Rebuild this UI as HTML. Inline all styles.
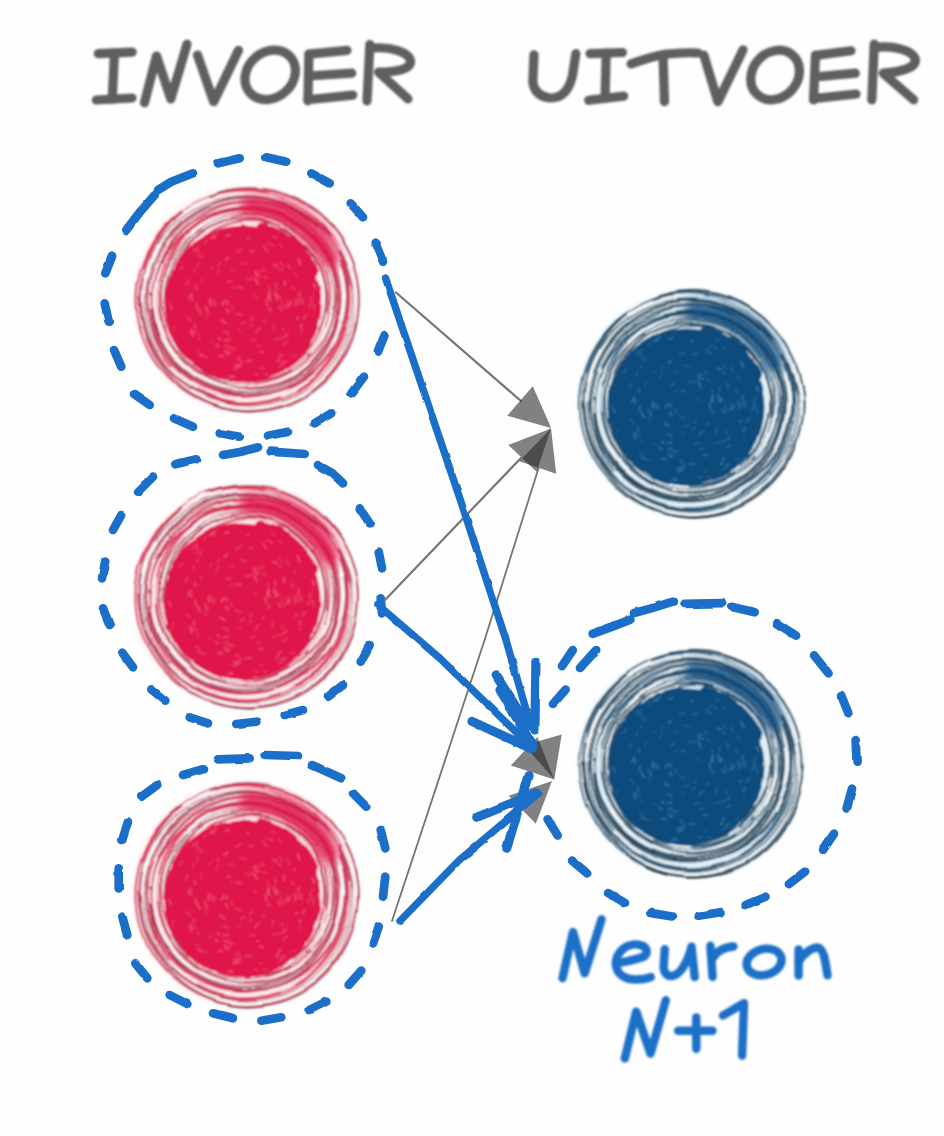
<!DOCTYPE html>
<html><head><meta charset="utf-8"><title>Neuron</title>
<style>
html,body{margin:0;padding:0;background:#fefefe;font-family:"Liberation Sans",sans-serif;}
svg{display:block}
</style></head><body>
<svg width="944" height="1136" viewBox="0 0 944 1136">
<defs>
<filter id="soft" x="-10%" y="-10%" width="120%" height="120%"><feGaussianBlur stdDeviation="0.9"/></filter>
<filter id="b3" x="-20%" y="-20%" width="140%" height="140%"><feGaussianBlur stdDeviation="3"/></filter>
<filter id="b5" x="-40%" y="-40%" width="180%" height="180%"><feGaussianBlur stdDeviation="5"/></filter>
<filter id="bt" x="-15%" y="-15%" width="130%" height="130%"><feGaussianBlur stdDeviation="0.8"/></filter>
<filter id="b1" x="-15%" y="-15%" width="130%" height="130%"><feGaussianBlur stdDeviation="0.6"/></filter>
<filter id="wob" color-interpolation-filters="sRGB" x="-10%" y="-10%" width="120%" height="120%"><feTurbulence type="fractalNoise" baseFrequency="0.022" numOctaves="1" seed="3" result="n"/><feDisplacementMap in="SourceGraphic" in2="n" scale="7" xChannelSelector="R" yChannelSelector="G"/><feGaussianBlur stdDeviation="0.7"/></filter>
<filter id="wob3" color-interpolation-filters="sRGB" x="-10%" y="-10%" width="120%" height="120%"><feTurbulence type="fractalNoise" baseFrequency="0.06" numOctaves="2" seed="11" result="n"/><feDisplacementMap in="SourceGraphic" in2="n" scale="2.6" xChannelSelector="R" yChannelSelector="G"/><feGaussianBlur stdDeviation="0.55"/></filter>
<filter id="wob2" color-interpolation-filters="sRGB" x="-10%" y="-10%" width="120%" height="120%"><feTurbulence type="fractalNoise" baseFrequency="0.06" numOctaves="2" seed="5" result="n"/><feDisplacementMap in="SourceGraphic" in2="n" scale="4" xChannelSelector="R" yChannelSelector="G"/></filter>
</defs>
<rect width="944" height="1136" fill="#fefefe"/>
<g filter="url(#soft)">
<circle cx="246.5" cy="299" r="111.5" fill="#fdebef" filter="url(#b3)"/>
<g filter="url(#wob)">
<ellipse cx="245.2" cy="296.5" rx="79.0" ry="76.5" transform="rotate(117 246.5 299)" fill="none" stroke="#dc3256" stroke-width="2.39" opacity="0.9"/>
<ellipse cx="245.5" cy="295.8" rx="83.0" ry="80.3" transform="rotate(91 246.5 299)" fill="none" stroke="#dc3256" stroke-width="2.29" opacity="0.9"/>
<ellipse cx="243.4" cy="296.1" rx="87.0" ry="87.6" transform="rotate(76 246.5 299)" fill="none" stroke="#dc3256" stroke-width="1.97" opacity="0.9"/>
<ellipse cx="244.5" cy="299.9" rx="91.1" ry="90.5" transform="rotate(171 246.5 299)" fill="none" stroke="#dc3256" stroke-width="2.25" opacity="0.9"/>
<ellipse cx="249.9" cy="295.7" rx="95.1" ry="93.1" transform="rotate(155 246.5 299)" fill="none" stroke="#dc3256" stroke-width="1.99" opacity="0.9"/>
<ellipse cx="243.7" cy="297.6" rx="99.1" ry="96.5" transform="rotate(147 246.5 299)" fill="none" stroke="#dc3256" stroke-width="2.44" opacity="0.9"/>
<ellipse cx="247.5" cy="298.1" rx="103.1" ry="99.8" transform="rotate(99 246.5 299)" fill="none" stroke="#dc3256" stroke-width="1.90" opacity="0.9"/>
<ellipse cx="244.4" cy="300.3" rx="107.1" ry="105.1" transform="rotate(77 246.5 299)" fill="none" stroke="#dc3256" stroke-width="2.45" opacity="0.9"/>
<ellipse cx="246.2" cy="297.6" rx="111.2" ry="111.2" transform="rotate(143 246.5 299)" fill="none" stroke="#dc3256" stroke-width="2.09" opacity="0.9"/>
<ellipse cx="247.1" cy="299.2" rx="80.5" ry="80.5" transform="rotate(158 246.5 299)" fill="none" stroke="#7d1f33" stroke-width="1.05" opacity="0.72"/>
<ellipse cx="244.9" cy="302.6" rx="84.5" ry="83.0" transform="rotate(21 246.5 299)" fill="none" stroke="#7d1f33" stroke-width="1.05" opacity="0.72"/>
<ellipse cx="248.5" cy="296.4" rx="88.4" ry="85.1" transform="rotate(88 246.5 299)" fill="none" stroke="#7d1f33" stroke-width="1.05" opacity="0.72"/>
<ellipse cx="247.8" cy="301.0" rx="92.4" ry="93.2" transform="rotate(103 246.5 299)" fill="none" stroke="#7d1f33" stroke-width="1.05" opacity="0.72"/>
<ellipse cx="245.1" cy="300.5" rx="96.4" ry="95.6" transform="rotate(107 246.5 299)" fill="none" stroke="#7d1f33" stroke-width="1.05" opacity="0.72"/>
<ellipse cx="246.2" cy="301.6" rx="100.3" ry="99.0" transform="rotate(170 246.5 299)" fill="none" stroke="#7d1f33" stroke-width="1.05" opacity="0.72"/>
<ellipse cx="247.7" cy="295.7" rx="104.3" ry="103.9" transform="rotate(126 246.5 299)" fill="none" stroke="#7d1f33" stroke-width="1.05" opacity="0.72"/>
<ellipse cx="250.2" cy="301.4" rx="108.3" ry="106.3" transform="rotate(51 246.5 299)" fill="none" stroke="#7d1f33" stroke-width="1.05" opacity="0.72"/>
<ellipse cx="247.8" cy="295.4" rx="112.3" ry="108.8" transform="rotate(83 246.5 299)" fill="none" stroke="#7d1f33" stroke-width="1.05" opacity="0.72"/>
<path d="M324.5,328.9 A85.2786822454885,85.2786822454885 0 0 1 310.8,352.3" fill="none" stroke="#ffffff" stroke-width="1.9" stroke-linecap="round" opacity="0.90"/>
<path d="M168.0,326.7 A84.25627643360389,84.25627643360389 0 0 1 163.9,305.4" fill="none" stroke="#ffffff" stroke-width="2.4" stroke-linecap="round" opacity="0.70"/>
<path d="M189.2,370.2 A93.62830248192756,93.62830248192756 0 0 1 167.8,345.4" fill="none" stroke="#ffffff" stroke-width="1.6" stroke-linecap="round" opacity="0.68"/>
<path d="M157.4,305.4 A88.5334103430641,88.5334103430641 0 0 1 158.4,281.6" fill="none" stroke="#ffffff" stroke-width="1.9" stroke-linecap="round" opacity="0.73"/>
<path d="M340.2,271.0 A97.85755426377898,97.85755426377898 0 0 1 344.4,299.7" fill="none" stroke="#ffffff" stroke-width="2.2" stroke-linecap="round" opacity="0.62"/>
<path d="M267.8,193.3 A107.18692428162265,107.18692428162265 0 0 1 302.5,206.5" fill="none" stroke="#ffffff" stroke-width="1.9" stroke-linecap="round" opacity="0.64"/>
<path d="M337.6,335.7 A99.76010783919986,99.76010783919986 0 0 1 332.2,346.8" fill="none" stroke="#ffffff" stroke-width="1.8" stroke-linecap="round" opacity="0.62"/>
<path d="M293.6,363.8 A82.00653189323799,82.00653189323799 0 0 1 284.4,369.6" fill="none" stroke="#ffffff" stroke-width="2.4" stroke-linecap="round" opacity="0.81"/>
<path d="M244.7,383.6 A86.15941358926496,86.15941358926496 0 0 1 227.5,381.7" fill="none" stroke="#ffffff" stroke-width="2.4" stroke-linecap="round" opacity="0.95"/>
<path d="M150.4,308.0 A95.04770485647815,95.04770485647815 0 0 1 149.9,295.8" fill="none" stroke="#ffffff" stroke-width="1.7" stroke-linecap="round" opacity="0.89"/>
<path d="M332.2,310.1 A86.52028109474008,86.52028109474008 0 0 1 321.9,340.2" fill="none" stroke="#ffffff" stroke-width="2.1" stroke-linecap="round" opacity="0.61"/>
<path d="M343.2,285.0 A96.78706434627259,96.78706434627259 0 0 1 341.9,318.3" fill="none" stroke="#ffffff" stroke-width="1.8" stroke-linecap="round" opacity="0.66"/>
<path d="M144.4,276.8 A103.61426143525688,103.61426143525688 0 0 1 156.3,245.8" fill="none" stroke="#ffffff" stroke-width="2.4" stroke-linecap="round" opacity="0.94"/>
<path d="M284.0,198.5 A105.8736063649065,105.8736063649065 0 0 1 314.5,216.0" fill="none" stroke="#ffffff" stroke-width="2.0" stroke-linecap="round" opacity="0.72"/>
<path d="M327.1,314.2 A82.81144422075823,82.81144422075823 0 0 1 323.1,328.8" fill="none" stroke="#ffffff" stroke-width="2.5" stroke-linecap="round" opacity="0.76"/>
<path d="M353.9,289.8 A108.23659363573478,108.23659363573478 0 0 1 349.5,329.5" fill="none" stroke="#ffffff" stroke-width="1.7" stroke-linecap="round" opacity="0.67"/>
<path d="M185.5,237.3 A87.72245417173424,87.72245417173424 0 0 1 210.9,219.4" fill="none" stroke="#ffffff" stroke-width="2.2" stroke-linecap="round" opacity="0.88"/>
<path d="M202.7,228.6 A84.37379762061065,84.37379762061065 0 0 1 230.6,217.4" fill="none" stroke="#ffffff" stroke-width="2.0" stroke-linecap="round" opacity="0.66"/>
<path d="M196.8,389.0 A104.09579206856773,104.09579206856773 0 0 1 170.4,367.5" fill="none" stroke="#ffffff" stroke-width="1.9" stroke-linecap="round" opacity="0.93"/>
<path d="M294.4,390.3 A102.29436263775803,102.29436263775803 0 0 1 281.4,396.3" fill="none" stroke="#ffffff" stroke-width="2.4" stroke-linecap="round" opacity="0.65"/>
<path d="M350.2,286.2 A105.14229339871083,105.14229339871083 0 0 1 349.6,316.4" fill="none" stroke="#ffffff" stroke-width="1.6" stroke-linecap="round" opacity="0.60"/>
<path d="M183.9,210.5 A109.1849249626574,109.1849249626574 0 0 1 207.9,197.3" fill="none" stroke="#ffffff" stroke-width="2.4" stroke-linecap="round" opacity="0.89"/>
<path d="M244.4,387.2 A87.90918544518817,87.90918544518817 0 0 1 228.2,385.5" fill="none" stroke="#ffffff" stroke-width="1.7" stroke-linecap="round" opacity="0.75"/>
<path d="M318.7,253.4 A85.67006294209753,85.67006294209753 0 0 1 326.5,269.0" fill="none" stroke="#ffffff" stroke-width="2.5" stroke-linecap="round" opacity="0.75"/>
<path d="M138.9,296.0 A107.6961903615946,107.6961903615946 0 0 1 142.6,269.0" fill="none" stroke="#ffffff" stroke-width="1.9" stroke-linecap="round" opacity="0.66"/>
<path d="M271.4,221.7 A82.11010949111798,82.11010949111798 0 0 1 283.0,226.4" fill="none" stroke="#ffffff" stroke-width="2.1" stroke-linecap="round" opacity="0.71"/>
<path d="M154.2,266.3 A96.51376395568504,96.51376395568504 0 0 1 169.4,239.2" fill="none" stroke="#ffffff" stroke-width="1.7" stroke-linecap="round" opacity="0.70"/>
<path d="M144.0,295.6 A103.62331076515368,103.62331076515368 0 0 1 148.9,269.0" fill="none" stroke="#ffffff" stroke-width="1.9" stroke-linecap="round" opacity="0.81"/>
<path d="M150.4,291.8 A96.15548766383421,96.15548766383421 0 0 1 156.8,264.0" fill="none" stroke="#ffffff" stroke-width="2.0" stroke-linecap="round" opacity="0.93"/>
<path d="M318.1,228.1 A101.578100701048,101.578100701048 0 0 1 338.8,258.9" fill="none" stroke="#ffffff" stroke-width="2.5" stroke-linecap="round" opacity="0.89"/>
<path d="M306.8,357.4 A85.83976420511185,85.83976420511185 0 0 1 291.7,369.8" fill="none" stroke="#ffffff" stroke-width="1.5" stroke-linecap="round" opacity="0.83"/>
<path d="M330.3,237.0 A103.95020848084835,103.95020848084835 0 0 1 338.6,249.9" fill="none" stroke="#ffffff" stroke-width="1.6" stroke-linecap="round" opacity="0.91"/>
</g>
<path d="M249.7,206.1 A93,93 0 0 1 330.1,258.2" fill="none" stroke="#e0194b" stroke-width="20" opacity="0.85" stroke-linecap="round" filter="url(#b5)"/>
<path d="M282.1,201.3 A104,104 0 0 1 331.7,239.3" fill="none" stroke="#e0194b" stroke-width="8" opacity="0.35" stroke-linecap="round" filter="url(#b3)"/>
<g filter="url(#wob2)"><circle cx="243" cy="304" r="78.5" fill="#e0194b"/>
<path d="M262.7,230.6 A76,76 0 0 1 311.9,271.9" fill="none" stroke="#e0194b" stroke-width="14" stroke-linecap="round"/></g>
<g filter="url(#b1)">
<line x1="278.1" y1="295.0" x2="276.8" y2="298.8" stroke="#f4728d" stroke-width="1.7" stroke-linecap="round" opacity="0.42"/>
<line x1="310.4" y1="297.8" x2="312.2" y2="301.5" stroke="#f4728d" stroke-width="1.7" stroke-linecap="round" opacity="0.43"/>
<line x1="227.9" y1="333.0" x2="222.9" y2="331.2" stroke="#f4728d" stroke-width="1.7" stroke-linecap="round" opacity="0.26"/>
<line x1="196.5" y1="289.2" x2="195.6" y2="285.6" stroke="#f4728d" stroke-width="1.7" stroke-linecap="round" opacity="0.47"/>
<line x1="222.3" y1="304.7" x2="225.7" y2="300.3" stroke="#f4728d" stroke-width="1.7" stroke-linecap="round" opacity="0.59"/>
<line x1="273.9" y1="324.9" x2="273.3" y2="330.4" stroke="#f4728d" stroke-width="1.7" stroke-linecap="round" opacity="0.34"/>
<line x1="279.2" y1="338.7" x2="273.7" y2="340.2" stroke="#f4728d" stroke-width="1.7" stroke-linecap="round" opacity="0.34"/>
<line x1="287.7" y1="360.7" x2="283.3" y2="363.4" stroke="#f4728d" stroke-width="1.7" stroke-linecap="round" opacity="0.28"/>
<line x1="301.6" y1="324.7" x2="300.8" y2="327.3" stroke="#f4728d" stroke-width="1.7" stroke-linecap="round" opacity="0.58"/>
<line x1="197.4" y1="256.5" x2="199.4" y2="251.0" stroke="#f4728d" stroke-width="1.7" stroke-linecap="round" opacity="0.27"/>
<line x1="273.9" y1="264.5" x2="277.9" y2="266.8" stroke="#f4728d" stroke-width="1.7" stroke-linecap="round" opacity="0.57"/>
<line x1="241.6" y1="331.0" x2="238.3" y2="330.5" stroke="#f4728d" stroke-width="1.7" stroke-linecap="round" opacity="0.29"/>
<line x1="253.0" y1="316.9" x2="250.8" y2="319.7" stroke="#f4728d" stroke-width="1.7" stroke-linecap="round" opacity="0.36"/>
<line x1="243.9" y1="263.6" x2="247.0" y2="263.8" stroke="#f4728d" stroke-width="1.7" stroke-linecap="round" opacity="0.37"/>
<line x1="279.1" y1="305.9" x2="281.5" y2="310.7" stroke="#f4728d" stroke-width="1.7" stroke-linecap="round" opacity="0.44"/>
<line x1="263.6" y1="352.2" x2="260.8" y2="351.8" stroke="#f4728d" stroke-width="1.7" stroke-linecap="round" opacity="0.54"/>
<line x1="195.0" y1="327.8" x2="194.9" y2="323.8" stroke="#f4728d" stroke-width="1.7" stroke-linecap="round" opacity="0.43"/>
<line x1="212.3" y1="236.8" x2="217.1" y2="233.7" stroke="#f4728d" stroke-width="1.7" stroke-linecap="round" opacity="0.50"/>
<line x1="210.9" y1="269.0" x2="212.5" y2="267.0" stroke="#f4728d" stroke-width="1.7" stroke-linecap="round" opacity="0.30"/>
<line x1="301.5" y1="330.2" x2="301.1" y2="333.3" stroke="#f4728d" stroke-width="1.7" stroke-linecap="round" opacity="0.28"/>
<line x1="279.7" y1="244.0" x2="282.2" y2="246.5" stroke="#f4728d" stroke-width="1.7" stroke-linecap="round" opacity="0.33"/>
<line x1="231.5" y1="352.7" x2="227.3" y2="353.3" stroke="#f4728d" stroke-width="1.7" stroke-linecap="round" opacity="0.34"/>
<line x1="314.5" y1="284.8" x2="315.2" y2="288.1" stroke="#f4728d" stroke-width="1.7" stroke-linecap="round" opacity="0.59"/>
<line x1="228.5" y1="345.3" x2="224.7" y2="346.1" stroke="#f4728d" stroke-width="1.7" stroke-linecap="round" opacity="0.42"/>
<line x1="209.4" y1="304.6" x2="209.4" y2="302.2" stroke="#f4728d" stroke-width="1.7" stroke-linecap="round" opacity="0.34"/>
<line x1="283.1" y1="328.1" x2="283.0" y2="330.6" stroke="#f4728d" stroke-width="1.7" stroke-linecap="round" opacity="0.36"/>
<line x1="251.9" y1="360.9" x2="246.5" y2="361.3" stroke="#f4728d" stroke-width="1.7" stroke-linecap="round" opacity="0.48"/>
<line x1="226.3" y1="235.9" x2="229.8" y2="234.7" stroke="#f4728d" stroke-width="1.7" stroke-linecap="round" opacity="0.59"/>
<line x1="281.8" y1="354.9" x2="279.5" y2="356.1" stroke="#f4728d" stroke-width="1.7" stroke-linecap="round" opacity="0.54"/>
<line x1="288.1" y1="264.1" x2="290.3" y2="269.3" stroke="#f4728d" stroke-width="1.7" stroke-linecap="round" opacity="0.30"/>
<line x1="188.9" y1="298.5" x2="191.8" y2="293.7" stroke="#f4728d" stroke-width="1.7" stroke-linecap="round" opacity="0.54"/>
<line x1="180.0" y1="270.2" x2="183.5" y2="266.4" stroke="#f4728d" stroke-width="1.7" stroke-linecap="round" opacity="0.33"/>
<line x1="269.9" y1="307.9" x2="269.8" y2="310.7" stroke="#f4728d" stroke-width="1.7" stroke-linecap="round" opacity="0.54"/>
<line x1="186.3" y1="284.9" x2="188.8" y2="280.4" stroke="#f4728d" stroke-width="1.7" stroke-linecap="round" opacity="0.42"/>
<line x1="310.7" y1="303.3" x2="309.3" y2="307.5" stroke="#f4728d" stroke-width="1.7" stroke-linecap="round" opacity="0.44"/>
<line x1="231.0" y1="288.3" x2="234.2" y2="287.3" stroke="#f4728d" stroke-width="1.7" stroke-linecap="round" opacity="0.28"/>
<line x1="239.3" y1="367.1" x2="234.2" y2="368.4" stroke="#f4728d" stroke-width="1.7" stroke-linecap="round" opacity="0.59"/>
<line x1="196.8" y1="308.3" x2="196.5" y2="303.2" stroke="#f4728d" stroke-width="1.7" stroke-linecap="round" opacity="0.52"/>
<line x1="198.1" y1="265.1" x2="198.7" y2="262.2" stroke="#f4728d" stroke-width="1.7" stroke-linecap="round" opacity="0.34"/>
<line x1="240.0" y1="262.6" x2="242.5" y2="262.7" stroke="#f4728d" stroke-width="1.7" stroke-linecap="round" opacity="0.27"/>
<line x1="238.2" y1="365.9" x2="233.4" y2="364.2" stroke="#f4728d" stroke-width="1.7" stroke-linecap="round" opacity="0.35"/>
<line x1="192.1" y1="300.1" x2="192.2" y2="297.3" stroke="#f4728d" stroke-width="1.7" stroke-linecap="round" opacity="0.56"/>
<line x1="267.5" y1="374.7" x2="265.0" y2="374.2" stroke="#f4728d" stroke-width="1.7" stroke-linecap="round" opacity="0.41"/>
<line x1="272.8" y1="236.6" x2="276.0" y2="237.9" stroke="#f4728d" stroke-width="1.7" stroke-linecap="round" opacity="0.32"/>
<line x1="275.1" y1="291.0" x2="275.8" y2="293.9" stroke="#f4728d" stroke-width="1.7" stroke-linecap="round" opacity="0.43"/>
<line x1="269.3" y1="293.8" x2="268.9" y2="298.2" stroke="#f4728d" stroke-width="1.7" stroke-linecap="round" opacity="0.56"/>
<line x1="230.4" y1="269.1" x2="234.7" y2="269.9" stroke="#f4728d" stroke-width="1.7" stroke-linecap="round" opacity="0.26"/>
<line x1="295.5" y1="303.4" x2="295.6" y2="307.0" stroke="#f4728d" stroke-width="1.7" stroke-linecap="round" opacity="0.30"/>
<line x1="220.2" y1="340.0" x2="218.9" y2="338.0" stroke="#f4728d" stroke-width="1.7" stroke-linecap="round" opacity="0.51"/>
<line x1="255.5" y1="279.7" x2="258.1" y2="284.3" stroke="#f4728d" stroke-width="1.7" stroke-linecap="round" opacity="0.57"/>
<line x1="234.8" y1="348.7" x2="228.5" y2="347.9" stroke="#f4728d" stroke-width="1.7" stroke-linecap="round" opacity="0.46"/>
<line x1="212.7" y1="342.2" x2="210.4" y2="341.1" stroke="#f4728d" stroke-width="1.7" stroke-linecap="round" opacity="0.29"/>
<line x1="262.5" y1="268.0" x2="264.2" y2="270.9" stroke="#f4728d" stroke-width="1.7" stroke-linecap="round" opacity="0.34"/>
<line x1="210.7" y1="304.9" x2="210.1" y2="298.6" stroke="#f4728d" stroke-width="1.7" stroke-linecap="round" opacity="0.56"/>
<line x1="263.7" y1="246.5" x2="267.6" y2="251.3" stroke="#f4728d" stroke-width="1.7" stroke-linecap="round" opacity="0.44"/>
<line x1="237.7" y1="287.4" x2="241.9" y2="287.8" stroke="#f4728d" stroke-width="1.7" stroke-linecap="round" opacity="0.51"/>
<line x1="217.2" y1="275.2" x2="219.4" y2="269.5" stroke="#f4728d" stroke-width="1.7" stroke-linecap="round" opacity="0.29"/>
<line x1="200.8" y1="314.1" x2="198.6" y2="309.2" stroke="#f4728d" stroke-width="1.7" stroke-linecap="round" opacity="0.59"/>
<line x1="241.4" y1="364.2" x2="236.8" y2="365.0" stroke="#f4728d" stroke-width="1.7" stroke-linecap="round" opacity="0.39"/>
<line x1="259.9" y1="327.9" x2="256.0" y2="332.5" stroke="#f4728d" stroke-width="1.7" stroke-linecap="round" opacity="0.42"/>
<line x1="258.3" y1="375.0" x2="254.4" y2="373.3" stroke="#f4728d" stroke-width="1.7" stroke-linecap="round" opacity="0.30"/>
<line x1="252.2" y1="324.4" x2="249.8" y2="325.9" stroke="#f4728d" stroke-width="1.7" stroke-linecap="round" opacity="0.33"/>
<line x1="242.4" y1="361.9" x2="237.7" y2="359.2" stroke="#f4728d" stroke-width="1.7" stroke-linecap="round" opacity="0.39"/>
<line x1="197.6" y1="333.4" x2="195.3" y2="330.5" stroke="#f4728d" stroke-width="1.7" stroke-linecap="round" opacity="0.27"/>
<line x1="232.4" y1="376.1" x2="228.2" y2="377.3" stroke="#f4728d" stroke-width="1.7" stroke-linecap="round" opacity="0.47"/>
<line x1="264.2" y1="276.8" x2="267.2" y2="278.3" stroke="#f4728d" stroke-width="1.7" stroke-linecap="round" opacity="0.39"/>
<line x1="173.7" y1="331.4" x2="174.2" y2="325.5" stroke="#f4728d" stroke-width="1.7" stroke-linecap="round" opacity="0.26"/>
<line x1="306.2" y1="315.0" x2="303.5" y2="318.4" stroke="#f4728d" stroke-width="1.7" stroke-linecap="round" opacity="0.46"/>
<line x1="291.3" y1="301.6" x2="288.5" y2="306.5" stroke="#f4728d" stroke-width="1.7" stroke-linecap="round" opacity="0.55"/>
<line x1="278.9" y1="296.3" x2="280.7" y2="298.7" stroke="#f4728d" stroke-width="1.7" stroke-linecap="round" opacity="0.43"/>
<line x1="210.4" y1="238.2" x2="215.3" y2="237.4" stroke="#f4728d" stroke-width="1.7" stroke-linecap="round" opacity="0.52"/>
<line x1="191.3" y1="320.6" x2="187.3" y2="316.9" stroke="#f4728d" stroke-width="1.7" stroke-linecap="round" opacity="0.33"/>
<line x1="294.8" y1="273.9" x2="296.8" y2="276.0" stroke="#f4728d" stroke-width="1.7" stroke-linecap="round" opacity="0.34"/>
<line x1="201.4" y1="257.9" x2="202.4" y2="255.4" stroke="#f4728d" stroke-width="1.7" stroke-linecap="round" opacity="0.43"/>
<line x1="202.0" y1="283.1" x2="202.9" y2="278.4" stroke="#f4728d" stroke-width="1.7" stroke-linecap="round" opacity="0.25"/>
<line x1="228.4" y1="354.2" x2="225.2" y2="350.4" stroke="#f4728d" stroke-width="1.7" stroke-linecap="round" opacity="0.56"/>
<line x1="208.5" y1="312.4" x2="205.7" y2="306.8" stroke="#f4728d" stroke-width="1.7" stroke-linecap="round" opacity="0.50"/>
<line x1="241.5" y1="315.3" x2="236.7" y2="313.5" stroke="#f4728d" stroke-width="1.7" stroke-linecap="round" opacity="0.40"/>
<line x1="241.6" y1="366.1" x2="238.8" y2="364.3" stroke="#f4728d" stroke-width="1.7" stroke-linecap="round" opacity="0.26"/>
<line x1="218.6" y1="346.5" x2="216.3" y2="344.3" stroke="#f4728d" stroke-width="1.7" stroke-linecap="round" opacity="0.53"/>
<line x1="236.5" y1="252.1" x2="242.2" y2="249.5" stroke="#f4728d" stroke-width="1.7" stroke-linecap="round" opacity="0.36"/>
<line x1="255.6" y1="271.1" x2="261.0" y2="271.7" stroke="#f4728d" stroke-width="1.7" stroke-linecap="round" opacity="0.35"/>
<line x1="292.4" y1="287.0" x2="294.4" y2="289.6" stroke="#f4728d" stroke-width="1.7" stroke-linecap="round" opacity="0.40"/>
<line x1="204.8" y1="242.7" x2="207.1" y2="239.4" stroke="#f4728d" stroke-width="1.7" stroke-linecap="round" opacity="0.32"/>
<line x1="270.0" y1="298.4" x2="271.7" y2="300.4" stroke="#f4728d" stroke-width="1.7" stroke-linecap="round" opacity="0.39"/>
<line x1="298.4" y1="258.9" x2="300.7" y2="264.9" stroke="#f4728d" stroke-width="1.7" stroke-linecap="round" opacity="0.58"/>
<line x1="229.0" y1="334.7" x2="226.2" y2="330.1" stroke="#f4728d" stroke-width="1.7" stroke-linecap="round" opacity="0.26"/>
<line x1="217.9" y1="265.5" x2="220.8" y2="263.2" stroke="#f4728d" stroke-width="1.7" stroke-linecap="round" opacity="0.31"/>
<line x1="282.2" y1="301.6" x2="283.2" y2="307.8" stroke="#f4728d" stroke-width="1.7" stroke-linecap="round" opacity="0.29"/>
<line x1="275.2" y1="293.8" x2="277.4" y2="299.0" stroke="#f4728d" stroke-width="1.7" stroke-linecap="round" opacity="0.54"/>
<line x1="228.7" y1="312.6" x2="227.0" y2="309.1" stroke="#f4728d" stroke-width="1.7" stroke-linecap="round" opacity="0.57"/>
<line x1="260.1" y1="346.5" x2="257.6" y2="346.2" stroke="#f4728d" stroke-width="1.7" stroke-linecap="round" opacity="0.39"/>
<line x1="266.6" y1="243.4" x2="269.1" y2="243.0" stroke="#f4728d" stroke-width="1.7" stroke-linecap="round" opacity="0.27"/>
<line x1="275.7" y1="282.8" x2="276.9" y2="288.6" stroke="#f4728d" stroke-width="1.7" stroke-linecap="round" opacity="0.37"/>
<line x1="234.4" y1="377.2" x2="231.1" y2="376.2" stroke="#f4728d" stroke-width="1.7" stroke-linecap="round" opacity="0.50"/>
<line x1="229.7" y1="339.5" x2="224.4" y2="340.5" stroke="#f4728d" stroke-width="1.7" stroke-linecap="round" opacity="0.57"/>
<line x1="194.0" y1="251.3" x2="194.9" y2="248.1" stroke="#f4728d" stroke-width="1.7" stroke-linecap="round" opacity="0.42"/>
<line x1="312.9" y1="282.8" x2="314.2" y2="285.9" stroke="#f4728d" stroke-width="1.7" stroke-linecap="round" opacity="0.40"/>
<line x1="172.0" y1="309.5" x2="169.7" y2="304.4" stroke="#f4728d" stroke-width="1.7" stroke-linecap="round" opacity="0.51"/>
<line x1="270.6" y1="243.8" x2="273.6" y2="245.9" stroke="#f4728d" stroke-width="1.7" stroke-linecap="round" opacity="0.36"/>
<line x1="201.7" y1="354.9" x2="198.6" y2="354.3" stroke="#f4728d" stroke-width="1.7" stroke-linecap="round" opacity="0.51"/>
<line x1="245.3" y1="321.8" x2="241.4" y2="324.3" stroke="#f4728d" stroke-width="1.7" stroke-linecap="round" opacity="0.36"/>
<line x1="313.7" y1="293.7" x2="312.2" y2="296.8" stroke="#f4728d" stroke-width="1.7" stroke-linecap="round" opacity="0.28"/>
<line x1="288.1" y1="332.8" x2="284.9" y2="335.5" stroke="#f4728d" stroke-width="1.7" stroke-linecap="round" opacity="0.33"/>
<line x1="192.6" y1="336.0" x2="191.0" y2="330.9" stroke="#f4728d" stroke-width="1.7" stroke-linecap="round" opacity="0.55"/>
<line x1="227.9" y1="281.8" x2="231.4" y2="281.3" stroke="#f4728d" stroke-width="1.7" stroke-linecap="round" opacity="0.45"/>
<line x1="199.6" y1="350.8" x2="196.5" y2="349.5" stroke="#f4728d" stroke-width="1.7" stroke-linecap="round" opacity="0.34"/>
<line x1="284.9" y1="361.0" x2="281.6" y2="362.8" stroke="#f4728d" stroke-width="1.7" stroke-linecap="round" opacity="0.39"/>
<line x1="295.3" y1="298.8" x2="297.4" y2="304.1" stroke="#f4728d" stroke-width="1.7" stroke-linecap="round" opacity="0.48"/>
<line x1="266.7" y1="299.8" x2="267.2" y2="305.5" stroke="#f4728d" stroke-width="1.7" stroke-linecap="round" opacity="0.54"/>
<line x1="254.9" y1="295.3" x2="257.0" y2="297.3" stroke="#f4728d" stroke-width="1.7" stroke-linecap="round" opacity="0.32"/>
<line x1="300.1" y1="292.5" x2="298.8" y2="296.1" stroke="#f4728d" stroke-width="1.7" stroke-linecap="round" opacity="0.55"/>
<line x1="206.7" y1="319.1" x2="206.7" y2="312.9" stroke="#f4728d" stroke-width="1.7" stroke-linecap="round" opacity="0.29"/>
<line x1="193.9" y1="272.3" x2="194.9" y2="268.6" stroke="#f4728d" stroke-width="1.7" stroke-linecap="round" opacity="0.30"/>
<line x1="256.3" y1="339.9" x2="251.3" y2="340.7" stroke="#f4728d" stroke-width="1.7" stroke-linecap="round" opacity="0.32"/>
<line x1="286.2" y1="305.6" x2="285.4" y2="308.6" stroke="#f4728d" stroke-width="1.7" stroke-linecap="round" opacity="0.36"/>
<line x1="263.6" y1="367.7" x2="261.0" y2="368.3" stroke="#f4728d" stroke-width="1.7" stroke-linecap="round" opacity="0.29"/>
<line x1="199.6" y1="339.2" x2="198.3" y2="336.8" stroke="#f4728d" stroke-width="1.7" stroke-linecap="round" opacity="0.31"/>
<line x1="225.4" y1="259.8" x2="228.3" y2="257.8" stroke="#f4728d" stroke-width="1.7" stroke-linecap="round" opacity="0.58"/>
<line x1="223.4" y1="356.6" x2="219.5" y2="355.7" stroke="#f4728d" stroke-width="1.7" stroke-linecap="round" opacity="0.55"/>
<line x1="287.2" y1="300.6" x2="289.2" y2="305.5" stroke="#f4728d" stroke-width="1.7" stroke-linecap="round" opacity="0.32"/>
<line x1="314.0" y1="303.8" x2="314.3" y2="309.5" stroke="#f4728d" stroke-width="1.7" stroke-linecap="round" opacity="0.39"/>
<line x1="279.6" y1="269.3" x2="281.9" y2="270.3" stroke="#f4728d" stroke-width="1.7" stroke-linecap="round" opacity="0.44"/>
<line x1="196.7" y1="250.9" x2="198.6" y2="246.4" stroke="#f4728d" stroke-width="1.7" stroke-linecap="round" opacity="0.38"/>
<line x1="214.9" y1="305.4" x2="213.8" y2="301.0" stroke="#f4728d" stroke-width="1.7" stroke-linecap="round" opacity="0.57"/>
<line x1="286.4" y1="335.6" x2="281.0" y2="338.7" stroke="#f4728d" stroke-width="1.7" stroke-linecap="round" opacity="0.32"/>
<line x1="296.1" y1="355.6" x2="291.8" y2="356.5" stroke="#f4728d" stroke-width="1.7" stroke-linecap="round" opacity="0.27"/>
<line x1="284.8" y1="280.7" x2="284.7" y2="285.5" stroke="#f4728d" stroke-width="1.7" stroke-linecap="round" opacity="0.54"/>
<line x1="279.8" y1="358.6" x2="277.3" y2="361.8" stroke="#f4728d" stroke-width="1.7" stroke-linecap="round" opacity="0.55"/>
<line x1="256.3" y1="275.5" x2="260.3" y2="276.1" stroke="#f4728d" stroke-width="1.7" stroke-linecap="round" opacity="0.43"/>
<line x1="225.7" y1="322.9" x2="221.1" y2="320.2" stroke="#f4728d" stroke-width="1.7" stroke-linecap="round" opacity="0.56"/>
<line x1="298.1" y1="317.3" x2="296.7" y2="319.4" stroke="#f4728d" stroke-width="1.7" stroke-linecap="round" opacity="0.54"/>
<line x1="287.7" y1="341.4" x2="284.1" y2="344.9" stroke="#f4728d" stroke-width="1.7" stroke-linecap="round" opacity="0.36"/>
<line x1="194.2" y1="333.6" x2="191.4" y2="329.5" stroke="#f4728d" stroke-width="1.7" stroke-linecap="round" opacity="0.41"/>
<line x1="232.9" y1="310.4" x2="231.9" y2="306.2" stroke="#f4728d" stroke-width="1.7" stroke-linecap="round" opacity="0.33"/>
<line x1="247.1" y1="237.9" x2="250.2" y2="238.1" stroke="#f4728d" stroke-width="1.7" stroke-linecap="round" opacity="0.42"/>
<line x1="264.8" y1="319.6" x2="263.3" y2="321.9" stroke="#f4728d" stroke-width="1.7" stroke-linecap="round" opacity="0.40"/>
<line x1="227.6" y1="304.4" x2="228.2" y2="301.7" stroke="#f4728d" stroke-width="1.7" stroke-linecap="round" opacity="0.51"/>
<line x1="250.2" y1="251.9" x2="254.3" y2="250.4" stroke="#f4728d" stroke-width="1.7" stroke-linecap="round" opacity="0.38"/>
<line x1="269.8" y1="292.4" x2="269.0" y2="298.8" stroke="#f4728d" stroke-width="1.7" stroke-linecap="round" opacity="0.51"/>
<line x1="254.9" y1="271.9" x2="257.3" y2="275.5" stroke="#f4728d" stroke-width="1.7" stroke-linecap="round" opacity="0.58"/>
<line x1="268.8" y1="285.6" x2="269.9" y2="291.7" stroke="#f4728d" stroke-width="1.7" stroke-linecap="round" opacity="0.27"/>
<line x1="207.3" y1="357.2" x2="201.5" y2="355.9" stroke="#f4728d" stroke-width="1.7" stroke-linecap="round" opacity="0.35"/>
<line x1="251.6" y1="276.7" x2="257.2" y2="279.2" stroke="#f4728d" stroke-width="1.7" stroke-linecap="round" opacity="0.32"/>
<line x1="240.0" y1="357.0" x2="237.4" y2="357.3" stroke="#f4728d" stroke-width="1.7" stroke-linecap="round" opacity="0.31"/>
<line x1="284.2" y1="364.6" x2="278.6" y2="366.6" stroke="#f4728d" stroke-width="1.7" stroke-linecap="round" opacity="0.31"/>
<line x1="246.1" y1="278.5" x2="250.9" y2="279.8" stroke="#f4728d" stroke-width="1.7" stroke-linecap="round" opacity="0.38"/>
<line x1="280.1" y1="261.7" x2="283.9" y2="266.2" stroke="#f4728d" stroke-width="1.7" stroke-linecap="round" opacity="0.29"/>
<line x1="302.0" y1="298.6" x2="302.9" y2="304.1" stroke="#f4728d" stroke-width="1.7" stroke-linecap="round" opacity="0.34"/>
<line x1="299.3" y1="297.9" x2="300.5" y2="303.3" stroke="#f4728d" stroke-width="1.7" stroke-linecap="round" opacity="0.40"/>
</g>
</g>
<g filter="url(#soft)">
<circle cx="245.5" cy="596" r="111.5" fill="#fdebef" filter="url(#b3)"/>
<g filter="url(#wob)">
<ellipse cx="244.2" cy="593.5" rx="79.0" ry="76.5" transform="rotate(117 245.5 596)" fill="none" stroke="#dc3256" stroke-width="2.39" opacity="0.9"/>
<ellipse cx="244.5" cy="592.8" rx="83.0" ry="80.3" transform="rotate(91 245.5 596)" fill="none" stroke="#dc3256" stroke-width="2.29" opacity="0.9"/>
<ellipse cx="242.4" cy="593.1" rx="87.0" ry="87.6" transform="rotate(76 245.5 596)" fill="none" stroke="#dc3256" stroke-width="1.97" opacity="0.9"/>
<ellipse cx="243.5" cy="596.9" rx="91.1" ry="90.5" transform="rotate(171 245.5 596)" fill="none" stroke="#dc3256" stroke-width="2.25" opacity="0.9"/>
<ellipse cx="248.9" cy="592.7" rx="95.1" ry="93.1" transform="rotate(155 245.5 596)" fill="none" stroke="#dc3256" stroke-width="1.99" opacity="0.9"/>
<ellipse cx="242.7" cy="594.6" rx="99.1" ry="96.5" transform="rotate(147 245.5 596)" fill="none" stroke="#dc3256" stroke-width="2.44" opacity="0.9"/>
<ellipse cx="246.5" cy="595.1" rx="103.1" ry="99.8" transform="rotate(99 245.5 596)" fill="none" stroke="#dc3256" stroke-width="1.90" opacity="0.9"/>
<ellipse cx="243.4" cy="597.3" rx="107.1" ry="105.1" transform="rotate(77 245.5 596)" fill="none" stroke="#dc3256" stroke-width="2.45" opacity="0.9"/>
<ellipse cx="245.2" cy="594.6" rx="111.2" ry="111.2" transform="rotate(143 245.5 596)" fill="none" stroke="#dc3256" stroke-width="2.09" opacity="0.9"/>
<ellipse cx="246.1" cy="596.2" rx="80.5" ry="80.5" transform="rotate(158 245.5 596)" fill="none" stroke="#7d1f33" stroke-width="1.05" opacity="0.72"/>
<ellipse cx="243.9" cy="599.6" rx="84.5" ry="83.0" transform="rotate(21 245.5 596)" fill="none" stroke="#7d1f33" stroke-width="1.05" opacity="0.72"/>
<ellipse cx="247.5" cy="593.4" rx="88.4" ry="85.1" transform="rotate(88 245.5 596)" fill="none" stroke="#7d1f33" stroke-width="1.05" opacity="0.72"/>
<ellipse cx="246.8" cy="598.0" rx="92.4" ry="93.2" transform="rotate(103 245.5 596)" fill="none" stroke="#7d1f33" stroke-width="1.05" opacity="0.72"/>
<ellipse cx="244.1" cy="597.5" rx="96.4" ry="95.6" transform="rotate(107 245.5 596)" fill="none" stroke="#7d1f33" stroke-width="1.05" opacity="0.72"/>
<ellipse cx="245.2" cy="598.6" rx="100.3" ry="99.0" transform="rotate(170 245.5 596)" fill="none" stroke="#7d1f33" stroke-width="1.05" opacity="0.72"/>
<ellipse cx="246.7" cy="592.7" rx="104.3" ry="103.9" transform="rotate(126 245.5 596)" fill="none" stroke="#7d1f33" stroke-width="1.05" opacity="0.72"/>
<ellipse cx="249.2" cy="598.4" rx="108.3" ry="106.3" transform="rotate(51 245.5 596)" fill="none" stroke="#7d1f33" stroke-width="1.05" opacity="0.72"/>
<ellipse cx="246.8" cy="592.4" rx="112.3" ry="108.8" transform="rotate(83 245.5 596)" fill="none" stroke="#7d1f33" stroke-width="1.05" opacity="0.72"/>
<path d="M323.5,625.9 A85.2786822454885,85.2786822454885 0 0 1 309.8,649.3" fill="none" stroke="#ffffff" stroke-width="1.9" stroke-linecap="round" opacity="0.90"/>
<path d="M167.0,623.7 A84.25627643360389,84.25627643360389 0 0 1 162.9,602.4" fill="none" stroke="#ffffff" stroke-width="2.4" stroke-linecap="round" opacity="0.70"/>
<path d="M188.2,667.2 A93.62830248192756,93.62830248192756 0 0 1 166.8,642.4" fill="none" stroke="#ffffff" stroke-width="1.6" stroke-linecap="round" opacity="0.68"/>
<path d="M156.4,602.4 A88.5334103430641,88.5334103430641 0 0 1 157.4,578.6" fill="none" stroke="#ffffff" stroke-width="1.9" stroke-linecap="round" opacity="0.73"/>
<path d="M339.2,568.0 A97.85755426377898,97.85755426377898 0 0 1 343.4,596.7" fill="none" stroke="#ffffff" stroke-width="2.2" stroke-linecap="round" opacity="0.62"/>
<path d="M266.8,490.3 A107.18692428162265,107.18692428162265 0 0 1 301.5,503.5" fill="none" stroke="#ffffff" stroke-width="1.9" stroke-linecap="round" opacity="0.64"/>
<path d="M336.6,632.7 A99.76010783919986,99.76010783919986 0 0 1 331.2,643.8" fill="none" stroke="#ffffff" stroke-width="1.8" stroke-linecap="round" opacity="0.62"/>
<path d="M292.6,660.8 A82.00653189323799,82.00653189323799 0 0 1 283.4,666.6" fill="none" stroke="#ffffff" stroke-width="2.4" stroke-linecap="round" opacity="0.81"/>
<path d="M243.7,680.6 A86.15941358926496,86.15941358926496 0 0 1 226.5,678.7" fill="none" stroke="#ffffff" stroke-width="2.4" stroke-linecap="round" opacity="0.95"/>
<path d="M149.4,605.0 A95.04770485647815,95.04770485647815 0 0 1 148.9,592.8" fill="none" stroke="#ffffff" stroke-width="1.7" stroke-linecap="round" opacity="0.89"/>
<path d="M331.2,607.1 A86.52028109474008,86.52028109474008 0 0 1 320.9,637.2" fill="none" stroke="#ffffff" stroke-width="2.1" stroke-linecap="round" opacity="0.61"/>
<path d="M342.2,582.0 A96.78706434627259,96.78706434627259 0 0 1 340.9,615.3" fill="none" stroke="#ffffff" stroke-width="1.8" stroke-linecap="round" opacity="0.66"/>
<path d="M143.4,573.8 A103.61426143525688,103.61426143525688 0 0 1 155.3,542.8" fill="none" stroke="#ffffff" stroke-width="2.4" stroke-linecap="round" opacity="0.94"/>
<path d="M283.0,495.5 A105.8736063649065,105.8736063649065 0 0 1 313.5,513.0" fill="none" stroke="#ffffff" stroke-width="2.0" stroke-linecap="round" opacity="0.72"/>
<path d="M326.1,611.2 A82.81144422075823,82.81144422075823 0 0 1 322.1,625.8" fill="none" stroke="#ffffff" stroke-width="2.5" stroke-linecap="round" opacity="0.76"/>
<path d="M352.9,586.8 A108.23659363573478,108.23659363573478 0 0 1 348.5,626.5" fill="none" stroke="#ffffff" stroke-width="1.7" stroke-linecap="round" opacity="0.67"/>
<path d="M184.5,534.3 A87.72245417173424,87.72245417173424 0 0 1 209.9,516.4" fill="none" stroke="#ffffff" stroke-width="2.2" stroke-linecap="round" opacity="0.88"/>
<path d="M201.7,525.6 A84.37379762061065,84.37379762061065 0 0 1 229.6,514.4" fill="none" stroke="#ffffff" stroke-width="2.0" stroke-linecap="round" opacity="0.66"/>
<path d="M195.8,686.0 A104.09579206856773,104.09579206856773 0 0 1 169.4,664.5" fill="none" stroke="#ffffff" stroke-width="1.9" stroke-linecap="round" opacity="0.93"/>
<path d="M293.4,687.3 A102.29436263775803,102.29436263775803 0 0 1 280.4,693.3" fill="none" stroke="#ffffff" stroke-width="2.4" stroke-linecap="round" opacity="0.65"/>
<path d="M349.2,583.2 A105.14229339871083,105.14229339871083 0 0 1 348.6,613.4" fill="none" stroke="#ffffff" stroke-width="1.6" stroke-linecap="round" opacity="0.60"/>
<path d="M182.9,507.5 A109.1849249626574,109.1849249626574 0 0 1 206.9,494.3" fill="none" stroke="#ffffff" stroke-width="2.4" stroke-linecap="round" opacity="0.89"/>
<path d="M243.4,684.2 A87.90918544518817,87.90918544518817 0 0 1 227.2,682.5" fill="none" stroke="#ffffff" stroke-width="1.7" stroke-linecap="round" opacity="0.75"/>
<path d="M317.7,550.4 A85.67006294209753,85.67006294209753 0 0 1 325.5,566.0" fill="none" stroke="#ffffff" stroke-width="2.5" stroke-linecap="round" opacity="0.75"/>
<path d="M137.9,593.0 A107.6961903615946,107.6961903615946 0 0 1 141.6,566.0" fill="none" stroke="#ffffff" stroke-width="1.9" stroke-linecap="round" opacity="0.66"/>
<path d="M270.4,518.7 A82.11010949111798,82.11010949111798 0 0 1 282.0,523.4" fill="none" stroke="#ffffff" stroke-width="2.1" stroke-linecap="round" opacity="0.71"/>
<path d="M153.2,563.3 A96.51376395568504,96.51376395568504 0 0 1 168.4,536.2" fill="none" stroke="#ffffff" stroke-width="1.7" stroke-linecap="round" opacity="0.70"/>
<path d="M143.0,592.6 A103.62331076515368,103.62331076515368 0 0 1 147.9,566.0" fill="none" stroke="#ffffff" stroke-width="1.9" stroke-linecap="round" opacity="0.81"/>
<path d="M149.4,588.8 A96.15548766383421,96.15548766383421 0 0 1 155.8,561.0" fill="none" stroke="#ffffff" stroke-width="2.0" stroke-linecap="round" opacity="0.93"/>
<path d="M317.1,525.1 A101.578100701048,101.578100701048 0 0 1 337.8,555.9" fill="none" stroke="#ffffff" stroke-width="2.5" stroke-linecap="round" opacity="0.89"/>
<path d="M305.8,654.4 A85.83976420511185,85.83976420511185 0 0 1 290.7,666.8" fill="none" stroke="#ffffff" stroke-width="1.5" stroke-linecap="round" opacity="0.83"/>
<path d="M329.3,534.0 A103.95020848084835,103.95020848084835 0 0 1 337.6,546.9" fill="none" stroke="#ffffff" stroke-width="1.6" stroke-linecap="round" opacity="0.91"/>
</g>
<path d="M248.7,503.1 A93,93 0 0 1 329.1,555.2" fill="none" stroke="#e0194b" stroke-width="20" opacity="0.85" stroke-linecap="round" filter="url(#b5)"/>
<path d="M281.1,498.3 A104,104 0 0 1 330.7,536.3" fill="none" stroke="#e0194b" stroke-width="8" opacity="0.35" stroke-linecap="round" filter="url(#b3)"/>
<g filter="url(#wob2)"><circle cx="242" cy="601" r="78.5" fill="#e0194b"/>
<path d="M261.7,527.6 A76,76 0 0 1 310.9,568.9" fill="none" stroke="#e0194b" stroke-width="14" stroke-linecap="round"/></g>
<g filter="url(#b1)">
<line x1="277.1" y1="592.0" x2="275.8" y2="595.8" stroke="#f4728d" stroke-width="1.7" stroke-linecap="round" opacity="0.42"/>
<line x1="309.4" y1="594.8" x2="311.2" y2="598.5" stroke="#f4728d" stroke-width="1.7" stroke-linecap="round" opacity="0.43"/>
<line x1="226.9" y1="630.0" x2="221.9" y2="628.2" stroke="#f4728d" stroke-width="1.7" stroke-linecap="round" opacity="0.26"/>
<line x1="195.5" y1="586.2" x2="194.6" y2="582.6" stroke="#f4728d" stroke-width="1.7" stroke-linecap="round" opacity="0.47"/>
<line x1="221.3" y1="601.7" x2="224.7" y2="597.3" stroke="#f4728d" stroke-width="1.7" stroke-linecap="round" opacity="0.59"/>
<line x1="272.9" y1="621.9" x2="272.3" y2="627.4" stroke="#f4728d" stroke-width="1.7" stroke-linecap="round" opacity="0.34"/>
<line x1="278.2" y1="635.7" x2="272.7" y2="637.2" stroke="#f4728d" stroke-width="1.7" stroke-linecap="round" opacity="0.34"/>
<line x1="286.7" y1="657.7" x2="282.3" y2="660.4" stroke="#f4728d" stroke-width="1.7" stroke-linecap="round" opacity="0.28"/>
<line x1="300.6" y1="621.7" x2="299.8" y2="624.3" stroke="#f4728d" stroke-width="1.7" stroke-linecap="round" opacity="0.58"/>
<line x1="196.4" y1="553.5" x2="198.4" y2="548.0" stroke="#f4728d" stroke-width="1.7" stroke-linecap="round" opacity="0.27"/>
<line x1="272.9" y1="561.5" x2="276.9" y2="563.8" stroke="#f4728d" stroke-width="1.7" stroke-linecap="round" opacity="0.57"/>
<line x1="240.6" y1="628.0" x2="237.3" y2="627.5" stroke="#f4728d" stroke-width="1.7" stroke-linecap="round" opacity="0.29"/>
<line x1="252.0" y1="613.9" x2="249.8" y2="616.7" stroke="#f4728d" stroke-width="1.7" stroke-linecap="round" opacity="0.36"/>
<line x1="242.9" y1="560.6" x2="246.0" y2="560.8" stroke="#f4728d" stroke-width="1.7" stroke-linecap="round" opacity="0.37"/>
<line x1="278.1" y1="602.9" x2="280.5" y2="607.7" stroke="#f4728d" stroke-width="1.7" stroke-linecap="round" opacity="0.44"/>
<line x1="262.6" y1="649.2" x2="259.8" y2="648.8" stroke="#f4728d" stroke-width="1.7" stroke-linecap="round" opacity="0.54"/>
<line x1="194.0" y1="624.8" x2="193.9" y2="620.8" stroke="#f4728d" stroke-width="1.7" stroke-linecap="round" opacity="0.43"/>
<line x1="211.3" y1="533.8" x2="216.1" y2="530.7" stroke="#f4728d" stroke-width="1.7" stroke-linecap="round" opacity="0.50"/>
<line x1="209.9" y1="566.0" x2="211.5" y2="564.0" stroke="#f4728d" stroke-width="1.7" stroke-linecap="round" opacity="0.30"/>
<line x1="300.5" y1="627.2" x2="300.1" y2="630.3" stroke="#f4728d" stroke-width="1.7" stroke-linecap="round" opacity="0.28"/>
<line x1="278.7" y1="541.0" x2="281.2" y2="543.5" stroke="#f4728d" stroke-width="1.7" stroke-linecap="round" opacity="0.33"/>
<line x1="230.5" y1="649.7" x2="226.3" y2="650.3" stroke="#f4728d" stroke-width="1.7" stroke-linecap="round" opacity="0.34"/>
<line x1="313.5" y1="581.8" x2="314.2" y2="585.1" stroke="#f4728d" stroke-width="1.7" stroke-linecap="round" opacity="0.59"/>
<line x1="227.5" y1="642.3" x2="223.7" y2="643.1" stroke="#f4728d" stroke-width="1.7" stroke-linecap="round" opacity="0.42"/>
<line x1="208.4" y1="601.6" x2="208.4" y2="599.2" stroke="#f4728d" stroke-width="1.7" stroke-linecap="round" opacity="0.34"/>
<line x1="282.1" y1="625.1" x2="282.0" y2="627.6" stroke="#f4728d" stroke-width="1.7" stroke-linecap="round" opacity="0.36"/>
<line x1="250.9" y1="657.9" x2="245.5" y2="658.3" stroke="#f4728d" stroke-width="1.7" stroke-linecap="round" opacity="0.48"/>
<line x1="225.3" y1="532.9" x2="228.8" y2="531.7" stroke="#f4728d" stroke-width="1.7" stroke-linecap="round" opacity="0.59"/>
<line x1="280.8" y1="651.9" x2="278.5" y2="653.1" stroke="#f4728d" stroke-width="1.7" stroke-linecap="round" opacity="0.54"/>
<line x1="287.1" y1="561.1" x2="289.3" y2="566.3" stroke="#f4728d" stroke-width="1.7" stroke-linecap="round" opacity="0.30"/>
<line x1="187.9" y1="595.5" x2="190.8" y2="590.7" stroke="#f4728d" stroke-width="1.7" stroke-linecap="round" opacity="0.54"/>
<line x1="179.0" y1="567.2" x2="182.5" y2="563.4" stroke="#f4728d" stroke-width="1.7" stroke-linecap="round" opacity="0.33"/>
<line x1="268.9" y1="604.9" x2="268.8" y2="607.7" stroke="#f4728d" stroke-width="1.7" stroke-linecap="round" opacity="0.54"/>
<line x1="185.3" y1="581.9" x2="187.8" y2="577.4" stroke="#f4728d" stroke-width="1.7" stroke-linecap="round" opacity="0.42"/>
<line x1="309.7" y1="600.3" x2="308.3" y2="604.5" stroke="#f4728d" stroke-width="1.7" stroke-linecap="round" opacity="0.44"/>
<line x1="230.0" y1="585.3" x2="233.2" y2="584.3" stroke="#f4728d" stroke-width="1.7" stroke-linecap="round" opacity="0.28"/>
<line x1="238.3" y1="664.1" x2="233.2" y2="665.4" stroke="#f4728d" stroke-width="1.7" stroke-linecap="round" opacity="0.59"/>
<line x1="195.8" y1="605.3" x2="195.5" y2="600.2" stroke="#f4728d" stroke-width="1.7" stroke-linecap="round" opacity="0.52"/>
<line x1="197.1" y1="562.1" x2="197.7" y2="559.2" stroke="#f4728d" stroke-width="1.7" stroke-linecap="round" opacity="0.34"/>
<line x1="239.0" y1="559.6" x2="241.5" y2="559.7" stroke="#f4728d" stroke-width="1.7" stroke-linecap="round" opacity="0.27"/>
<line x1="237.2" y1="662.9" x2="232.4" y2="661.2" stroke="#f4728d" stroke-width="1.7" stroke-linecap="round" opacity="0.35"/>
<line x1="191.1" y1="597.1" x2="191.2" y2="594.3" stroke="#f4728d" stroke-width="1.7" stroke-linecap="round" opacity="0.56"/>
<line x1="266.5" y1="671.7" x2="264.0" y2="671.2" stroke="#f4728d" stroke-width="1.7" stroke-linecap="round" opacity="0.41"/>
<line x1="271.8" y1="533.6" x2="275.0" y2="534.9" stroke="#f4728d" stroke-width="1.7" stroke-linecap="round" opacity="0.32"/>
<line x1="274.1" y1="588.0" x2="274.8" y2="590.9" stroke="#f4728d" stroke-width="1.7" stroke-linecap="round" opacity="0.43"/>
<line x1="268.3" y1="590.8" x2="267.9" y2="595.2" stroke="#f4728d" stroke-width="1.7" stroke-linecap="round" opacity="0.56"/>
<line x1="229.4" y1="566.1" x2="233.7" y2="566.9" stroke="#f4728d" stroke-width="1.7" stroke-linecap="round" opacity="0.26"/>
<line x1="294.5" y1="600.4" x2="294.6" y2="604.0" stroke="#f4728d" stroke-width="1.7" stroke-linecap="round" opacity="0.30"/>
<line x1="219.2" y1="637.0" x2="217.9" y2="635.0" stroke="#f4728d" stroke-width="1.7" stroke-linecap="round" opacity="0.51"/>
<line x1="254.5" y1="576.7" x2="257.1" y2="581.3" stroke="#f4728d" stroke-width="1.7" stroke-linecap="round" opacity="0.57"/>
<line x1="233.8" y1="645.7" x2="227.5" y2="644.9" stroke="#f4728d" stroke-width="1.7" stroke-linecap="round" opacity="0.46"/>
<line x1="211.7" y1="639.2" x2="209.4" y2="638.1" stroke="#f4728d" stroke-width="1.7" stroke-linecap="round" opacity="0.29"/>
<line x1="261.5" y1="565.0" x2="263.2" y2="567.9" stroke="#f4728d" stroke-width="1.7" stroke-linecap="round" opacity="0.34"/>
<line x1="209.7" y1="601.9" x2="209.1" y2="595.6" stroke="#f4728d" stroke-width="1.7" stroke-linecap="round" opacity="0.56"/>
<line x1="262.7" y1="543.5" x2="266.6" y2="548.3" stroke="#f4728d" stroke-width="1.7" stroke-linecap="round" opacity="0.44"/>
<line x1="236.7" y1="584.4" x2="240.9" y2="584.8" stroke="#f4728d" stroke-width="1.7" stroke-linecap="round" opacity="0.51"/>
<line x1="216.2" y1="572.2" x2="218.4" y2="566.5" stroke="#f4728d" stroke-width="1.7" stroke-linecap="round" opacity="0.29"/>
<line x1="199.8" y1="611.1" x2="197.6" y2="606.2" stroke="#f4728d" stroke-width="1.7" stroke-linecap="round" opacity="0.59"/>
<line x1="240.4" y1="661.2" x2="235.8" y2="662.0" stroke="#f4728d" stroke-width="1.7" stroke-linecap="round" opacity="0.39"/>
<line x1="258.9" y1="624.9" x2="255.0" y2="629.5" stroke="#f4728d" stroke-width="1.7" stroke-linecap="round" opacity="0.42"/>
<line x1="257.3" y1="672.0" x2="253.4" y2="670.3" stroke="#f4728d" stroke-width="1.7" stroke-linecap="round" opacity="0.30"/>
<line x1="251.2" y1="621.4" x2="248.8" y2="622.9" stroke="#f4728d" stroke-width="1.7" stroke-linecap="round" opacity="0.33"/>
<line x1="241.4" y1="658.9" x2="236.7" y2="656.2" stroke="#f4728d" stroke-width="1.7" stroke-linecap="round" opacity="0.39"/>
<line x1="196.6" y1="630.4" x2="194.3" y2="627.5" stroke="#f4728d" stroke-width="1.7" stroke-linecap="round" opacity="0.27"/>
<line x1="231.4" y1="673.1" x2="227.2" y2="674.3" stroke="#f4728d" stroke-width="1.7" stroke-linecap="round" opacity="0.47"/>
<line x1="263.2" y1="573.8" x2="266.2" y2="575.3" stroke="#f4728d" stroke-width="1.7" stroke-linecap="round" opacity="0.39"/>
<line x1="172.7" y1="628.4" x2="173.2" y2="622.5" stroke="#f4728d" stroke-width="1.7" stroke-linecap="round" opacity="0.26"/>
<line x1="305.2" y1="612.0" x2="302.5" y2="615.4" stroke="#f4728d" stroke-width="1.7" stroke-linecap="round" opacity="0.46"/>
<line x1="290.3" y1="598.6" x2="287.5" y2="603.5" stroke="#f4728d" stroke-width="1.7" stroke-linecap="round" opacity="0.55"/>
<line x1="277.9" y1="593.3" x2="279.7" y2="595.7" stroke="#f4728d" stroke-width="1.7" stroke-linecap="round" opacity="0.43"/>
<line x1="209.4" y1="535.2" x2="214.3" y2="534.4" stroke="#f4728d" stroke-width="1.7" stroke-linecap="round" opacity="0.52"/>
<line x1="190.3" y1="617.6" x2="186.3" y2="613.9" stroke="#f4728d" stroke-width="1.7" stroke-linecap="round" opacity="0.33"/>
<line x1="293.8" y1="570.9" x2="295.8" y2="573.0" stroke="#f4728d" stroke-width="1.7" stroke-linecap="round" opacity="0.34"/>
<line x1="200.4" y1="554.9" x2="201.4" y2="552.4" stroke="#f4728d" stroke-width="1.7" stroke-linecap="round" opacity="0.43"/>
<line x1="201.0" y1="580.1" x2="201.9" y2="575.4" stroke="#f4728d" stroke-width="1.7" stroke-linecap="round" opacity="0.25"/>
<line x1="227.4" y1="651.2" x2="224.2" y2="647.4" stroke="#f4728d" stroke-width="1.7" stroke-linecap="round" opacity="0.56"/>
<line x1="207.5" y1="609.4" x2="204.7" y2="603.8" stroke="#f4728d" stroke-width="1.7" stroke-linecap="round" opacity="0.50"/>
<line x1="240.5" y1="612.3" x2="235.7" y2="610.5" stroke="#f4728d" stroke-width="1.7" stroke-linecap="round" opacity="0.40"/>
<line x1="240.6" y1="663.1" x2="237.8" y2="661.3" stroke="#f4728d" stroke-width="1.7" stroke-linecap="round" opacity="0.26"/>
<line x1="217.6" y1="643.5" x2="215.3" y2="641.3" stroke="#f4728d" stroke-width="1.7" stroke-linecap="round" opacity="0.53"/>
<line x1="235.5" y1="549.1" x2="241.2" y2="546.5" stroke="#f4728d" stroke-width="1.7" stroke-linecap="round" opacity="0.36"/>
<line x1="254.6" y1="568.1" x2="260.0" y2="568.7" stroke="#f4728d" stroke-width="1.7" stroke-linecap="round" opacity="0.35"/>
<line x1="291.4" y1="584.0" x2="293.4" y2="586.6" stroke="#f4728d" stroke-width="1.7" stroke-linecap="round" opacity="0.40"/>
<line x1="203.8" y1="539.7" x2="206.1" y2="536.4" stroke="#f4728d" stroke-width="1.7" stroke-linecap="round" opacity="0.32"/>
<line x1="269.0" y1="595.4" x2="270.7" y2="597.4" stroke="#f4728d" stroke-width="1.7" stroke-linecap="round" opacity="0.39"/>
<line x1="297.4" y1="555.9" x2="299.7" y2="561.9" stroke="#f4728d" stroke-width="1.7" stroke-linecap="round" opacity="0.58"/>
<line x1="228.0" y1="631.7" x2="225.2" y2="627.1" stroke="#f4728d" stroke-width="1.7" stroke-linecap="round" opacity="0.26"/>
<line x1="216.9" y1="562.5" x2="219.8" y2="560.2" stroke="#f4728d" stroke-width="1.7" stroke-linecap="round" opacity="0.31"/>
<line x1="281.2" y1="598.6" x2="282.2" y2="604.8" stroke="#f4728d" stroke-width="1.7" stroke-linecap="round" opacity="0.29"/>
<line x1="274.2" y1="590.8" x2="276.4" y2="596.0" stroke="#f4728d" stroke-width="1.7" stroke-linecap="round" opacity="0.54"/>
<line x1="227.7" y1="609.6" x2="226.0" y2="606.1" stroke="#f4728d" stroke-width="1.7" stroke-linecap="round" opacity="0.57"/>
<line x1="259.1" y1="643.5" x2="256.6" y2="643.2" stroke="#f4728d" stroke-width="1.7" stroke-linecap="round" opacity="0.39"/>
<line x1="265.6" y1="540.4" x2="268.1" y2="540.0" stroke="#f4728d" stroke-width="1.7" stroke-linecap="round" opacity="0.27"/>
<line x1="274.7" y1="579.8" x2="275.9" y2="585.6" stroke="#f4728d" stroke-width="1.7" stroke-linecap="round" opacity="0.37"/>
<line x1="233.4" y1="674.2" x2="230.1" y2="673.2" stroke="#f4728d" stroke-width="1.7" stroke-linecap="round" opacity="0.50"/>
<line x1="228.7" y1="636.5" x2="223.4" y2="637.5" stroke="#f4728d" stroke-width="1.7" stroke-linecap="round" opacity="0.57"/>
<line x1="193.0" y1="548.3" x2="193.9" y2="545.1" stroke="#f4728d" stroke-width="1.7" stroke-linecap="round" opacity="0.42"/>
<line x1="311.9" y1="579.8" x2="313.2" y2="582.9" stroke="#f4728d" stroke-width="1.7" stroke-linecap="round" opacity="0.40"/>
<line x1="171.0" y1="606.5" x2="168.7" y2="601.4" stroke="#f4728d" stroke-width="1.7" stroke-linecap="round" opacity="0.51"/>
<line x1="269.6" y1="540.8" x2="272.6" y2="542.9" stroke="#f4728d" stroke-width="1.7" stroke-linecap="round" opacity="0.36"/>
<line x1="200.7" y1="651.9" x2="197.6" y2="651.3" stroke="#f4728d" stroke-width="1.7" stroke-linecap="round" opacity="0.51"/>
<line x1="244.3" y1="618.8" x2="240.4" y2="621.3" stroke="#f4728d" stroke-width="1.7" stroke-linecap="round" opacity="0.36"/>
<line x1="312.7" y1="590.7" x2="311.2" y2="593.8" stroke="#f4728d" stroke-width="1.7" stroke-linecap="round" opacity="0.28"/>
<line x1="287.1" y1="629.8" x2="283.9" y2="632.5" stroke="#f4728d" stroke-width="1.7" stroke-linecap="round" opacity="0.33"/>
<line x1="191.6" y1="633.0" x2="190.0" y2="627.9" stroke="#f4728d" stroke-width="1.7" stroke-linecap="round" opacity="0.55"/>
<line x1="226.9" y1="578.8" x2="230.4" y2="578.3" stroke="#f4728d" stroke-width="1.7" stroke-linecap="round" opacity="0.45"/>
<line x1="198.6" y1="647.8" x2="195.5" y2="646.5" stroke="#f4728d" stroke-width="1.7" stroke-linecap="round" opacity="0.34"/>
<line x1="283.9" y1="658.0" x2="280.6" y2="659.8" stroke="#f4728d" stroke-width="1.7" stroke-linecap="round" opacity="0.39"/>
<line x1="294.3" y1="595.8" x2="296.4" y2="601.1" stroke="#f4728d" stroke-width="1.7" stroke-linecap="round" opacity="0.48"/>
<line x1="265.7" y1="596.8" x2="266.2" y2="602.5" stroke="#f4728d" stroke-width="1.7" stroke-linecap="round" opacity="0.54"/>
<line x1="253.9" y1="592.3" x2="256.0" y2="594.3" stroke="#f4728d" stroke-width="1.7" stroke-linecap="round" opacity="0.32"/>
<line x1="299.1" y1="589.5" x2="297.8" y2="593.1" stroke="#f4728d" stroke-width="1.7" stroke-linecap="round" opacity="0.55"/>
<line x1="205.7" y1="616.1" x2="205.7" y2="609.9" stroke="#f4728d" stroke-width="1.7" stroke-linecap="round" opacity="0.29"/>
<line x1="192.9" y1="569.3" x2="193.9" y2="565.6" stroke="#f4728d" stroke-width="1.7" stroke-linecap="round" opacity="0.30"/>
<line x1="255.3" y1="636.9" x2="250.3" y2="637.7" stroke="#f4728d" stroke-width="1.7" stroke-linecap="round" opacity="0.32"/>
<line x1="285.2" y1="602.6" x2="284.4" y2="605.6" stroke="#f4728d" stroke-width="1.7" stroke-linecap="round" opacity="0.36"/>
<line x1="262.6" y1="664.7" x2="260.0" y2="665.3" stroke="#f4728d" stroke-width="1.7" stroke-linecap="round" opacity="0.29"/>
<line x1="198.6" y1="636.2" x2="197.3" y2="633.8" stroke="#f4728d" stroke-width="1.7" stroke-linecap="round" opacity="0.31"/>
<line x1="224.4" y1="556.8" x2="227.3" y2="554.8" stroke="#f4728d" stroke-width="1.7" stroke-linecap="round" opacity="0.58"/>
<line x1="222.4" y1="653.6" x2="218.5" y2="652.7" stroke="#f4728d" stroke-width="1.7" stroke-linecap="round" opacity="0.55"/>
<line x1="286.2" y1="597.6" x2="288.2" y2="602.5" stroke="#f4728d" stroke-width="1.7" stroke-linecap="round" opacity="0.32"/>
<line x1="313.0" y1="600.8" x2="313.3" y2="606.5" stroke="#f4728d" stroke-width="1.7" stroke-linecap="round" opacity="0.39"/>
<line x1="278.6" y1="566.3" x2="280.9" y2="567.3" stroke="#f4728d" stroke-width="1.7" stroke-linecap="round" opacity="0.44"/>
<line x1="195.7" y1="547.9" x2="197.6" y2="543.4" stroke="#f4728d" stroke-width="1.7" stroke-linecap="round" opacity="0.38"/>
<line x1="213.9" y1="602.4" x2="212.8" y2="598.0" stroke="#f4728d" stroke-width="1.7" stroke-linecap="round" opacity="0.57"/>
<line x1="285.4" y1="632.6" x2="280.0" y2="635.7" stroke="#f4728d" stroke-width="1.7" stroke-linecap="round" opacity="0.32"/>
<line x1="295.1" y1="652.6" x2="290.8" y2="653.5" stroke="#f4728d" stroke-width="1.7" stroke-linecap="round" opacity="0.27"/>
<line x1="283.8" y1="577.7" x2="283.7" y2="582.5" stroke="#f4728d" stroke-width="1.7" stroke-linecap="round" opacity="0.54"/>
<line x1="278.8" y1="655.6" x2="276.3" y2="658.8" stroke="#f4728d" stroke-width="1.7" stroke-linecap="round" opacity="0.55"/>
<line x1="255.3" y1="572.5" x2="259.3" y2="573.1" stroke="#f4728d" stroke-width="1.7" stroke-linecap="round" opacity="0.43"/>
<line x1="224.7" y1="619.9" x2="220.1" y2="617.2" stroke="#f4728d" stroke-width="1.7" stroke-linecap="round" opacity="0.56"/>
<line x1="297.1" y1="614.3" x2="295.7" y2="616.4" stroke="#f4728d" stroke-width="1.7" stroke-linecap="round" opacity="0.54"/>
<line x1="286.7" y1="638.4" x2="283.1" y2="641.9" stroke="#f4728d" stroke-width="1.7" stroke-linecap="round" opacity="0.36"/>
<line x1="193.2" y1="630.6" x2="190.4" y2="626.5" stroke="#f4728d" stroke-width="1.7" stroke-linecap="round" opacity="0.41"/>
<line x1="231.9" y1="607.4" x2="230.9" y2="603.2" stroke="#f4728d" stroke-width="1.7" stroke-linecap="round" opacity="0.33"/>
<line x1="246.1" y1="534.9" x2="249.2" y2="535.1" stroke="#f4728d" stroke-width="1.7" stroke-linecap="round" opacity="0.42"/>
<line x1="263.8" y1="616.6" x2="262.3" y2="618.9" stroke="#f4728d" stroke-width="1.7" stroke-linecap="round" opacity="0.40"/>
<line x1="226.6" y1="601.4" x2="227.2" y2="598.7" stroke="#f4728d" stroke-width="1.7" stroke-linecap="round" opacity="0.51"/>
<line x1="249.2" y1="548.9" x2="253.3" y2="547.4" stroke="#f4728d" stroke-width="1.7" stroke-linecap="round" opacity="0.38"/>
<line x1="268.8" y1="589.4" x2="268.0" y2="595.8" stroke="#f4728d" stroke-width="1.7" stroke-linecap="round" opacity="0.51"/>
<line x1="253.9" y1="568.9" x2="256.3" y2="572.5" stroke="#f4728d" stroke-width="1.7" stroke-linecap="round" opacity="0.58"/>
<line x1="267.8" y1="582.6" x2="268.9" y2="588.7" stroke="#f4728d" stroke-width="1.7" stroke-linecap="round" opacity="0.27"/>
<line x1="206.3" y1="654.2" x2="200.5" y2="652.9" stroke="#f4728d" stroke-width="1.7" stroke-linecap="round" opacity="0.35"/>
<line x1="250.6" y1="573.7" x2="256.2" y2="576.2" stroke="#f4728d" stroke-width="1.7" stroke-linecap="round" opacity="0.32"/>
<line x1="239.0" y1="654.0" x2="236.4" y2="654.3" stroke="#f4728d" stroke-width="1.7" stroke-linecap="round" opacity="0.31"/>
<line x1="283.2" y1="661.6" x2="277.6" y2="663.6" stroke="#f4728d" stroke-width="1.7" stroke-linecap="round" opacity="0.31"/>
<line x1="245.1" y1="575.5" x2="249.9" y2="576.8" stroke="#f4728d" stroke-width="1.7" stroke-linecap="round" opacity="0.38"/>
<line x1="279.1" y1="558.7" x2="282.9" y2="563.2" stroke="#f4728d" stroke-width="1.7" stroke-linecap="round" opacity="0.29"/>
<line x1="301.0" y1="595.6" x2="301.9" y2="601.1" stroke="#f4728d" stroke-width="1.7" stroke-linecap="round" opacity="0.34"/>
<line x1="298.3" y1="594.9" x2="299.5" y2="600.3" stroke="#f4728d" stroke-width="1.7" stroke-linecap="round" opacity="0.40"/>
</g>
</g>
<g filter="url(#soft)">
<circle cx="245.5" cy="894" r="111.5" fill="#fdebef" filter="url(#b3)"/>
<g filter="url(#wob)">
<ellipse cx="244.2" cy="891.5" rx="79.0" ry="76.5" transform="rotate(117 245.5 894)" fill="none" stroke="#dc3256" stroke-width="2.39" opacity="0.9"/>
<ellipse cx="244.5" cy="890.8" rx="83.0" ry="80.3" transform="rotate(91 245.5 894)" fill="none" stroke="#dc3256" stroke-width="2.29" opacity="0.9"/>
<ellipse cx="242.4" cy="891.1" rx="87.0" ry="87.6" transform="rotate(76 245.5 894)" fill="none" stroke="#dc3256" stroke-width="1.97" opacity="0.9"/>
<ellipse cx="243.5" cy="894.9" rx="91.1" ry="90.5" transform="rotate(171 245.5 894)" fill="none" stroke="#dc3256" stroke-width="2.25" opacity="0.9"/>
<ellipse cx="248.9" cy="890.7" rx="95.1" ry="93.1" transform="rotate(155 245.5 894)" fill="none" stroke="#dc3256" stroke-width="1.99" opacity="0.9"/>
<ellipse cx="242.7" cy="892.6" rx="99.1" ry="96.5" transform="rotate(147 245.5 894)" fill="none" stroke="#dc3256" stroke-width="2.44" opacity="0.9"/>
<ellipse cx="246.5" cy="893.1" rx="103.1" ry="99.8" transform="rotate(99 245.5 894)" fill="none" stroke="#dc3256" stroke-width="1.90" opacity="0.9"/>
<ellipse cx="243.4" cy="895.3" rx="107.1" ry="105.1" transform="rotate(77 245.5 894)" fill="none" stroke="#dc3256" stroke-width="2.45" opacity="0.9"/>
<ellipse cx="245.2" cy="892.6" rx="111.2" ry="111.2" transform="rotate(143 245.5 894)" fill="none" stroke="#dc3256" stroke-width="2.09" opacity="0.9"/>
<ellipse cx="246.1" cy="894.2" rx="80.5" ry="80.5" transform="rotate(158 245.5 894)" fill="none" stroke="#7d1f33" stroke-width="1.05" opacity="0.72"/>
<ellipse cx="243.9" cy="897.6" rx="84.5" ry="83.0" transform="rotate(21 245.5 894)" fill="none" stroke="#7d1f33" stroke-width="1.05" opacity="0.72"/>
<ellipse cx="247.5" cy="891.4" rx="88.4" ry="85.1" transform="rotate(88 245.5 894)" fill="none" stroke="#7d1f33" stroke-width="1.05" opacity="0.72"/>
<ellipse cx="246.8" cy="896.0" rx="92.4" ry="93.2" transform="rotate(103 245.5 894)" fill="none" stroke="#7d1f33" stroke-width="1.05" opacity="0.72"/>
<ellipse cx="244.1" cy="895.5" rx="96.4" ry="95.6" transform="rotate(107 245.5 894)" fill="none" stroke="#7d1f33" stroke-width="1.05" opacity="0.72"/>
<ellipse cx="245.2" cy="896.6" rx="100.3" ry="99.0" transform="rotate(170 245.5 894)" fill="none" stroke="#7d1f33" stroke-width="1.05" opacity="0.72"/>
<ellipse cx="246.7" cy="890.7" rx="104.3" ry="103.9" transform="rotate(126 245.5 894)" fill="none" stroke="#7d1f33" stroke-width="1.05" opacity="0.72"/>
<ellipse cx="249.2" cy="896.4" rx="108.3" ry="106.3" transform="rotate(51 245.5 894)" fill="none" stroke="#7d1f33" stroke-width="1.05" opacity="0.72"/>
<ellipse cx="246.8" cy="890.4" rx="112.3" ry="108.8" transform="rotate(83 245.5 894)" fill="none" stroke="#7d1f33" stroke-width="1.05" opacity="0.72"/>
<path d="M323.5,923.9 A85.2786822454885,85.2786822454885 0 0 1 309.8,947.3" fill="none" stroke="#ffffff" stroke-width="1.9" stroke-linecap="round" opacity="0.90"/>
<path d="M167.0,921.7 A84.25627643360389,84.25627643360389 0 0 1 162.9,900.4" fill="none" stroke="#ffffff" stroke-width="2.4" stroke-linecap="round" opacity="0.70"/>
<path d="M188.2,965.2 A93.62830248192756,93.62830248192756 0 0 1 166.8,940.4" fill="none" stroke="#ffffff" stroke-width="1.6" stroke-linecap="round" opacity="0.68"/>
<path d="M156.4,900.4 A88.5334103430641,88.5334103430641 0 0 1 157.4,876.6" fill="none" stroke="#ffffff" stroke-width="1.9" stroke-linecap="round" opacity="0.73"/>
<path d="M339.2,866.0 A97.85755426377898,97.85755426377898 0 0 1 343.4,894.7" fill="none" stroke="#ffffff" stroke-width="2.2" stroke-linecap="round" opacity="0.62"/>
<path d="M266.8,788.3 A107.18692428162265,107.18692428162265 0 0 1 301.5,801.5" fill="none" stroke="#ffffff" stroke-width="1.9" stroke-linecap="round" opacity="0.64"/>
<path d="M336.6,930.7 A99.76010783919986,99.76010783919986 0 0 1 331.2,941.8" fill="none" stroke="#ffffff" stroke-width="1.8" stroke-linecap="round" opacity="0.62"/>
<path d="M292.6,958.8 A82.00653189323799,82.00653189323799 0 0 1 283.4,964.6" fill="none" stroke="#ffffff" stroke-width="2.4" stroke-linecap="round" opacity="0.81"/>
<path d="M243.7,978.6 A86.15941358926496,86.15941358926496 0 0 1 226.5,976.7" fill="none" stroke="#ffffff" stroke-width="2.4" stroke-linecap="round" opacity="0.95"/>
<path d="M149.4,903.0 A95.04770485647815,95.04770485647815 0 0 1 148.9,890.8" fill="none" stroke="#ffffff" stroke-width="1.7" stroke-linecap="round" opacity="0.89"/>
<path d="M331.2,905.1 A86.52028109474008,86.52028109474008 0 0 1 320.9,935.2" fill="none" stroke="#ffffff" stroke-width="2.1" stroke-linecap="round" opacity="0.61"/>
<path d="M342.2,880.0 A96.78706434627259,96.78706434627259 0 0 1 340.9,913.3" fill="none" stroke="#ffffff" stroke-width="1.8" stroke-linecap="round" opacity="0.66"/>
<path d="M143.4,871.8 A103.61426143525688,103.61426143525688 0 0 1 155.3,840.8" fill="none" stroke="#ffffff" stroke-width="2.4" stroke-linecap="round" opacity="0.94"/>
<path d="M283.0,793.5 A105.8736063649065,105.8736063649065 0 0 1 313.5,811.0" fill="none" stroke="#ffffff" stroke-width="2.0" stroke-linecap="round" opacity="0.72"/>
<path d="M326.1,909.2 A82.81144422075823,82.81144422075823 0 0 1 322.1,923.8" fill="none" stroke="#ffffff" stroke-width="2.5" stroke-linecap="round" opacity="0.76"/>
<path d="M352.9,884.8 A108.23659363573478,108.23659363573478 0 0 1 348.5,924.5" fill="none" stroke="#ffffff" stroke-width="1.7" stroke-linecap="round" opacity="0.67"/>
<path d="M184.5,832.3 A87.72245417173424,87.72245417173424 0 0 1 209.9,814.4" fill="none" stroke="#ffffff" stroke-width="2.2" stroke-linecap="round" opacity="0.88"/>
<path d="M201.7,823.6 A84.37379762061065,84.37379762061065 0 0 1 229.6,812.4" fill="none" stroke="#ffffff" stroke-width="2.0" stroke-linecap="round" opacity="0.66"/>
<path d="M195.8,984.0 A104.09579206856773,104.09579206856773 0 0 1 169.4,962.5" fill="none" stroke="#ffffff" stroke-width="1.9" stroke-linecap="round" opacity="0.93"/>
<path d="M293.4,985.3 A102.29436263775803,102.29436263775803 0 0 1 280.4,991.3" fill="none" stroke="#ffffff" stroke-width="2.4" stroke-linecap="round" opacity="0.65"/>
<path d="M349.2,881.2 A105.14229339871083,105.14229339871083 0 0 1 348.6,911.4" fill="none" stroke="#ffffff" stroke-width="1.6" stroke-linecap="round" opacity="0.60"/>
<path d="M182.9,805.5 A109.1849249626574,109.1849249626574 0 0 1 206.9,792.3" fill="none" stroke="#ffffff" stroke-width="2.4" stroke-linecap="round" opacity="0.89"/>
<path d="M243.4,982.2 A87.90918544518817,87.90918544518817 0 0 1 227.2,980.5" fill="none" stroke="#ffffff" stroke-width="1.7" stroke-linecap="round" opacity="0.75"/>
<path d="M317.7,848.4 A85.67006294209753,85.67006294209753 0 0 1 325.5,864.0" fill="none" stroke="#ffffff" stroke-width="2.5" stroke-linecap="round" opacity="0.75"/>
<path d="M137.9,891.0 A107.6961903615946,107.6961903615946 0 0 1 141.6,864.0" fill="none" stroke="#ffffff" stroke-width="1.9" stroke-linecap="round" opacity="0.66"/>
<path d="M270.4,816.7 A82.11010949111798,82.11010949111798 0 0 1 282.0,821.4" fill="none" stroke="#ffffff" stroke-width="2.1" stroke-linecap="round" opacity="0.71"/>
<path d="M153.2,861.3 A96.51376395568504,96.51376395568504 0 0 1 168.4,834.2" fill="none" stroke="#ffffff" stroke-width="1.7" stroke-linecap="round" opacity="0.70"/>
<path d="M143.0,890.6 A103.62331076515368,103.62331076515368 0 0 1 147.9,864.0" fill="none" stroke="#ffffff" stroke-width="1.9" stroke-linecap="round" opacity="0.81"/>
<path d="M149.4,886.8 A96.15548766383421,96.15548766383421 0 0 1 155.8,859.0" fill="none" stroke="#ffffff" stroke-width="2.0" stroke-linecap="round" opacity="0.93"/>
<path d="M317.1,823.1 A101.578100701048,101.578100701048 0 0 1 337.8,853.9" fill="none" stroke="#ffffff" stroke-width="2.5" stroke-linecap="round" opacity="0.89"/>
<path d="M305.8,952.4 A85.83976420511185,85.83976420511185 0 0 1 290.7,964.8" fill="none" stroke="#ffffff" stroke-width="1.5" stroke-linecap="round" opacity="0.83"/>
<path d="M329.3,832.0 A103.95020848084835,103.95020848084835 0 0 1 337.6,844.9" fill="none" stroke="#ffffff" stroke-width="1.6" stroke-linecap="round" opacity="0.91"/>
</g>
<path d="M248.7,801.1 A93,93 0 0 1 329.1,853.2" fill="none" stroke="#e0194b" stroke-width="20" opacity="0.85" stroke-linecap="round" filter="url(#b5)"/>
<path d="M281.1,796.3 A104,104 0 0 1 330.7,834.3" fill="none" stroke="#e0194b" stroke-width="8" opacity="0.35" stroke-linecap="round" filter="url(#b3)"/>
<g filter="url(#wob2)"><circle cx="242" cy="899" r="78.5" fill="#e0194b"/>
<path d="M261.7,825.6 A76,76 0 0 1 310.9,866.9" fill="none" stroke="#e0194b" stroke-width="14" stroke-linecap="round"/></g>
<g filter="url(#b1)">
<line x1="277.1" y1="890.0" x2="275.8" y2="893.8" stroke="#f4728d" stroke-width="1.7" stroke-linecap="round" opacity="0.42"/>
<line x1="309.4" y1="892.8" x2="311.2" y2="896.5" stroke="#f4728d" stroke-width="1.7" stroke-linecap="round" opacity="0.43"/>
<line x1="226.9" y1="928.0" x2="221.9" y2="926.2" stroke="#f4728d" stroke-width="1.7" stroke-linecap="round" opacity="0.26"/>
<line x1="195.5" y1="884.2" x2="194.6" y2="880.6" stroke="#f4728d" stroke-width="1.7" stroke-linecap="round" opacity="0.47"/>
<line x1="221.3" y1="899.7" x2="224.7" y2="895.3" stroke="#f4728d" stroke-width="1.7" stroke-linecap="round" opacity="0.59"/>
<line x1="272.9" y1="919.9" x2="272.3" y2="925.4" stroke="#f4728d" stroke-width="1.7" stroke-linecap="round" opacity="0.34"/>
<line x1="278.2" y1="933.7" x2="272.7" y2="935.2" stroke="#f4728d" stroke-width="1.7" stroke-linecap="round" opacity="0.34"/>
<line x1="286.7" y1="955.7" x2="282.3" y2="958.4" stroke="#f4728d" stroke-width="1.7" stroke-linecap="round" opacity="0.28"/>
<line x1="300.6" y1="919.7" x2="299.8" y2="922.3" stroke="#f4728d" stroke-width="1.7" stroke-linecap="round" opacity="0.58"/>
<line x1="196.4" y1="851.5" x2="198.4" y2="846.0" stroke="#f4728d" stroke-width="1.7" stroke-linecap="round" opacity="0.27"/>
<line x1="272.9" y1="859.5" x2="276.9" y2="861.8" stroke="#f4728d" stroke-width="1.7" stroke-linecap="round" opacity="0.57"/>
<line x1="240.6" y1="926.0" x2="237.3" y2="925.5" stroke="#f4728d" stroke-width="1.7" stroke-linecap="round" opacity="0.29"/>
<line x1="252.0" y1="911.9" x2="249.8" y2="914.7" stroke="#f4728d" stroke-width="1.7" stroke-linecap="round" opacity="0.36"/>
<line x1="242.9" y1="858.6" x2="246.0" y2="858.8" stroke="#f4728d" stroke-width="1.7" stroke-linecap="round" opacity="0.37"/>
<line x1="278.1" y1="900.9" x2="280.5" y2="905.7" stroke="#f4728d" stroke-width="1.7" stroke-linecap="round" opacity="0.44"/>
<line x1="262.6" y1="947.2" x2="259.8" y2="946.8" stroke="#f4728d" stroke-width="1.7" stroke-linecap="round" opacity="0.54"/>
<line x1="194.0" y1="922.8" x2="193.9" y2="918.8" stroke="#f4728d" stroke-width="1.7" stroke-linecap="round" opacity="0.43"/>
<line x1="211.3" y1="831.8" x2="216.1" y2="828.7" stroke="#f4728d" stroke-width="1.7" stroke-linecap="round" opacity="0.50"/>
<line x1="209.9" y1="864.0" x2="211.5" y2="862.0" stroke="#f4728d" stroke-width="1.7" stroke-linecap="round" opacity="0.30"/>
<line x1="300.5" y1="925.2" x2="300.1" y2="928.3" stroke="#f4728d" stroke-width="1.7" stroke-linecap="round" opacity="0.28"/>
<line x1="278.7" y1="839.0" x2="281.2" y2="841.5" stroke="#f4728d" stroke-width="1.7" stroke-linecap="round" opacity="0.33"/>
<line x1="230.5" y1="947.7" x2="226.3" y2="948.3" stroke="#f4728d" stroke-width="1.7" stroke-linecap="round" opacity="0.34"/>
<line x1="313.5" y1="879.8" x2="314.2" y2="883.1" stroke="#f4728d" stroke-width="1.7" stroke-linecap="round" opacity="0.59"/>
<line x1="227.5" y1="940.3" x2="223.7" y2="941.1" stroke="#f4728d" stroke-width="1.7" stroke-linecap="round" opacity="0.42"/>
<line x1="208.4" y1="899.6" x2="208.4" y2="897.2" stroke="#f4728d" stroke-width="1.7" stroke-linecap="round" opacity="0.34"/>
<line x1="282.1" y1="923.1" x2="282.0" y2="925.6" stroke="#f4728d" stroke-width="1.7" stroke-linecap="round" opacity="0.36"/>
<line x1="250.9" y1="955.9" x2="245.5" y2="956.3" stroke="#f4728d" stroke-width="1.7" stroke-linecap="round" opacity="0.48"/>
<line x1="225.3" y1="830.9" x2="228.8" y2="829.7" stroke="#f4728d" stroke-width="1.7" stroke-linecap="round" opacity="0.59"/>
<line x1="280.8" y1="949.9" x2="278.5" y2="951.1" stroke="#f4728d" stroke-width="1.7" stroke-linecap="round" opacity="0.54"/>
<line x1="287.1" y1="859.1" x2="289.3" y2="864.3" stroke="#f4728d" stroke-width="1.7" stroke-linecap="round" opacity="0.30"/>
<line x1="187.9" y1="893.5" x2="190.8" y2="888.7" stroke="#f4728d" stroke-width="1.7" stroke-linecap="round" opacity="0.54"/>
<line x1="179.0" y1="865.2" x2="182.5" y2="861.4" stroke="#f4728d" stroke-width="1.7" stroke-linecap="round" opacity="0.33"/>
<line x1="268.9" y1="902.9" x2="268.8" y2="905.7" stroke="#f4728d" stroke-width="1.7" stroke-linecap="round" opacity="0.54"/>
<line x1="185.3" y1="879.9" x2="187.8" y2="875.4" stroke="#f4728d" stroke-width="1.7" stroke-linecap="round" opacity="0.42"/>
<line x1="309.7" y1="898.3" x2="308.3" y2="902.5" stroke="#f4728d" stroke-width="1.7" stroke-linecap="round" opacity="0.44"/>
<line x1="230.0" y1="883.3" x2="233.2" y2="882.3" stroke="#f4728d" stroke-width="1.7" stroke-linecap="round" opacity="0.28"/>
<line x1="238.3" y1="962.1" x2="233.2" y2="963.4" stroke="#f4728d" stroke-width="1.7" stroke-linecap="round" opacity="0.59"/>
<line x1="195.8" y1="903.3" x2="195.5" y2="898.2" stroke="#f4728d" stroke-width="1.7" stroke-linecap="round" opacity="0.52"/>
<line x1="197.1" y1="860.1" x2="197.7" y2="857.2" stroke="#f4728d" stroke-width="1.7" stroke-linecap="round" opacity="0.34"/>
<line x1="239.0" y1="857.6" x2="241.5" y2="857.7" stroke="#f4728d" stroke-width="1.7" stroke-linecap="round" opacity="0.27"/>
<line x1="237.2" y1="960.9" x2="232.4" y2="959.2" stroke="#f4728d" stroke-width="1.7" stroke-linecap="round" opacity="0.35"/>
<line x1="191.1" y1="895.1" x2="191.2" y2="892.3" stroke="#f4728d" stroke-width="1.7" stroke-linecap="round" opacity="0.56"/>
<line x1="266.5" y1="969.7" x2="264.0" y2="969.2" stroke="#f4728d" stroke-width="1.7" stroke-linecap="round" opacity="0.41"/>
<line x1="271.8" y1="831.6" x2="275.0" y2="832.9" stroke="#f4728d" stroke-width="1.7" stroke-linecap="round" opacity="0.32"/>
<line x1="274.1" y1="886.0" x2="274.8" y2="888.9" stroke="#f4728d" stroke-width="1.7" stroke-linecap="round" opacity="0.43"/>
<line x1="268.3" y1="888.8" x2="267.9" y2="893.2" stroke="#f4728d" stroke-width="1.7" stroke-linecap="round" opacity="0.56"/>
<line x1="229.4" y1="864.1" x2="233.7" y2="864.9" stroke="#f4728d" stroke-width="1.7" stroke-linecap="round" opacity="0.26"/>
<line x1="294.5" y1="898.4" x2="294.6" y2="902.0" stroke="#f4728d" stroke-width="1.7" stroke-linecap="round" opacity="0.30"/>
<line x1="219.2" y1="935.0" x2="217.9" y2="933.0" stroke="#f4728d" stroke-width="1.7" stroke-linecap="round" opacity="0.51"/>
<line x1="254.5" y1="874.7" x2="257.1" y2="879.3" stroke="#f4728d" stroke-width="1.7" stroke-linecap="round" opacity="0.57"/>
<line x1="233.8" y1="943.7" x2="227.5" y2="942.9" stroke="#f4728d" stroke-width="1.7" stroke-linecap="round" opacity="0.46"/>
<line x1="211.7" y1="937.2" x2="209.4" y2="936.1" stroke="#f4728d" stroke-width="1.7" stroke-linecap="round" opacity="0.29"/>
<line x1="261.5" y1="863.0" x2="263.2" y2="865.9" stroke="#f4728d" stroke-width="1.7" stroke-linecap="round" opacity="0.34"/>
<line x1="209.7" y1="899.9" x2="209.1" y2="893.6" stroke="#f4728d" stroke-width="1.7" stroke-linecap="round" opacity="0.56"/>
<line x1="262.7" y1="841.5" x2="266.6" y2="846.3" stroke="#f4728d" stroke-width="1.7" stroke-linecap="round" opacity="0.44"/>
<line x1="236.7" y1="882.4" x2="240.9" y2="882.8" stroke="#f4728d" stroke-width="1.7" stroke-linecap="round" opacity="0.51"/>
<line x1="216.2" y1="870.2" x2="218.4" y2="864.5" stroke="#f4728d" stroke-width="1.7" stroke-linecap="round" opacity="0.29"/>
<line x1="199.8" y1="909.1" x2="197.6" y2="904.2" stroke="#f4728d" stroke-width="1.7" stroke-linecap="round" opacity="0.59"/>
<line x1="240.4" y1="959.2" x2="235.8" y2="960.0" stroke="#f4728d" stroke-width="1.7" stroke-linecap="round" opacity="0.39"/>
<line x1="258.9" y1="922.9" x2="255.0" y2="927.5" stroke="#f4728d" stroke-width="1.7" stroke-linecap="round" opacity="0.42"/>
<line x1="257.3" y1="970.0" x2="253.4" y2="968.3" stroke="#f4728d" stroke-width="1.7" stroke-linecap="round" opacity="0.30"/>
<line x1="251.2" y1="919.4" x2="248.8" y2="920.9" stroke="#f4728d" stroke-width="1.7" stroke-linecap="round" opacity="0.33"/>
<line x1="241.4" y1="956.9" x2="236.7" y2="954.2" stroke="#f4728d" stroke-width="1.7" stroke-linecap="round" opacity="0.39"/>
<line x1="196.6" y1="928.4" x2="194.3" y2="925.5" stroke="#f4728d" stroke-width="1.7" stroke-linecap="round" opacity="0.27"/>
<line x1="231.4" y1="971.1" x2="227.2" y2="972.3" stroke="#f4728d" stroke-width="1.7" stroke-linecap="round" opacity="0.47"/>
<line x1="263.2" y1="871.8" x2="266.2" y2="873.3" stroke="#f4728d" stroke-width="1.7" stroke-linecap="round" opacity="0.39"/>
<line x1="172.7" y1="926.4" x2="173.2" y2="920.5" stroke="#f4728d" stroke-width="1.7" stroke-linecap="round" opacity="0.26"/>
<line x1="305.2" y1="910.0" x2="302.5" y2="913.4" stroke="#f4728d" stroke-width="1.7" stroke-linecap="round" opacity="0.46"/>
<line x1="290.3" y1="896.6" x2="287.5" y2="901.5" stroke="#f4728d" stroke-width="1.7" stroke-linecap="round" opacity="0.55"/>
<line x1="277.9" y1="891.3" x2="279.7" y2="893.7" stroke="#f4728d" stroke-width="1.7" stroke-linecap="round" opacity="0.43"/>
<line x1="209.4" y1="833.2" x2="214.3" y2="832.4" stroke="#f4728d" stroke-width="1.7" stroke-linecap="round" opacity="0.52"/>
<line x1="190.3" y1="915.6" x2="186.3" y2="911.9" stroke="#f4728d" stroke-width="1.7" stroke-linecap="round" opacity="0.33"/>
<line x1="293.8" y1="868.9" x2="295.8" y2="871.0" stroke="#f4728d" stroke-width="1.7" stroke-linecap="round" opacity="0.34"/>
<line x1="200.4" y1="852.9" x2="201.4" y2="850.4" stroke="#f4728d" stroke-width="1.7" stroke-linecap="round" opacity="0.43"/>
<line x1="201.0" y1="878.1" x2="201.9" y2="873.4" stroke="#f4728d" stroke-width="1.7" stroke-linecap="round" opacity="0.25"/>
<line x1="227.4" y1="949.2" x2="224.2" y2="945.4" stroke="#f4728d" stroke-width="1.7" stroke-linecap="round" opacity="0.56"/>
<line x1="207.5" y1="907.4" x2="204.7" y2="901.8" stroke="#f4728d" stroke-width="1.7" stroke-linecap="round" opacity="0.50"/>
<line x1="240.5" y1="910.3" x2="235.7" y2="908.5" stroke="#f4728d" stroke-width="1.7" stroke-linecap="round" opacity="0.40"/>
<line x1="240.6" y1="961.1" x2="237.8" y2="959.3" stroke="#f4728d" stroke-width="1.7" stroke-linecap="round" opacity="0.26"/>
<line x1="217.6" y1="941.5" x2="215.3" y2="939.3" stroke="#f4728d" stroke-width="1.7" stroke-linecap="round" opacity="0.53"/>
<line x1="235.5" y1="847.1" x2="241.2" y2="844.5" stroke="#f4728d" stroke-width="1.7" stroke-linecap="round" opacity="0.36"/>
<line x1="254.6" y1="866.1" x2="260.0" y2="866.7" stroke="#f4728d" stroke-width="1.7" stroke-linecap="round" opacity="0.35"/>
<line x1="291.4" y1="882.0" x2="293.4" y2="884.6" stroke="#f4728d" stroke-width="1.7" stroke-linecap="round" opacity="0.40"/>
<line x1="203.8" y1="837.7" x2="206.1" y2="834.4" stroke="#f4728d" stroke-width="1.7" stroke-linecap="round" opacity="0.32"/>
<line x1="269.0" y1="893.4" x2="270.7" y2="895.4" stroke="#f4728d" stroke-width="1.7" stroke-linecap="round" opacity="0.39"/>
<line x1="297.4" y1="853.9" x2="299.7" y2="859.9" stroke="#f4728d" stroke-width="1.7" stroke-linecap="round" opacity="0.58"/>
<line x1="228.0" y1="929.7" x2="225.2" y2="925.1" stroke="#f4728d" stroke-width="1.7" stroke-linecap="round" opacity="0.26"/>
<line x1="216.9" y1="860.5" x2="219.8" y2="858.2" stroke="#f4728d" stroke-width="1.7" stroke-linecap="round" opacity="0.31"/>
<line x1="281.2" y1="896.6" x2="282.2" y2="902.8" stroke="#f4728d" stroke-width="1.7" stroke-linecap="round" opacity="0.29"/>
<line x1="274.2" y1="888.8" x2="276.4" y2="894.0" stroke="#f4728d" stroke-width="1.7" stroke-linecap="round" opacity="0.54"/>
<line x1="227.7" y1="907.6" x2="226.0" y2="904.1" stroke="#f4728d" stroke-width="1.7" stroke-linecap="round" opacity="0.57"/>
<line x1="259.1" y1="941.5" x2="256.6" y2="941.2" stroke="#f4728d" stroke-width="1.7" stroke-linecap="round" opacity="0.39"/>
<line x1="265.6" y1="838.4" x2="268.1" y2="838.0" stroke="#f4728d" stroke-width="1.7" stroke-linecap="round" opacity="0.27"/>
<line x1="274.7" y1="877.8" x2="275.9" y2="883.6" stroke="#f4728d" stroke-width="1.7" stroke-linecap="round" opacity="0.37"/>
<line x1="233.4" y1="972.2" x2="230.1" y2="971.2" stroke="#f4728d" stroke-width="1.7" stroke-linecap="round" opacity="0.50"/>
<line x1="228.7" y1="934.5" x2="223.4" y2="935.5" stroke="#f4728d" stroke-width="1.7" stroke-linecap="round" opacity="0.57"/>
<line x1="193.0" y1="846.3" x2="193.9" y2="843.1" stroke="#f4728d" stroke-width="1.7" stroke-linecap="round" opacity="0.42"/>
<line x1="311.9" y1="877.8" x2="313.2" y2="880.9" stroke="#f4728d" stroke-width="1.7" stroke-linecap="round" opacity="0.40"/>
<line x1="171.0" y1="904.5" x2="168.7" y2="899.4" stroke="#f4728d" stroke-width="1.7" stroke-linecap="round" opacity="0.51"/>
<line x1="269.6" y1="838.8" x2="272.6" y2="840.9" stroke="#f4728d" stroke-width="1.7" stroke-linecap="round" opacity="0.36"/>
<line x1="200.7" y1="949.9" x2="197.6" y2="949.3" stroke="#f4728d" stroke-width="1.7" stroke-linecap="round" opacity="0.51"/>
<line x1="244.3" y1="916.8" x2="240.4" y2="919.3" stroke="#f4728d" stroke-width="1.7" stroke-linecap="round" opacity="0.36"/>
<line x1="312.7" y1="888.7" x2="311.2" y2="891.8" stroke="#f4728d" stroke-width="1.7" stroke-linecap="round" opacity="0.28"/>
<line x1="287.1" y1="927.8" x2="283.9" y2="930.5" stroke="#f4728d" stroke-width="1.7" stroke-linecap="round" opacity="0.33"/>
<line x1="191.6" y1="931.0" x2="190.0" y2="925.9" stroke="#f4728d" stroke-width="1.7" stroke-linecap="round" opacity="0.55"/>
<line x1="226.9" y1="876.8" x2="230.4" y2="876.3" stroke="#f4728d" stroke-width="1.7" stroke-linecap="round" opacity="0.45"/>
<line x1="198.6" y1="945.8" x2="195.5" y2="944.5" stroke="#f4728d" stroke-width="1.7" stroke-linecap="round" opacity="0.34"/>
<line x1="283.9" y1="956.0" x2="280.6" y2="957.8" stroke="#f4728d" stroke-width="1.7" stroke-linecap="round" opacity="0.39"/>
<line x1="294.3" y1="893.8" x2="296.4" y2="899.1" stroke="#f4728d" stroke-width="1.7" stroke-linecap="round" opacity="0.48"/>
<line x1="265.7" y1="894.8" x2="266.2" y2="900.5" stroke="#f4728d" stroke-width="1.7" stroke-linecap="round" opacity="0.54"/>
<line x1="253.9" y1="890.3" x2="256.0" y2="892.3" stroke="#f4728d" stroke-width="1.7" stroke-linecap="round" opacity="0.32"/>
<line x1="299.1" y1="887.5" x2="297.8" y2="891.1" stroke="#f4728d" stroke-width="1.7" stroke-linecap="round" opacity="0.55"/>
<line x1="205.7" y1="914.1" x2="205.7" y2="907.9" stroke="#f4728d" stroke-width="1.7" stroke-linecap="round" opacity="0.29"/>
<line x1="192.9" y1="867.3" x2="193.9" y2="863.6" stroke="#f4728d" stroke-width="1.7" stroke-linecap="round" opacity="0.30"/>
<line x1="255.3" y1="934.9" x2="250.3" y2="935.7" stroke="#f4728d" stroke-width="1.7" stroke-linecap="round" opacity="0.32"/>
<line x1="285.2" y1="900.6" x2="284.4" y2="903.6" stroke="#f4728d" stroke-width="1.7" stroke-linecap="round" opacity="0.36"/>
<line x1="262.6" y1="962.7" x2="260.0" y2="963.3" stroke="#f4728d" stroke-width="1.7" stroke-linecap="round" opacity="0.29"/>
<line x1="198.6" y1="934.2" x2="197.3" y2="931.8" stroke="#f4728d" stroke-width="1.7" stroke-linecap="round" opacity="0.31"/>
<line x1="224.4" y1="854.8" x2="227.3" y2="852.8" stroke="#f4728d" stroke-width="1.7" stroke-linecap="round" opacity="0.58"/>
<line x1="222.4" y1="951.6" x2="218.5" y2="950.7" stroke="#f4728d" stroke-width="1.7" stroke-linecap="round" opacity="0.55"/>
<line x1="286.2" y1="895.6" x2="288.2" y2="900.5" stroke="#f4728d" stroke-width="1.7" stroke-linecap="round" opacity="0.32"/>
<line x1="313.0" y1="898.8" x2="313.3" y2="904.5" stroke="#f4728d" stroke-width="1.7" stroke-linecap="round" opacity="0.39"/>
<line x1="278.6" y1="864.3" x2="280.9" y2="865.3" stroke="#f4728d" stroke-width="1.7" stroke-linecap="round" opacity="0.44"/>
<line x1="195.7" y1="845.9" x2="197.6" y2="841.4" stroke="#f4728d" stroke-width="1.7" stroke-linecap="round" opacity="0.38"/>
<line x1="213.9" y1="900.4" x2="212.8" y2="896.0" stroke="#f4728d" stroke-width="1.7" stroke-linecap="round" opacity="0.57"/>
<line x1="285.4" y1="930.6" x2="280.0" y2="933.7" stroke="#f4728d" stroke-width="1.7" stroke-linecap="round" opacity="0.32"/>
<line x1="295.1" y1="950.6" x2="290.8" y2="951.5" stroke="#f4728d" stroke-width="1.7" stroke-linecap="round" opacity="0.27"/>
<line x1="283.8" y1="875.7" x2="283.7" y2="880.5" stroke="#f4728d" stroke-width="1.7" stroke-linecap="round" opacity="0.54"/>
<line x1="278.8" y1="953.6" x2="276.3" y2="956.8" stroke="#f4728d" stroke-width="1.7" stroke-linecap="round" opacity="0.55"/>
<line x1="255.3" y1="870.5" x2="259.3" y2="871.1" stroke="#f4728d" stroke-width="1.7" stroke-linecap="round" opacity="0.43"/>
<line x1="224.7" y1="917.9" x2="220.1" y2="915.2" stroke="#f4728d" stroke-width="1.7" stroke-linecap="round" opacity="0.56"/>
<line x1="297.1" y1="912.3" x2="295.7" y2="914.4" stroke="#f4728d" stroke-width="1.7" stroke-linecap="round" opacity="0.54"/>
<line x1="286.7" y1="936.4" x2="283.1" y2="939.9" stroke="#f4728d" stroke-width="1.7" stroke-linecap="round" opacity="0.36"/>
<line x1="193.2" y1="928.6" x2="190.4" y2="924.5" stroke="#f4728d" stroke-width="1.7" stroke-linecap="round" opacity="0.41"/>
<line x1="231.9" y1="905.4" x2="230.9" y2="901.2" stroke="#f4728d" stroke-width="1.7" stroke-linecap="round" opacity="0.33"/>
<line x1="246.1" y1="832.9" x2="249.2" y2="833.1" stroke="#f4728d" stroke-width="1.7" stroke-linecap="round" opacity="0.42"/>
<line x1="263.8" y1="914.6" x2="262.3" y2="916.9" stroke="#f4728d" stroke-width="1.7" stroke-linecap="round" opacity="0.40"/>
<line x1="226.6" y1="899.4" x2="227.2" y2="896.7" stroke="#f4728d" stroke-width="1.7" stroke-linecap="round" opacity="0.51"/>
<line x1="249.2" y1="846.9" x2="253.3" y2="845.4" stroke="#f4728d" stroke-width="1.7" stroke-linecap="round" opacity="0.38"/>
<line x1="268.8" y1="887.4" x2="268.0" y2="893.8" stroke="#f4728d" stroke-width="1.7" stroke-linecap="round" opacity="0.51"/>
<line x1="253.9" y1="866.9" x2="256.3" y2="870.5" stroke="#f4728d" stroke-width="1.7" stroke-linecap="round" opacity="0.58"/>
<line x1="267.8" y1="880.6" x2="268.9" y2="886.7" stroke="#f4728d" stroke-width="1.7" stroke-linecap="round" opacity="0.27"/>
<line x1="206.3" y1="952.2" x2="200.5" y2="950.9" stroke="#f4728d" stroke-width="1.7" stroke-linecap="round" opacity="0.35"/>
<line x1="250.6" y1="871.7" x2="256.2" y2="874.2" stroke="#f4728d" stroke-width="1.7" stroke-linecap="round" opacity="0.32"/>
<line x1="239.0" y1="952.0" x2="236.4" y2="952.3" stroke="#f4728d" stroke-width="1.7" stroke-linecap="round" opacity="0.31"/>
<line x1="283.2" y1="959.6" x2="277.6" y2="961.6" stroke="#f4728d" stroke-width="1.7" stroke-linecap="round" opacity="0.31"/>
<line x1="245.1" y1="873.5" x2="249.9" y2="874.8" stroke="#f4728d" stroke-width="1.7" stroke-linecap="round" opacity="0.38"/>
<line x1="279.1" y1="856.7" x2="282.9" y2="861.2" stroke="#f4728d" stroke-width="1.7" stroke-linecap="round" opacity="0.29"/>
<line x1="301.0" y1="893.6" x2="301.9" y2="899.1" stroke="#f4728d" stroke-width="1.7" stroke-linecap="round" opacity="0.34"/>
<line x1="298.3" y1="892.9" x2="299.5" y2="898.3" stroke="#f4728d" stroke-width="1.7" stroke-linecap="round" opacity="0.40"/>
</g>
</g>
<g filter="url(#soft)">
<circle cx="690.5" cy="403.5" r="111.5" fill="#e3eff6" filter="url(#b3)"/>
<g filter="url(#wob)">
<ellipse cx="689.2" cy="401.0" rx="79.0" ry="76.5" transform="rotate(117 690.5 403.5)" fill="none" stroke="#1f4e6e" stroke-width="2.19" opacity="0.88"/>
<ellipse cx="689.5" cy="400.3" rx="83.1" ry="80.3" transform="rotate(91 690.5 403.5)" fill="none" stroke="#1f4e6e" stroke-width="2.09" opacity="0.88"/>
<ellipse cx="687.4" cy="400.6" rx="87.2" ry="87.8" transform="rotate(76 690.5 403.5)" fill="none" stroke="#1f4e6e" stroke-width="1.80" opacity="0.88"/>
<ellipse cx="688.5" cy="404.4" rx="91.3" ry="90.7" transform="rotate(171 690.5 403.5)" fill="none" stroke="#1f4e6e" stroke-width="2.05" opacity="0.88"/>
<ellipse cx="693.9" cy="400.2" rx="95.4" ry="93.4" transform="rotate(155 690.5 403.5)" fill="none" stroke="#1f4e6e" stroke-width="1.82" opacity="0.88"/>
<ellipse cx="687.7" cy="402.1" rx="99.5" ry="96.9" transform="rotate(147 690.5 403.5)" fill="none" stroke="#1f4e6e" stroke-width="2.23" opacity="0.88"/>
<ellipse cx="691.5" cy="402.6" rx="103.6" ry="100.3" transform="rotate(99 690.5 403.5)" fill="none" stroke="#1f4e6e" stroke-width="1.74" opacity="0.88"/>
<ellipse cx="688.4" cy="404.8" rx="107.7" ry="105.6" transform="rotate(77 690.5 403.5)" fill="none" stroke="#1f4e6e" stroke-width="2.23" opacity="0.88"/>
<ellipse cx="690.2" cy="402.1" rx="111.8" ry="111.8" transform="rotate(143 690.5 403.5)" fill="none" stroke="#1f4e6e" stroke-width="1.91" opacity="0.88"/>
<ellipse cx="691.1" cy="403.7" rx="80.5" ry="80.5" transform="rotate(158 690.5 403.5)" fill="none" stroke="#102a3a" stroke-width="1.4" opacity="0.8"/>
<ellipse cx="688.9" cy="407.1" rx="84.5" ry="83.1" transform="rotate(21 690.5 403.5)" fill="none" stroke="#102a3a" stroke-width="1.4" opacity="0.8"/>
<ellipse cx="692.5" cy="400.9" rx="88.6" ry="85.2" transform="rotate(88 690.5 403.5)" fill="none" stroke="#102a3a" stroke-width="1.4" opacity="0.8"/>
<ellipse cx="691.8" cy="405.5" rx="92.7" ry="93.4" transform="rotate(103 690.5 403.5)" fill="none" stroke="#102a3a" stroke-width="1.4" opacity="0.8"/>
<ellipse cx="689.1" cy="405.0" rx="96.7" ry="95.9" transform="rotate(107 690.5 403.5)" fill="none" stroke="#102a3a" stroke-width="1.4" opacity="0.8"/>
<ellipse cx="690.2" cy="406.1" rx="100.8" ry="99.3" transform="rotate(170 690.5 403.5)" fill="none" stroke="#102a3a" stroke-width="1.4" opacity="0.8"/>
<ellipse cx="691.7" cy="400.2" rx="104.8" ry="104.3" transform="rotate(126 690.5 403.5)" fill="none" stroke="#102a3a" stroke-width="1.4" opacity="0.8"/>
<ellipse cx="694.2" cy="405.9" rx="108.8" ry="106.8" transform="rotate(51 690.5 403.5)" fill="none" stroke="#102a3a" stroke-width="1.4" opacity="0.8"/>
<ellipse cx="691.8" cy="399.9" rx="112.9" ry="109.4" transform="rotate(83 690.5 403.5)" fill="none" stroke="#102a3a" stroke-width="1.4" opacity="0.8"/>
<path d="M768.5,433.4 A85.2786822454885,85.2786822454885 0 0 1 754.8,456.8" fill="none" stroke="#ffffff" stroke-width="1.9" stroke-linecap="round" opacity="0.90"/>
<path d="M612.0,431.2 A84.25627643360389,84.25627643360389 0 0 1 607.9,409.9" fill="none" stroke="#ffffff" stroke-width="2.4" stroke-linecap="round" opacity="0.70"/>
<path d="M633.2,474.7 A93.62830248192756,93.62830248192756 0 0 1 611.8,449.9" fill="none" stroke="#ffffff" stroke-width="1.6" stroke-linecap="round" opacity="0.68"/>
<path d="M601.4,409.9 A88.5334103430641,88.5334103430641 0 0 1 602.4,386.1" fill="none" stroke="#ffffff" stroke-width="1.9" stroke-linecap="round" opacity="0.73"/>
<path d="M784.2,375.5 A97.85755426377898,97.85755426377898 0 0 1 788.4,404.2" fill="none" stroke="#ffffff" stroke-width="2.2" stroke-linecap="round" opacity="0.62"/>
<path d="M711.8,297.8 A107.18692428162265,107.18692428162265 0 0 1 746.5,311.0" fill="none" stroke="#ffffff" stroke-width="1.9" stroke-linecap="round" opacity="0.64"/>
<path d="M781.6,440.2 A99.76010783919986,99.76010783919986 0 0 1 776.2,451.3" fill="none" stroke="#ffffff" stroke-width="1.8" stroke-linecap="round" opacity="0.62"/>
<path d="M737.6,468.3 A82.00653189323799,82.00653189323799 0 0 1 728.4,474.1" fill="none" stroke="#ffffff" stroke-width="2.4" stroke-linecap="round" opacity="0.81"/>
<path d="M688.7,488.1 A86.15941358926496,86.15941358926496 0 0 1 671.5,486.2" fill="none" stroke="#ffffff" stroke-width="2.4" stroke-linecap="round" opacity="0.95"/>
<path d="M594.4,412.5 A95.04770485647815,95.04770485647815 0 0 1 593.9,400.3" fill="none" stroke="#ffffff" stroke-width="1.7" stroke-linecap="round" opacity="0.89"/>
<path d="M776.2,414.6 A86.52028109474008,86.52028109474008 0 0 1 765.9,444.7" fill="none" stroke="#ffffff" stroke-width="2.1" stroke-linecap="round" opacity="0.61"/>
<path d="M787.2,389.5 A96.78706434627259,96.78706434627259 0 0 1 785.9,422.8" fill="none" stroke="#ffffff" stroke-width="1.8" stroke-linecap="round" opacity="0.66"/>
<path d="M588.4,381.3 A103.61426143525688,103.61426143525688 0 0 1 600.3,350.3" fill="none" stroke="#ffffff" stroke-width="2.4" stroke-linecap="round" opacity="0.94"/>
<path d="M728.0,303.0 A105.8736063649065,105.8736063649065 0 0 1 758.5,320.5" fill="none" stroke="#ffffff" stroke-width="2.0" stroke-linecap="round" opacity="0.72"/>
<path d="M771.1,418.7 A82.81144422075823,82.81144422075823 0 0 1 767.1,433.3" fill="none" stroke="#ffffff" stroke-width="2.5" stroke-linecap="round" opacity="0.76"/>
<path d="M797.9,394.3 A108.23659363573478,108.23659363573478 0 0 1 793.5,434.0" fill="none" stroke="#ffffff" stroke-width="1.7" stroke-linecap="round" opacity="0.67"/>
<path d="M629.5,341.8 A87.72245417173424,87.72245417173424 0 0 1 654.9,323.9" fill="none" stroke="#ffffff" stroke-width="2.2" stroke-linecap="round" opacity="0.88"/>
<path d="M646.7,333.1 A84.37379762061065,84.37379762061065 0 0 1 674.6,321.9" fill="none" stroke="#ffffff" stroke-width="2.0" stroke-linecap="round" opacity="0.66"/>
<path d="M640.8,493.5 A104.09579206856773,104.09579206856773 0 0 1 614.4,472.0" fill="none" stroke="#ffffff" stroke-width="1.9" stroke-linecap="round" opacity="0.93"/>
<path d="M738.4,494.8 A102.29436263775803,102.29436263775803 0 0 1 725.4,500.8" fill="none" stroke="#ffffff" stroke-width="2.4" stroke-linecap="round" opacity="0.65"/>
<path d="M794.2,390.7 A105.14229339871083,105.14229339871083 0 0 1 793.6,420.9" fill="none" stroke="#ffffff" stroke-width="1.6" stroke-linecap="round" opacity="0.60"/>
<path d="M627.9,315.0 A109.1849249626574,109.1849249626574 0 0 1 651.9,301.8" fill="none" stroke="#ffffff" stroke-width="2.4" stroke-linecap="round" opacity="0.89"/>
<path d="M688.4,491.7 A87.90918544518817,87.90918544518817 0 0 1 672.2,490.0" fill="none" stroke="#ffffff" stroke-width="1.7" stroke-linecap="round" opacity="0.75"/>
<path d="M762.7,357.9 A85.67006294209753,85.67006294209753 0 0 1 770.5,373.5" fill="none" stroke="#ffffff" stroke-width="2.5" stroke-linecap="round" opacity="0.75"/>
<path d="M582.9,400.5 A107.6961903615946,107.6961903615946 0 0 1 586.6,373.5" fill="none" stroke="#ffffff" stroke-width="1.9" stroke-linecap="round" opacity="0.66"/>
<path d="M715.4,326.2 A82.11010949111798,82.11010949111798 0 0 1 727.0,330.9" fill="none" stroke="#ffffff" stroke-width="2.1" stroke-linecap="round" opacity="0.71"/>
<path d="M598.2,370.8 A96.51376395568504,96.51376395568504 0 0 1 613.4,343.7" fill="none" stroke="#ffffff" stroke-width="1.7" stroke-linecap="round" opacity="0.70"/>
<path d="M588.0,400.1 A103.62331076515368,103.62331076515368 0 0 1 592.9,373.5" fill="none" stroke="#ffffff" stroke-width="1.9" stroke-linecap="round" opacity="0.81"/>
<path d="M594.4,396.3 A96.15548766383421,96.15548766383421 0 0 1 600.8,368.5" fill="none" stroke="#ffffff" stroke-width="2.0" stroke-linecap="round" opacity="0.93"/>
<path d="M762.1,332.6 A101.578100701048,101.578100701048 0 0 1 782.8,363.4" fill="none" stroke="#ffffff" stroke-width="2.5" stroke-linecap="round" opacity="0.89"/>
<path d="M750.8,461.9 A85.83976420511185,85.83976420511185 0 0 1 735.7,474.3" fill="none" stroke="#ffffff" stroke-width="1.5" stroke-linecap="round" opacity="0.83"/>
<path d="M774.3,341.5 A103.95020848084835,103.95020848084835 0 0 1 782.6,354.4" fill="none" stroke="#ffffff" stroke-width="1.6" stroke-linecap="round" opacity="0.91"/>
</g>
<path d="M693.7,310.6 A93,93 0 0 1 774.1,362.7" fill="none" stroke="#0d4c7d" stroke-width="20" opacity="0.85" stroke-linecap="round" filter="url(#b5)"/>
<path d="M726.1,305.8 A104,104 0 0 1 775.7,343.8" fill="none" stroke="#0d4c7d" stroke-width="8" opacity="0.35" stroke-linecap="round" filter="url(#b3)"/>
<g filter="url(#wob2)"><circle cx="686" cy="407" r="78.5" fill="#0d4c7d"/>
<path d="M705.7,333.6 A76,76 0 0 1 754.9,374.9" fill="none" stroke="#0d4c7d" stroke-width="14" stroke-linecap="round"/></g>
<g filter="url(#b1)">
<line x1="721.1" y1="398.0" x2="719.8" y2="401.8" stroke="#4a8bbb" stroke-width="1.7" stroke-linecap="round" opacity="0.42"/>
<line x1="753.4" y1="400.8" x2="755.2" y2="404.5" stroke="#4a8bbb" stroke-width="1.7" stroke-linecap="round" opacity="0.43"/>
<line x1="670.9" y1="436.0" x2="665.9" y2="434.2" stroke="#4a8bbb" stroke-width="1.7" stroke-linecap="round" opacity="0.26"/>
<line x1="639.5" y1="392.2" x2="638.6" y2="388.6" stroke="#4a8bbb" stroke-width="1.7" stroke-linecap="round" opacity="0.47"/>
<line x1="665.3" y1="407.7" x2="668.7" y2="403.3" stroke="#4a8bbb" stroke-width="1.7" stroke-linecap="round" opacity="0.59"/>
<line x1="716.9" y1="427.9" x2="716.3" y2="433.4" stroke="#4a8bbb" stroke-width="1.7" stroke-linecap="round" opacity="0.34"/>
<line x1="722.2" y1="441.7" x2="716.7" y2="443.2" stroke="#4a8bbb" stroke-width="1.7" stroke-linecap="round" opacity="0.34"/>
<line x1="730.7" y1="463.7" x2="726.3" y2="466.4" stroke="#4a8bbb" stroke-width="1.7" stroke-linecap="round" opacity="0.28"/>
<line x1="744.6" y1="427.7" x2="743.8" y2="430.3" stroke="#4a8bbb" stroke-width="1.7" stroke-linecap="round" opacity="0.58"/>
<line x1="640.4" y1="359.5" x2="642.4" y2="354.0" stroke="#4a8bbb" stroke-width="1.7" stroke-linecap="round" opacity="0.27"/>
<line x1="716.9" y1="367.5" x2="720.9" y2="369.8" stroke="#4a8bbb" stroke-width="1.7" stroke-linecap="round" opacity="0.57"/>
<line x1="684.6" y1="434.0" x2="681.3" y2="433.5" stroke="#4a8bbb" stroke-width="1.7" stroke-linecap="round" opacity="0.29"/>
<line x1="696.0" y1="419.9" x2="693.8" y2="422.7" stroke="#4a8bbb" stroke-width="1.7" stroke-linecap="round" opacity="0.36"/>
<line x1="686.9" y1="366.6" x2="690.0" y2="366.8" stroke="#4a8bbb" stroke-width="1.7" stroke-linecap="round" opacity="0.37"/>
<line x1="722.1" y1="408.9" x2="724.5" y2="413.7" stroke="#4a8bbb" stroke-width="1.7" stroke-linecap="round" opacity="0.44"/>
<line x1="706.6" y1="455.2" x2="703.8" y2="454.8" stroke="#4a8bbb" stroke-width="1.7" stroke-linecap="round" opacity="0.54"/>
<line x1="638.0" y1="430.8" x2="637.9" y2="426.8" stroke="#4a8bbb" stroke-width="1.7" stroke-linecap="round" opacity="0.43"/>
<line x1="655.3" y1="339.8" x2="660.1" y2="336.7" stroke="#4a8bbb" stroke-width="1.7" stroke-linecap="round" opacity="0.50"/>
<line x1="653.9" y1="372.0" x2="655.5" y2="370.0" stroke="#4a8bbb" stroke-width="1.7" stroke-linecap="round" opacity="0.30"/>
<line x1="744.5" y1="433.2" x2="744.1" y2="436.3" stroke="#4a8bbb" stroke-width="1.7" stroke-linecap="round" opacity="0.28"/>
<line x1="722.7" y1="347.0" x2="725.2" y2="349.5" stroke="#4a8bbb" stroke-width="1.7" stroke-linecap="round" opacity="0.33"/>
<line x1="674.5" y1="455.7" x2="670.3" y2="456.3" stroke="#4a8bbb" stroke-width="1.7" stroke-linecap="round" opacity="0.34"/>
<line x1="757.5" y1="387.8" x2="758.2" y2="391.1" stroke="#4a8bbb" stroke-width="1.7" stroke-linecap="round" opacity="0.59"/>
<line x1="671.5" y1="448.3" x2="667.7" y2="449.1" stroke="#4a8bbb" stroke-width="1.7" stroke-linecap="round" opacity="0.42"/>
<line x1="652.4" y1="407.6" x2="652.4" y2="405.2" stroke="#4a8bbb" stroke-width="1.7" stroke-linecap="round" opacity="0.34"/>
<line x1="726.1" y1="431.1" x2="726.0" y2="433.6" stroke="#4a8bbb" stroke-width="1.7" stroke-linecap="round" opacity="0.36"/>
<line x1="694.9" y1="463.9" x2="689.5" y2="464.3" stroke="#4a8bbb" stroke-width="1.7" stroke-linecap="round" opacity="0.48"/>
<line x1="669.3" y1="338.9" x2="672.8" y2="337.7" stroke="#4a8bbb" stroke-width="1.7" stroke-linecap="round" opacity="0.59"/>
<line x1="724.8" y1="457.9" x2="722.5" y2="459.1" stroke="#4a8bbb" stroke-width="1.7" stroke-linecap="round" opacity="0.54"/>
<line x1="731.1" y1="367.1" x2="733.3" y2="372.3" stroke="#4a8bbb" stroke-width="1.7" stroke-linecap="round" opacity="0.30"/>
<line x1="631.9" y1="401.5" x2="634.8" y2="396.7" stroke="#4a8bbb" stroke-width="1.7" stroke-linecap="round" opacity="0.54"/>
<line x1="623.0" y1="373.2" x2="626.5" y2="369.4" stroke="#4a8bbb" stroke-width="1.7" stroke-linecap="round" opacity="0.33"/>
<line x1="712.9" y1="410.9" x2="712.8" y2="413.7" stroke="#4a8bbb" stroke-width="1.7" stroke-linecap="round" opacity="0.54"/>
<line x1="629.3" y1="387.9" x2="631.8" y2="383.4" stroke="#4a8bbb" stroke-width="1.7" stroke-linecap="round" opacity="0.42"/>
<line x1="753.7" y1="406.3" x2="752.3" y2="410.5" stroke="#4a8bbb" stroke-width="1.7" stroke-linecap="round" opacity="0.44"/>
<line x1="674.0" y1="391.3" x2="677.2" y2="390.3" stroke="#4a8bbb" stroke-width="1.7" stroke-linecap="round" opacity="0.28"/>
<line x1="682.3" y1="470.1" x2="677.2" y2="471.4" stroke="#4a8bbb" stroke-width="1.7" stroke-linecap="round" opacity="0.59"/>
<line x1="639.8" y1="411.3" x2="639.5" y2="406.2" stroke="#4a8bbb" stroke-width="1.7" stroke-linecap="round" opacity="0.52"/>
<line x1="641.1" y1="368.1" x2="641.7" y2="365.2" stroke="#4a8bbb" stroke-width="1.7" stroke-linecap="round" opacity="0.34"/>
<line x1="683.0" y1="365.6" x2="685.5" y2="365.7" stroke="#4a8bbb" stroke-width="1.7" stroke-linecap="round" opacity="0.27"/>
<line x1="681.2" y1="468.9" x2="676.4" y2="467.2" stroke="#4a8bbb" stroke-width="1.7" stroke-linecap="round" opacity="0.35"/>
<line x1="635.1" y1="403.1" x2="635.2" y2="400.3" stroke="#4a8bbb" stroke-width="1.7" stroke-linecap="round" opacity="0.56"/>
<line x1="710.5" y1="477.7" x2="708.0" y2="477.2" stroke="#4a8bbb" stroke-width="1.7" stroke-linecap="round" opacity="0.41"/>
<line x1="715.8" y1="339.6" x2="719.0" y2="340.9" stroke="#4a8bbb" stroke-width="1.7" stroke-linecap="round" opacity="0.32"/>
<line x1="718.1" y1="394.0" x2="718.8" y2="396.9" stroke="#4a8bbb" stroke-width="1.7" stroke-linecap="round" opacity="0.43"/>
<line x1="712.3" y1="396.8" x2="711.9" y2="401.2" stroke="#4a8bbb" stroke-width="1.7" stroke-linecap="round" opacity="0.56"/>
<line x1="673.4" y1="372.1" x2="677.7" y2="372.9" stroke="#4a8bbb" stroke-width="1.7" stroke-linecap="round" opacity="0.26"/>
<line x1="738.5" y1="406.4" x2="738.6" y2="410.0" stroke="#4a8bbb" stroke-width="1.7" stroke-linecap="round" opacity="0.30"/>
<line x1="663.2" y1="443.0" x2="661.9" y2="441.0" stroke="#4a8bbb" stroke-width="1.7" stroke-linecap="round" opacity="0.51"/>
<line x1="698.5" y1="382.7" x2="701.1" y2="387.3" stroke="#4a8bbb" stroke-width="1.7" stroke-linecap="round" opacity="0.57"/>
<line x1="677.8" y1="451.7" x2="671.5" y2="450.9" stroke="#4a8bbb" stroke-width="1.7" stroke-linecap="round" opacity="0.46"/>
<line x1="655.7" y1="445.2" x2="653.4" y2="444.1" stroke="#4a8bbb" stroke-width="1.7" stroke-linecap="round" opacity="0.29"/>
<line x1="705.5" y1="371.0" x2="707.2" y2="373.9" stroke="#4a8bbb" stroke-width="1.7" stroke-linecap="round" opacity="0.34"/>
<line x1="653.7" y1="407.9" x2="653.1" y2="401.6" stroke="#4a8bbb" stroke-width="1.7" stroke-linecap="round" opacity="0.56"/>
<line x1="706.7" y1="349.5" x2="710.6" y2="354.3" stroke="#4a8bbb" stroke-width="1.7" stroke-linecap="round" opacity="0.44"/>
<line x1="680.7" y1="390.4" x2="684.9" y2="390.8" stroke="#4a8bbb" stroke-width="1.7" stroke-linecap="round" opacity="0.51"/>
<line x1="660.2" y1="378.2" x2="662.4" y2="372.5" stroke="#4a8bbb" stroke-width="1.7" stroke-linecap="round" opacity="0.29"/>
<line x1="643.8" y1="417.1" x2="641.6" y2="412.2" stroke="#4a8bbb" stroke-width="1.7" stroke-linecap="round" opacity="0.59"/>
<line x1="684.4" y1="467.2" x2="679.8" y2="468.0" stroke="#4a8bbb" stroke-width="1.7" stroke-linecap="round" opacity="0.39"/>
<line x1="702.9" y1="430.9" x2="699.0" y2="435.5" stroke="#4a8bbb" stroke-width="1.7" stroke-linecap="round" opacity="0.42"/>
<line x1="701.3" y1="478.0" x2="697.4" y2="476.3" stroke="#4a8bbb" stroke-width="1.7" stroke-linecap="round" opacity="0.30"/>
<line x1="695.2" y1="427.4" x2="692.8" y2="428.9" stroke="#4a8bbb" stroke-width="1.7" stroke-linecap="round" opacity="0.33"/>
<line x1="685.4" y1="464.9" x2="680.7" y2="462.2" stroke="#4a8bbb" stroke-width="1.7" stroke-linecap="round" opacity="0.39"/>
<line x1="640.6" y1="436.4" x2="638.3" y2="433.5" stroke="#4a8bbb" stroke-width="1.7" stroke-linecap="round" opacity="0.27"/>
<line x1="675.4" y1="479.1" x2="671.2" y2="480.3" stroke="#4a8bbb" stroke-width="1.7" stroke-linecap="round" opacity="0.47"/>
<line x1="707.2" y1="379.8" x2="710.2" y2="381.3" stroke="#4a8bbb" stroke-width="1.7" stroke-linecap="round" opacity="0.39"/>
<line x1="616.7" y1="434.4" x2="617.2" y2="428.5" stroke="#4a8bbb" stroke-width="1.7" stroke-linecap="round" opacity="0.26"/>
<line x1="749.2" y1="418.0" x2="746.5" y2="421.4" stroke="#4a8bbb" stroke-width="1.7" stroke-linecap="round" opacity="0.46"/>
<line x1="734.3" y1="404.6" x2="731.5" y2="409.5" stroke="#4a8bbb" stroke-width="1.7" stroke-linecap="round" opacity="0.55"/>
<line x1="721.9" y1="399.3" x2="723.7" y2="401.7" stroke="#4a8bbb" stroke-width="1.7" stroke-linecap="round" opacity="0.43"/>
<line x1="653.4" y1="341.2" x2="658.3" y2="340.4" stroke="#4a8bbb" stroke-width="1.7" stroke-linecap="round" opacity="0.52"/>
<line x1="634.3" y1="423.6" x2="630.3" y2="419.9" stroke="#4a8bbb" stroke-width="1.7" stroke-linecap="round" opacity="0.33"/>
<line x1="737.8" y1="376.9" x2="739.8" y2="379.0" stroke="#4a8bbb" stroke-width="1.7" stroke-linecap="round" opacity="0.34"/>
<line x1="644.4" y1="360.9" x2="645.4" y2="358.4" stroke="#4a8bbb" stroke-width="1.7" stroke-linecap="round" opacity="0.43"/>
<line x1="645.0" y1="386.1" x2="645.9" y2="381.4" stroke="#4a8bbb" stroke-width="1.7" stroke-linecap="round" opacity="0.25"/>
<line x1="671.4" y1="457.2" x2="668.2" y2="453.4" stroke="#4a8bbb" stroke-width="1.7" stroke-linecap="round" opacity="0.56"/>
<line x1="651.5" y1="415.4" x2="648.7" y2="409.8" stroke="#4a8bbb" stroke-width="1.7" stroke-linecap="round" opacity="0.50"/>
<line x1="684.5" y1="418.3" x2="679.7" y2="416.5" stroke="#4a8bbb" stroke-width="1.7" stroke-linecap="round" opacity="0.40"/>
<line x1="684.6" y1="469.1" x2="681.8" y2="467.3" stroke="#4a8bbb" stroke-width="1.7" stroke-linecap="round" opacity="0.26"/>
<line x1="661.6" y1="449.5" x2="659.3" y2="447.3" stroke="#4a8bbb" stroke-width="1.7" stroke-linecap="round" opacity="0.53"/>
<line x1="679.5" y1="355.1" x2="685.2" y2="352.5" stroke="#4a8bbb" stroke-width="1.7" stroke-linecap="round" opacity="0.36"/>
<line x1="698.6" y1="374.1" x2="704.0" y2="374.7" stroke="#4a8bbb" stroke-width="1.7" stroke-linecap="round" opacity="0.35"/>
<line x1="735.4" y1="390.0" x2="737.4" y2="392.6" stroke="#4a8bbb" stroke-width="1.7" stroke-linecap="round" opacity="0.40"/>
<line x1="647.8" y1="345.7" x2="650.1" y2="342.4" stroke="#4a8bbb" stroke-width="1.7" stroke-linecap="round" opacity="0.32"/>
<line x1="713.0" y1="401.4" x2="714.7" y2="403.4" stroke="#4a8bbb" stroke-width="1.7" stroke-linecap="round" opacity="0.39"/>
<line x1="741.4" y1="361.9" x2="743.7" y2="367.9" stroke="#4a8bbb" stroke-width="1.7" stroke-linecap="round" opacity="0.58"/>
<line x1="672.0" y1="437.7" x2="669.2" y2="433.1" stroke="#4a8bbb" stroke-width="1.7" stroke-linecap="round" opacity="0.26"/>
<line x1="660.9" y1="368.5" x2="663.8" y2="366.2" stroke="#4a8bbb" stroke-width="1.7" stroke-linecap="round" opacity="0.31"/>
<line x1="725.2" y1="404.6" x2="726.2" y2="410.8" stroke="#4a8bbb" stroke-width="1.7" stroke-linecap="round" opacity="0.29"/>
<line x1="718.2" y1="396.8" x2="720.4" y2="402.0" stroke="#4a8bbb" stroke-width="1.7" stroke-linecap="round" opacity="0.54"/>
<line x1="671.7" y1="415.6" x2="670.0" y2="412.1" stroke="#4a8bbb" stroke-width="1.7" stroke-linecap="round" opacity="0.57"/>
<line x1="703.1" y1="449.5" x2="700.6" y2="449.2" stroke="#4a8bbb" stroke-width="1.7" stroke-linecap="round" opacity="0.39"/>
<line x1="709.6" y1="346.4" x2="712.1" y2="346.0" stroke="#4a8bbb" stroke-width="1.7" stroke-linecap="round" opacity="0.27"/>
<line x1="718.7" y1="385.8" x2="719.9" y2="391.6" stroke="#4a8bbb" stroke-width="1.7" stroke-linecap="round" opacity="0.37"/>
<line x1="677.4" y1="480.2" x2="674.1" y2="479.2" stroke="#4a8bbb" stroke-width="1.7" stroke-linecap="round" opacity="0.50"/>
<line x1="672.7" y1="442.5" x2="667.4" y2="443.5" stroke="#4a8bbb" stroke-width="1.7" stroke-linecap="round" opacity="0.57"/>
<line x1="637.0" y1="354.3" x2="637.9" y2="351.1" stroke="#4a8bbb" stroke-width="1.7" stroke-linecap="round" opacity="0.42"/>
<line x1="755.9" y1="385.8" x2="757.2" y2="388.9" stroke="#4a8bbb" stroke-width="1.7" stroke-linecap="round" opacity="0.40"/>
<line x1="615.0" y1="412.5" x2="612.7" y2="407.4" stroke="#4a8bbb" stroke-width="1.7" stroke-linecap="round" opacity="0.51"/>
<line x1="713.6" y1="346.8" x2="716.6" y2="348.9" stroke="#4a8bbb" stroke-width="1.7" stroke-linecap="round" opacity="0.36"/>
<line x1="644.7" y1="457.9" x2="641.6" y2="457.3" stroke="#4a8bbb" stroke-width="1.7" stroke-linecap="round" opacity="0.51"/>
<line x1="688.3" y1="424.8" x2="684.4" y2="427.3" stroke="#4a8bbb" stroke-width="1.7" stroke-linecap="round" opacity="0.36"/>
<line x1="756.7" y1="396.7" x2="755.2" y2="399.8" stroke="#4a8bbb" stroke-width="1.7" stroke-linecap="round" opacity="0.28"/>
<line x1="731.1" y1="435.8" x2="727.9" y2="438.5" stroke="#4a8bbb" stroke-width="1.7" stroke-linecap="round" opacity="0.33"/>
<line x1="635.6" y1="439.0" x2="634.0" y2="433.9" stroke="#4a8bbb" stroke-width="1.7" stroke-linecap="round" opacity="0.55"/>
<line x1="670.9" y1="384.8" x2="674.4" y2="384.3" stroke="#4a8bbb" stroke-width="1.7" stroke-linecap="round" opacity="0.45"/>
<line x1="642.6" y1="453.8" x2="639.5" y2="452.5" stroke="#4a8bbb" stroke-width="1.7" stroke-linecap="round" opacity="0.34"/>
<line x1="727.9" y1="464.0" x2="724.6" y2="465.8" stroke="#4a8bbb" stroke-width="1.7" stroke-linecap="round" opacity="0.39"/>
<line x1="738.3" y1="401.8" x2="740.4" y2="407.1" stroke="#4a8bbb" stroke-width="1.7" stroke-linecap="round" opacity="0.48"/>
<line x1="709.7" y1="402.8" x2="710.2" y2="408.5" stroke="#4a8bbb" stroke-width="1.7" stroke-linecap="round" opacity="0.54"/>
<line x1="697.9" y1="398.3" x2="700.0" y2="400.3" stroke="#4a8bbb" stroke-width="1.7" stroke-linecap="round" opacity="0.32"/>
<line x1="743.1" y1="395.5" x2="741.8" y2="399.1" stroke="#4a8bbb" stroke-width="1.7" stroke-linecap="round" opacity="0.55"/>
<line x1="649.7" y1="422.1" x2="649.7" y2="415.9" stroke="#4a8bbb" stroke-width="1.7" stroke-linecap="round" opacity="0.29"/>
<line x1="636.9" y1="375.3" x2="637.9" y2="371.6" stroke="#4a8bbb" stroke-width="1.7" stroke-linecap="round" opacity="0.30"/>
<line x1="699.3" y1="442.9" x2="694.3" y2="443.7" stroke="#4a8bbb" stroke-width="1.7" stroke-linecap="round" opacity="0.32"/>
<line x1="729.2" y1="408.6" x2="728.4" y2="411.6" stroke="#4a8bbb" stroke-width="1.7" stroke-linecap="round" opacity="0.36"/>
<line x1="706.6" y1="470.7" x2="704.0" y2="471.3" stroke="#4a8bbb" stroke-width="1.7" stroke-linecap="round" opacity="0.29"/>
<line x1="642.6" y1="442.2" x2="641.3" y2="439.8" stroke="#4a8bbb" stroke-width="1.7" stroke-linecap="round" opacity="0.31"/>
<line x1="668.4" y1="362.8" x2="671.3" y2="360.8" stroke="#4a8bbb" stroke-width="1.7" stroke-linecap="round" opacity="0.58"/>
<line x1="666.4" y1="459.6" x2="662.5" y2="458.7" stroke="#4a8bbb" stroke-width="1.7" stroke-linecap="round" opacity="0.55"/>
<line x1="730.2" y1="403.6" x2="732.2" y2="408.5" stroke="#4a8bbb" stroke-width="1.7" stroke-linecap="round" opacity="0.32"/>
<line x1="757.0" y1="406.8" x2="757.3" y2="412.5" stroke="#4a8bbb" stroke-width="1.7" stroke-linecap="round" opacity="0.39"/>
<line x1="722.6" y1="372.3" x2="724.9" y2="373.3" stroke="#4a8bbb" stroke-width="1.7" stroke-linecap="round" opacity="0.44"/>
<line x1="639.7" y1="353.9" x2="641.6" y2="349.4" stroke="#4a8bbb" stroke-width="1.7" stroke-linecap="round" opacity="0.38"/>
<line x1="657.9" y1="408.4" x2="656.8" y2="404.0" stroke="#4a8bbb" stroke-width="1.7" stroke-linecap="round" opacity="0.57"/>
<line x1="729.4" y1="438.6" x2="724.0" y2="441.7" stroke="#4a8bbb" stroke-width="1.7" stroke-linecap="round" opacity="0.32"/>
<line x1="739.1" y1="458.6" x2="734.8" y2="459.5" stroke="#4a8bbb" stroke-width="1.7" stroke-linecap="round" opacity="0.27"/>
<line x1="727.8" y1="383.7" x2="727.7" y2="388.5" stroke="#4a8bbb" stroke-width="1.7" stroke-linecap="round" opacity="0.54"/>
<line x1="722.8" y1="461.6" x2="720.3" y2="464.8" stroke="#4a8bbb" stroke-width="1.7" stroke-linecap="round" opacity="0.55"/>
<line x1="699.3" y1="378.5" x2="703.3" y2="379.1" stroke="#4a8bbb" stroke-width="1.7" stroke-linecap="round" opacity="0.43"/>
<line x1="668.7" y1="425.9" x2="664.1" y2="423.2" stroke="#4a8bbb" stroke-width="1.7" stroke-linecap="round" opacity="0.56"/>
<line x1="741.1" y1="420.3" x2="739.7" y2="422.4" stroke="#4a8bbb" stroke-width="1.7" stroke-linecap="round" opacity="0.54"/>
<line x1="730.7" y1="444.4" x2="727.1" y2="447.9" stroke="#4a8bbb" stroke-width="1.7" stroke-linecap="round" opacity="0.36"/>
<line x1="637.2" y1="436.6" x2="634.4" y2="432.5" stroke="#4a8bbb" stroke-width="1.7" stroke-linecap="round" opacity="0.41"/>
<line x1="675.9" y1="413.4" x2="674.9" y2="409.2" stroke="#4a8bbb" stroke-width="1.7" stroke-linecap="round" opacity="0.33"/>
<line x1="690.1" y1="340.9" x2="693.2" y2="341.1" stroke="#4a8bbb" stroke-width="1.7" stroke-linecap="round" opacity="0.42"/>
<line x1="707.8" y1="422.6" x2="706.3" y2="424.9" stroke="#4a8bbb" stroke-width="1.7" stroke-linecap="round" opacity="0.40"/>
<line x1="670.6" y1="407.4" x2="671.2" y2="404.7" stroke="#4a8bbb" stroke-width="1.7" stroke-linecap="round" opacity="0.51"/>
<line x1="693.2" y1="354.9" x2="697.3" y2="353.4" stroke="#4a8bbb" stroke-width="1.7" stroke-linecap="round" opacity="0.38"/>
<line x1="712.8" y1="395.4" x2="712.0" y2="401.8" stroke="#4a8bbb" stroke-width="1.7" stroke-linecap="round" opacity="0.51"/>
<line x1="697.9" y1="374.9" x2="700.3" y2="378.5" stroke="#4a8bbb" stroke-width="1.7" stroke-linecap="round" opacity="0.58"/>
<line x1="711.8" y1="388.6" x2="712.9" y2="394.7" stroke="#4a8bbb" stroke-width="1.7" stroke-linecap="round" opacity="0.27"/>
<line x1="650.3" y1="460.2" x2="644.5" y2="458.9" stroke="#4a8bbb" stroke-width="1.7" stroke-linecap="round" opacity="0.35"/>
<line x1="694.6" y1="379.7" x2="700.2" y2="382.2" stroke="#4a8bbb" stroke-width="1.7" stroke-linecap="round" opacity="0.32"/>
<line x1="683.0" y1="460.0" x2="680.4" y2="460.3" stroke="#4a8bbb" stroke-width="1.7" stroke-linecap="round" opacity="0.31"/>
<line x1="727.2" y1="467.6" x2="721.6" y2="469.6" stroke="#4a8bbb" stroke-width="1.7" stroke-linecap="round" opacity="0.31"/>
<line x1="689.1" y1="381.5" x2="693.9" y2="382.8" stroke="#4a8bbb" stroke-width="1.7" stroke-linecap="round" opacity="0.38"/>
<line x1="723.1" y1="364.7" x2="726.9" y2="369.2" stroke="#4a8bbb" stroke-width="1.7" stroke-linecap="round" opacity="0.29"/>
<line x1="745.0" y1="401.6" x2="745.9" y2="407.1" stroke="#4a8bbb" stroke-width="1.7" stroke-linecap="round" opacity="0.34"/>
<line x1="742.3" y1="400.9" x2="743.5" y2="406.3" stroke="#4a8bbb" stroke-width="1.7" stroke-linecap="round" opacity="0.40"/>
</g>
</g>
<g filter="url(#soft)">
<circle cx="690.5" cy="763.5" r="111.5" fill="#e3eff6" filter="url(#b3)"/>
<g filter="url(#wob)">
<ellipse cx="689.2" cy="761.0" rx="79.0" ry="76.5" transform="rotate(117 690.5 763.5)" fill="none" stroke="#1f4e6e" stroke-width="2.19" opacity="0.88"/>
<ellipse cx="689.5" cy="760.3" rx="83.1" ry="80.3" transform="rotate(91 690.5 763.5)" fill="none" stroke="#1f4e6e" stroke-width="2.09" opacity="0.88"/>
<ellipse cx="687.4" cy="760.6" rx="87.2" ry="87.8" transform="rotate(76 690.5 763.5)" fill="none" stroke="#1f4e6e" stroke-width="1.80" opacity="0.88"/>
<ellipse cx="688.5" cy="764.4" rx="91.3" ry="90.7" transform="rotate(171 690.5 763.5)" fill="none" stroke="#1f4e6e" stroke-width="2.05" opacity="0.88"/>
<ellipse cx="693.9" cy="760.2" rx="95.4" ry="93.4" transform="rotate(155 690.5 763.5)" fill="none" stroke="#1f4e6e" stroke-width="1.82" opacity="0.88"/>
<ellipse cx="687.7" cy="762.1" rx="99.5" ry="96.9" transform="rotate(147 690.5 763.5)" fill="none" stroke="#1f4e6e" stroke-width="2.23" opacity="0.88"/>
<ellipse cx="691.5" cy="762.6" rx="103.6" ry="100.3" transform="rotate(99 690.5 763.5)" fill="none" stroke="#1f4e6e" stroke-width="1.74" opacity="0.88"/>
<ellipse cx="688.4" cy="764.8" rx="107.7" ry="105.6" transform="rotate(77 690.5 763.5)" fill="none" stroke="#1f4e6e" stroke-width="2.23" opacity="0.88"/>
<ellipse cx="690.2" cy="762.1" rx="111.8" ry="111.8" transform="rotate(143 690.5 763.5)" fill="none" stroke="#1f4e6e" stroke-width="1.91" opacity="0.88"/>
<ellipse cx="691.1" cy="763.7" rx="80.5" ry="80.5" transform="rotate(158 690.5 763.5)" fill="none" stroke="#102a3a" stroke-width="1.4" opacity="0.8"/>
<ellipse cx="688.9" cy="767.1" rx="84.5" ry="83.1" transform="rotate(21 690.5 763.5)" fill="none" stroke="#102a3a" stroke-width="1.4" opacity="0.8"/>
<ellipse cx="692.5" cy="760.9" rx="88.6" ry="85.2" transform="rotate(88 690.5 763.5)" fill="none" stroke="#102a3a" stroke-width="1.4" opacity="0.8"/>
<ellipse cx="691.8" cy="765.5" rx="92.7" ry="93.4" transform="rotate(103 690.5 763.5)" fill="none" stroke="#102a3a" stroke-width="1.4" opacity="0.8"/>
<ellipse cx="689.1" cy="765.0" rx="96.7" ry="95.9" transform="rotate(107 690.5 763.5)" fill="none" stroke="#102a3a" stroke-width="1.4" opacity="0.8"/>
<ellipse cx="690.2" cy="766.1" rx="100.8" ry="99.3" transform="rotate(170 690.5 763.5)" fill="none" stroke="#102a3a" stroke-width="1.4" opacity="0.8"/>
<ellipse cx="691.7" cy="760.2" rx="104.8" ry="104.3" transform="rotate(126 690.5 763.5)" fill="none" stroke="#102a3a" stroke-width="1.4" opacity="0.8"/>
<ellipse cx="694.2" cy="765.9" rx="108.8" ry="106.8" transform="rotate(51 690.5 763.5)" fill="none" stroke="#102a3a" stroke-width="1.4" opacity="0.8"/>
<ellipse cx="691.8" cy="759.9" rx="112.9" ry="109.4" transform="rotate(83 690.5 763.5)" fill="none" stroke="#102a3a" stroke-width="1.4" opacity="0.8"/>
<path d="M768.5,793.4 A85.2786822454885,85.2786822454885 0 0 1 754.8,816.8" fill="none" stroke="#ffffff" stroke-width="1.9" stroke-linecap="round" opacity="0.90"/>
<path d="M612.0,791.2 A84.25627643360389,84.25627643360389 0 0 1 607.9,769.9" fill="none" stroke="#ffffff" stroke-width="2.4" stroke-linecap="round" opacity="0.70"/>
<path d="M633.2,834.7 A93.62830248192756,93.62830248192756 0 0 1 611.8,809.9" fill="none" stroke="#ffffff" stroke-width="1.6" stroke-linecap="round" opacity="0.68"/>
<path d="M601.4,769.9 A88.5334103430641,88.5334103430641 0 0 1 602.4,746.1" fill="none" stroke="#ffffff" stroke-width="1.9" stroke-linecap="round" opacity="0.73"/>
<path d="M784.2,735.5 A97.85755426377898,97.85755426377898 0 0 1 788.4,764.2" fill="none" stroke="#ffffff" stroke-width="2.2" stroke-linecap="round" opacity="0.62"/>
<path d="M711.8,657.8 A107.18692428162265,107.18692428162265 0 0 1 746.5,671.0" fill="none" stroke="#ffffff" stroke-width="1.9" stroke-linecap="round" opacity="0.64"/>
<path d="M781.6,800.2 A99.76010783919986,99.76010783919986 0 0 1 776.2,811.3" fill="none" stroke="#ffffff" stroke-width="1.8" stroke-linecap="round" opacity="0.62"/>
<path d="M737.6,828.3 A82.00653189323799,82.00653189323799 0 0 1 728.4,834.1" fill="none" stroke="#ffffff" stroke-width="2.4" stroke-linecap="round" opacity="0.81"/>
<path d="M688.7,848.1 A86.15941358926496,86.15941358926496 0 0 1 671.5,846.2" fill="none" stroke="#ffffff" stroke-width="2.4" stroke-linecap="round" opacity="0.95"/>
<path d="M594.4,772.5 A95.04770485647815,95.04770485647815 0 0 1 593.9,760.3" fill="none" stroke="#ffffff" stroke-width="1.7" stroke-linecap="round" opacity="0.89"/>
<path d="M776.2,774.6 A86.52028109474008,86.52028109474008 0 0 1 765.9,804.7" fill="none" stroke="#ffffff" stroke-width="2.1" stroke-linecap="round" opacity="0.61"/>
<path d="M787.2,749.5 A96.78706434627259,96.78706434627259 0 0 1 785.9,782.8" fill="none" stroke="#ffffff" stroke-width="1.8" stroke-linecap="round" opacity="0.66"/>
<path d="M588.4,741.3 A103.61426143525688,103.61426143525688 0 0 1 600.3,710.3" fill="none" stroke="#ffffff" stroke-width="2.4" stroke-linecap="round" opacity="0.94"/>
<path d="M728.0,663.0 A105.8736063649065,105.8736063649065 0 0 1 758.5,680.5" fill="none" stroke="#ffffff" stroke-width="2.0" stroke-linecap="round" opacity="0.72"/>
<path d="M771.1,778.7 A82.81144422075823,82.81144422075823 0 0 1 767.1,793.3" fill="none" stroke="#ffffff" stroke-width="2.5" stroke-linecap="round" opacity="0.76"/>
<path d="M797.9,754.3 A108.23659363573478,108.23659363573478 0 0 1 793.5,794.0" fill="none" stroke="#ffffff" stroke-width="1.7" stroke-linecap="round" opacity="0.67"/>
<path d="M629.5,701.8 A87.72245417173424,87.72245417173424 0 0 1 654.9,683.9" fill="none" stroke="#ffffff" stroke-width="2.2" stroke-linecap="round" opacity="0.88"/>
<path d="M646.7,693.1 A84.37379762061065,84.37379762061065 0 0 1 674.6,681.9" fill="none" stroke="#ffffff" stroke-width="2.0" stroke-linecap="round" opacity="0.66"/>
<path d="M640.8,853.5 A104.09579206856773,104.09579206856773 0 0 1 614.4,832.0" fill="none" stroke="#ffffff" stroke-width="1.9" stroke-linecap="round" opacity="0.93"/>
<path d="M738.4,854.8 A102.29436263775803,102.29436263775803 0 0 1 725.4,860.8" fill="none" stroke="#ffffff" stroke-width="2.4" stroke-linecap="round" opacity="0.65"/>
<path d="M794.2,750.7 A105.14229339871083,105.14229339871083 0 0 1 793.6,780.9" fill="none" stroke="#ffffff" stroke-width="1.6" stroke-linecap="round" opacity="0.60"/>
<path d="M627.9,675.0 A109.1849249626574,109.1849249626574 0 0 1 651.9,661.8" fill="none" stroke="#ffffff" stroke-width="2.4" stroke-linecap="round" opacity="0.89"/>
<path d="M688.4,851.7 A87.90918544518817,87.90918544518817 0 0 1 672.2,850.0" fill="none" stroke="#ffffff" stroke-width="1.7" stroke-linecap="round" opacity="0.75"/>
<path d="M762.7,717.9 A85.67006294209753,85.67006294209753 0 0 1 770.5,733.5" fill="none" stroke="#ffffff" stroke-width="2.5" stroke-linecap="round" opacity="0.75"/>
<path d="M582.9,760.5 A107.6961903615946,107.6961903615946 0 0 1 586.6,733.5" fill="none" stroke="#ffffff" stroke-width="1.9" stroke-linecap="round" opacity="0.66"/>
<path d="M715.4,686.2 A82.11010949111798,82.11010949111798 0 0 1 727.0,690.9" fill="none" stroke="#ffffff" stroke-width="2.1" stroke-linecap="round" opacity="0.71"/>
<path d="M598.2,730.8 A96.51376395568504,96.51376395568504 0 0 1 613.4,703.7" fill="none" stroke="#ffffff" stroke-width="1.7" stroke-linecap="round" opacity="0.70"/>
<path d="M588.0,760.1 A103.62331076515368,103.62331076515368 0 0 1 592.9,733.5" fill="none" stroke="#ffffff" stroke-width="1.9" stroke-linecap="round" opacity="0.81"/>
<path d="M594.4,756.3 A96.15548766383421,96.15548766383421 0 0 1 600.8,728.5" fill="none" stroke="#ffffff" stroke-width="2.0" stroke-linecap="round" opacity="0.93"/>
<path d="M762.1,692.6 A101.578100701048,101.578100701048 0 0 1 782.8,723.4" fill="none" stroke="#ffffff" stroke-width="2.5" stroke-linecap="round" opacity="0.89"/>
<path d="M750.8,821.9 A85.83976420511185,85.83976420511185 0 0 1 735.7,834.3" fill="none" stroke="#ffffff" stroke-width="1.5" stroke-linecap="round" opacity="0.83"/>
<path d="M774.3,701.5 A103.95020848084835,103.95020848084835 0 0 1 782.6,714.4" fill="none" stroke="#ffffff" stroke-width="1.6" stroke-linecap="round" opacity="0.91"/>
</g>
<path d="M693.7,670.6 A93,93 0 0 1 774.1,722.7" fill="none" stroke="#0d4c7d" stroke-width="20" opacity="0.85" stroke-linecap="round" filter="url(#b5)"/>
<path d="M726.1,665.8 A104,104 0 0 1 775.7,703.8" fill="none" stroke="#0d4c7d" stroke-width="8" opacity="0.35" stroke-linecap="round" filter="url(#b3)"/>
<g filter="url(#wob2)"><circle cx="686" cy="767" r="78.5" fill="#0d4c7d"/>
<path d="M705.7,693.6 A76,76 0 0 1 754.9,734.9" fill="none" stroke="#0d4c7d" stroke-width="14" stroke-linecap="round"/></g>
<g filter="url(#b1)">
<line x1="721.1" y1="758.0" x2="719.8" y2="761.8" stroke="#4a8bbb" stroke-width="1.7" stroke-linecap="round" opacity="0.42"/>
<line x1="753.4" y1="760.8" x2="755.2" y2="764.5" stroke="#4a8bbb" stroke-width="1.7" stroke-linecap="round" opacity="0.43"/>
<line x1="670.9" y1="796.0" x2="665.9" y2="794.2" stroke="#4a8bbb" stroke-width="1.7" stroke-linecap="round" opacity="0.26"/>
<line x1="639.5" y1="752.2" x2="638.6" y2="748.6" stroke="#4a8bbb" stroke-width="1.7" stroke-linecap="round" opacity="0.47"/>
<line x1="665.3" y1="767.7" x2="668.7" y2="763.3" stroke="#4a8bbb" stroke-width="1.7" stroke-linecap="round" opacity="0.59"/>
<line x1="716.9" y1="787.9" x2="716.3" y2="793.4" stroke="#4a8bbb" stroke-width="1.7" stroke-linecap="round" opacity="0.34"/>
<line x1="722.2" y1="801.7" x2="716.7" y2="803.2" stroke="#4a8bbb" stroke-width="1.7" stroke-linecap="round" opacity="0.34"/>
<line x1="730.7" y1="823.7" x2="726.3" y2="826.4" stroke="#4a8bbb" stroke-width="1.7" stroke-linecap="round" opacity="0.28"/>
<line x1="744.6" y1="787.7" x2="743.8" y2="790.3" stroke="#4a8bbb" stroke-width="1.7" stroke-linecap="round" opacity="0.58"/>
<line x1="640.4" y1="719.5" x2="642.4" y2="714.0" stroke="#4a8bbb" stroke-width="1.7" stroke-linecap="round" opacity="0.27"/>
<line x1="716.9" y1="727.5" x2="720.9" y2="729.8" stroke="#4a8bbb" stroke-width="1.7" stroke-linecap="round" opacity="0.57"/>
<line x1="684.6" y1="794.0" x2="681.3" y2="793.5" stroke="#4a8bbb" stroke-width="1.7" stroke-linecap="round" opacity="0.29"/>
<line x1="696.0" y1="779.9" x2="693.8" y2="782.7" stroke="#4a8bbb" stroke-width="1.7" stroke-linecap="round" opacity="0.36"/>
<line x1="686.9" y1="726.6" x2="690.0" y2="726.8" stroke="#4a8bbb" stroke-width="1.7" stroke-linecap="round" opacity="0.37"/>
<line x1="722.1" y1="768.9" x2="724.5" y2="773.7" stroke="#4a8bbb" stroke-width="1.7" stroke-linecap="round" opacity="0.44"/>
<line x1="706.6" y1="815.2" x2="703.8" y2="814.8" stroke="#4a8bbb" stroke-width="1.7" stroke-linecap="round" opacity="0.54"/>
<line x1="638.0" y1="790.8" x2="637.9" y2="786.8" stroke="#4a8bbb" stroke-width="1.7" stroke-linecap="round" opacity="0.43"/>
<line x1="655.3" y1="699.8" x2="660.1" y2="696.7" stroke="#4a8bbb" stroke-width="1.7" stroke-linecap="round" opacity="0.50"/>
<line x1="653.9" y1="732.0" x2="655.5" y2="730.0" stroke="#4a8bbb" stroke-width="1.7" stroke-linecap="round" opacity="0.30"/>
<line x1="744.5" y1="793.2" x2="744.1" y2="796.3" stroke="#4a8bbb" stroke-width="1.7" stroke-linecap="round" opacity="0.28"/>
<line x1="722.7" y1="707.0" x2="725.2" y2="709.5" stroke="#4a8bbb" stroke-width="1.7" stroke-linecap="round" opacity="0.33"/>
<line x1="674.5" y1="815.7" x2="670.3" y2="816.3" stroke="#4a8bbb" stroke-width="1.7" stroke-linecap="round" opacity="0.34"/>
<line x1="757.5" y1="747.8" x2="758.2" y2="751.1" stroke="#4a8bbb" stroke-width="1.7" stroke-linecap="round" opacity="0.59"/>
<line x1="671.5" y1="808.3" x2="667.7" y2="809.1" stroke="#4a8bbb" stroke-width="1.7" stroke-linecap="round" opacity="0.42"/>
<line x1="652.4" y1="767.6" x2="652.4" y2="765.2" stroke="#4a8bbb" stroke-width="1.7" stroke-linecap="round" opacity="0.34"/>
<line x1="726.1" y1="791.1" x2="726.0" y2="793.6" stroke="#4a8bbb" stroke-width="1.7" stroke-linecap="round" opacity="0.36"/>
<line x1="694.9" y1="823.9" x2="689.5" y2="824.3" stroke="#4a8bbb" stroke-width="1.7" stroke-linecap="round" opacity="0.48"/>
<line x1="669.3" y1="698.9" x2="672.8" y2="697.7" stroke="#4a8bbb" stroke-width="1.7" stroke-linecap="round" opacity="0.59"/>
<line x1="724.8" y1="817.9" x2="722.5" y2="819.1" stroke="#4a8bbb" stroke-width="1.7" stroke-linecap="round" opacity="0.54"/>
<line x1="731.1" y1="727.1" x2="733.3" y2="732.3" stroke="#4a8bbb" stroke-width="1.7" stroke-linecap="round" opacity="0.30"/>
<line x1="631.9" y1="761.5" x2="634.8" y2="756.7" stroke="#4a8bbb" stroke-width="1.7" stroke-linecap="round" opacity="0.54"/>
<line x1="623.0" y1="733.2" x2="626.5" y2="729.4" stroke="#4a8bbb" stroke-width="1.7" stroke-linecap="round" opacity="0.33"/>
<line x1="712.9" y1="770.9" x2="712.8" y2="773.7" stroke="#4a8bbb" stroke-width="1.7" stroke-linecap="round" opacity="0.54"/>
<line x1="629.3" y1="747.9" x2="631.8" y2="743.4" stroke="#4a8bbb" stroke-width="1.7" stroke-linecap="round" opacity="0.42"/>
<line x1="753.7" y1="766.3" x2="752.3" y2="770.5" stroke="#4a8bbb" stroke-width="1.7" stroke-linecap="round" opacity="0.44"/>
<line x1="674.0" y1="751.3" x2="677.2" y2="750.3" stroke="#4a8bbb" stroke-width="1.7" stroke-linecap="round" opacity="0.28"/>
<line x1="682.3" y1="830.1" x2="677.2" y2="831.4" stroke="#4a8bbb" stroke-width="1.7" stroke-linecap="round" opacity="0.59"/>
<line x1="639.8" y1="771.3" x2="639.5" y2="766.2" stroke="#4a8bbb" stroke-width="1.7" stroke-linecap="round" opacity="0.52"/>
<line x1="641.1" y1="728.1" x2="641.7" y2="725.2" stroke="#4a8bbb" stroke-width="1.7" stroke-linecap="round" opacity="0.34"/>
<line x1="683.0" y1="725.6" x2="685.5" y2="725.7" stroke="#4a8bbb" stroke-width="1.7" stroke-linecap="round" opacity="0.27"/>
<line x1="681.2" y1="828.9" x2="676.4" y2="827.2" stroke="#4a8bbb" stroke-width="1.7" stroke-linecap="round" opacity="0.35"/>
<line x1="635.1" y1="763.1" x2="635.2" y2="760.3" stroke="#4a8bbb" stroke-width="1.7" stroke-linecap="round" opacity="0.56"/>
<line x1="710.5" y1="837.7" x2="708.0" y2="837.2" stroke="#4a8bbb" stroke-width="1.7" stroke-linecap="round" opacity="0.41"/>
<line x1="715.8" y1="699.6" x2="719.0" y2="700.9" stroke="#4a8bbb" stroke-width="1.7" stroke-linecap="round" opacity="0.32"/>
<line x1="718.1" y1="754.0" x2="718.8" y2="756.9" stroke="#4a8bbb" stroke-width="1.7" stroke-linecap="round" opacity="0.43"/>
<line x1="712.3" y1="756.8" x2="711.9" y2="761.2" stroke="#4a8bbb" stroke-width="1.7" stroke-linecap="round" opacity="0.56"/>
<line x1="673.4" y1="732.1" x2="677.7" y2="732.9" stroke="#4a8bbb" stroke-width="1.7" stroke-linecap="round" opacity="0.26"/>
<line x1="738.5" y1="766.4" x2="738.6" y2="770.0" stroke="#4a8bbb" stroke-width="1.7" stroke-linecap="round" opacity="0.30"/>
<line x1="663.2" y1="803.0" x2="661.9" y2="801.0" stroke="#4a8bbb" stroke-width="1.7" stroke-linecap="round" opacity="0.51"/>
<line x1="698.5" y1="742.7" x2="701.1" y2="747.3" stroke="#4a8bbb" stroke-width="1.7" stroke-linecap="round" opacity="0.57"/>
<line x1="677.8" y1="811.7" x2="671.5" y2="810.9" stroke="#4a8bbb" stroke-width="1.7" stroke-linecap="round" opacity="0.46"/>
<line x1="655.7" y1="805.2" x2="653.4" y2="804.1" stroke="#4a8bbb" stroke-width="1.7" stroke-linecap="round" opacity="0.29"/>
<line x1="705.5" y1="731.0" x2="707.2" y2="733.9" stroke="#4a8bbb" stroke-width="1.7" stroke-linecap="round" opacity="0.34"/>
<line x1="653.7" y1="767.9" x2="653.1" y2="761.6" stroke="#4a8bbb" stroke-width="1.7" stroke-linecap="round" opacity="0.56"/>
<line x1="706.7" y1="709.5" x2="710.6" y2="714.3" stroke="#4a8bbb" stroke-width="1.7" stroke-linecap="round" opacity="0.44"/>
<line x1="680.7" y1="750.4" x2="684.9" y2="750.8" stroke="#4a8bbb" stroke-width="1.7" stroke-linecap="round" opacity="0.51"/>
<line x1="660.2" y1="738.2" x2="662.4" y2="732.5" stroke="#4a8bbb" stroke-width="1.7" stroke-linecap="round" opacity="0.29"/>
<line x1="643.8" y1="777.1" x2="641.6" y2="772.2" stroke="#4a8bbb" stroke-width="1.7" stroke-linecap="round" opacity="0.59"/>
<line x1="684.4" y1="827.2" x2="679.8" y2="828.0" stroke="#4a8bbb" stroke-width="1.7" stroke-linecap="round" opacity="0.39"/>
<line x1="702.9" y1="790.9" x2="699.0" y2="795.5" stroke="#4a8bbb" stroke-width="1.7" stroke-linecap="round" opacity="0.42"/>
<line x1="701.3" y1="838.0" x2="697.4" y2="836.3" stroke="#4a8bbb" stroke-width="1.7" stroke-linecap="round" opacity="0.30"/>
<line x1="695.2" y1="787.4" x2="692.8" y2="788.9" stroke="#4a8bbb" stroke-width="1.7" stroke-linecap="round" opacity="0.33"/>
<line x1="685.4" y1="824.9" x2="680.7" y2="822.2" stroke="#4a8bbb" stroke-width="1.7" stroke-linecap="round" opacity="0.39"/>
<line x1="640.6" y1="796.4" x2="638.3" y2="793.5" stroke="#4a8bbb" stroke-width="1.7" stroke-linecap="round" opacity="0.27"/>
<line x1="675.4" y1="839.1" x2="671.2" y2="840.3" stroke="#4a8bbb" stroke-width="1.7" stroke-linecap="round" opacity="0.47"/>
<line x1="707.2" y1="739.8" x2="710.2" y2="741.3" stroke="#4a8bbb" stroke-width="1.7" stroke-linecap="round" opacity="0.39"/>
<line x1="616.7" y1="794.4" x2="617.2" y2="788.5" stroke="#4a8bbb" stroke-width="1.7" stroke-linecap="round" opacity="0.26"/>
<line x1="749.2" y1="778.0" x2="746.5" y2="781.4" stroke="#4a8bbb" stroke-width="1.7" stroke-linecap="round" opacity="0.46"/>
<line x1="734.3" y1="764.6" x2="731.5" y2="769.5" stroke="#4a8bbb" stroke-width="1.7" stroke-linecap="round" opacity="0.55"/>
<line x1="721.9" y1="759.3" x2="723.7" y2="761.7" stroke="#4a8bbb" stroke-width="1.7" stroke-linecap="round" opacity="0.43"/>
<line x1="653.4" y1="701.2" x2="658.3" y2="700.4" stroke="#4a8bbb" stroke-width="1.7" stroke-linecap="round" opacity="0.52"/>
<line x1="634.3" y1="783.6" x2="630.3" y2="779.9" stroke="#4a8bbb" stroke-width="1.7" stroke-linecap="round" opacity="0.33"/>
<line x1="737.8" y1="736.9" x2="739.8" y2="739.0" stroke="#4a8bbb" stroke-width="1.7" stroke-linecap="round" opacity="0.34"/>
<line x1="644.4" y1="720.9" x2="645.4" y2="718.4" stroke="#4a8bbb" stroke-width="1.7" stroke-linecap="round" opacity="0.43"/>
<line x1="645.0" y1="746.1" x2="645.9" y2="741.4" stroke="#4a8bbb" stroke-width="1.7" stroke-linecap="round" opacity="0.25"/>
<line x1="671.4" y1="817.2" x2="668.2" y2="813.4" stroke="#4a8bbb" stroke-width="1.7" stroke-linecap="round" opacity="0.56"/>
<line x1="651.5" y1="775.4" x2="648.7" y2="769.8" stroke="#4a8bbb" stroke-width="1.7" stroke-linecap="round" opacity="0.50"/>
<line x1="684.5" y1="778.3" x2="679.7" y2="776.5" stroke="#4a8bbb" stroke-width="1.7" stroke-linecap="round" opacity="0.40"/>
<line x1="684.6" y1="829.1" x2="681.8" y2="827.3" stroke="#4a8bbb" stroke-width="1.7" stroke-linecap="round" opacity="0.26"/>
<line x1="661.6" y1="809.5" x2="659.3" y2="807.3" stroke="#4a8bbb" stroke-width="1.7" stroke-linecap="round" opacity="0.53"/>
<line x1="679.5" y1="715.1" x2="685.2" y2="712.5" stroke="#4a8bbb" stroke-width="1.7" stroke-linecap="round" opacity="0.36"/>
<line x1="698.6" y1="734.1" x2="704.0" y2="734.7" stroke="#4a8bbb" stroke-width="1.7" stroke-linecap="round" opacity="0.35"/>
<line x1="735.4" y1="750.0" x2="737.4" y2="752.6" stroke="#4a8bbb" stroke-width="1.7" stroke-linecap="round" opacity="0.40"/>
<line x1="647.8" y1="705.7" x2="650.1" y2="702.4" stroke="#4a8bbb" stroke-width="1.7" stroke-linecap="round" opacity="0.32"/>
<line x1="713.0" y1="761.4" x2="714.7" y2="763.4" stroke="#4a8bbb" stroke-width="1.7" stroke-linecap="round" opacity="0.39"/>
<line x1="741.4" y1="721.9" x2="743.7" y2="727.9" stroke="#4a8bbb" stroke-width="1.7" stroke-linecap="round" opacity="0.58"/>
<line x1="672.0" y1="797.7" x2="669.2" y2="793.1" stroke="#4a8bbb" stroke-width="1.7" stroke-linecap="round" opacity="0.26"/>
<line x1="660.9" y1="728.5" x2="663.8" y2="726.2" stroke="#4a8bbb" stroke-width="1.7" stroke-linecap="round" opacity="0.31"/>
<line x1="725.2" y1="764.6" x2="726.2" y2="770.8" stroke="#4a8bbb" stroke-width="1.7" stroke-linecap="round" opacity="0.29"/>
<line x1="718.2" y1="756.8" x2="720.4" y2="762.0" stroke="#4a8bbb" stroke-width="1.7" stroke-linecap="round" opacity="0.54"/>
<line x1="671.7" y1="775.6" x2="670.0" y2="772.1" stroke="#4a8bbb" stroke-width="1.7" stroke-linecap="round" opacity="0.57"/>
<line x1="703.1" y1="809.5" x2="700.6" y2="809.2" stroke="#4a8bbb" stroke-width="1.7" stroke-linecap="round" opacity="0.39"/>
<line x1="709.6" y1="706.4" x2="712.1" y2="706.0" stroke="#4a8bbb" stroke-width="1.7" stroke-linecap="round" opacity="0.27"/>
<line x1="718.7" y1="745.8" x2="719.9" y2="751.6" stroke="#4a8bbb" stroke-width="1.7" stroke-linecap="round" opacity="0.37"/>
<line x1="677.4" y1="840.2" x2="674.1" y2="839.2" stroke="#4a8bbb" stroke-width="1.7" stroke-linecap="round" opacity="0.50"/>
<line x1="672.7" y1="802.5" x2="667.4" y2="803.5" stroke="#4a8bbb" stroke-width="1.7" stroke-linecap="round" opacity="0.57"/>
<line x1="637.0" y1="714.3" x2="637.9" y2="711.1" stroke="#4a8bbb" stroke-width="1.7" stroke-linecap="round" opacity="0.42"/>
<line x1="755.9" y1="745.8" x2="757.2" y2="748.9" stroke="#4a8bbb" stroke-width="1.7" stroke-linecap="round" opacity="0.40"/>
<line x1="615.0" y1="772.5" x2="612.7" y2="767.4" stroke="#4a8bbb" stroke-width="1.7" stroke-linecap="round" opacity="0.51"/>
<line x1="713.6" y1="706.8" x2="716.6" y2="708.9" stroke="#4a8bbb" stroke-width="1.7" stroke-linecap="round" opacity="0.36"/>
<line x1="644.7" y1="817.9" x2="641.6" y2="817.3" stroke="#4a8bbb" stroke-width="1.7" stroke-linecap="round" opacity="0.51"/>
<line x1="688.3" y1="784.8" x2="684.4" y2="787.3" stroke="#4a8bbb" stroke-width="1.7" stroke-linecap="round" opacity="0.36"/>
<line x1="756.7" y1="756.7" x2="755.2" y2="759.8" stroke="#4a8bbb" stroke-width="1.7" stroke-linecap="round" opacity="0.28"/>
<line x1="731.1" y1="795.8" x2="727.9" y2="798.5" stroke="#4a8bbb" stroke-width="1.7" stroke-linecap="round" opacity="0.33"/>
<line x1="635.6" y1="799.0" x2="634.0" y2="793.9" stroke="#4a8bbb" stroke-width="1.7" stroke-linecap="round" opacity="0.55"/>
<line x1="670.9" y1="744.8" x2="674.4" y2="744.3" stroke="#4a8bbb" stroke-width="1.7" stroke-linecap="round" opacity="0.45"/>
<line x1="642.6" y1="813.8" x2="639.5" y2="812.5" stroke="#4a8bbb" stroke-width="1.7" stroke-linecap="round" opacity="0.34"/>
<line x1="727.9" y1="824.0" x2="724.6" y2="825.8" stroke="#4a8bbb" stroke-width="1.7" stroke-linecap="round" opacity="0.39"/>
<line x1="738.3" y1="761.8" x2="740.4" y2="767.1" stroke="#4a8bbb" stroke-width="1.7" stroke-linecap="round" opacity="0.48"/>
<line x1="709.7" y1="762.8" x2="710.2" y2="768.5" stroke="#4a8bbb" stroke-width="1.7" stroke-linecap="round" opacity="0.54"/>
<line x1="697.9" y1="758.3" x2="700.0" y2="760.3" stroke="#4a8bbb" stroke-width="1.7" stroke-linecap="round" opacity="0.32"/>
<line x1="743.1" y1="755.5" x2="741.8" y2="759.1" stroke="#4a8bbb" stroke-width="1.7" stroke-linecap="round" opacity="0.55"/>
<line x1="649.7" y1="782.1" x2="649.7" y2="775.9" stroke="#4a8bbb" stroke-width="1.7" stroke-linecap="round" opacity="0.29"/>
<line x1="636.9" y1="735.3" x2="637.9" y2="731.6" stroke="#4a8bbb" stroke-width="1.7" stroke-linecap="round" opacity="0.30"/>
<line x1="699.3" y1="802.9" x2="694.3" y2="803.7" stroke="#4a8bbb" stroke-width="1.7" stroke-linecap="round" opacity="0.32"/>
<line x1="729.2" y1="768.6" x2="728.4" y2="771.6" stroke="#4a8bbb" stroke-width="1.7" stroke-linecap="round" opacity="0.36"/>
<line x1="706.6" y1="830.7" x2="704.0" y2="831.3" stroke="#4a8bbb" stroke-width="1.7" stroke-linecap="round" opacity="0.29"/>
<line x1="642.6" y1="802.2" x2="641.3" y2="799.8" stroke="#4a8bbb" stroke-width="1.7" stroke-linecap="round" opacity="0.31"/>
<line x1="668.4" y1="722.8" x2="671.3" y2="720.8" stroke="#4a8bbb" stroke-width="1.7" stroke-linecap="round" opacity="0.58"/>
<line x1="666.4" y1="819.6" x2="662.5" y2="818.7" stroke="#4a8bbb" stroke-width="1.7" stroke-linecap="round" opacity="0.55"/>
<line x1="730.2" y1="763.6" x2="732.2" y2="768.5" stroke="#4a8bbb" stroke-width="1.7" stroke-linecap="round" opacity="0.32"/>
<line x1="757.0" y1="766.8" x2="757.3" y2="772.5" stroke="#4a8bbb" stroke-width="1.7" stroke-linecap="round" opacity="0.39"/>
<line x1="722.6" y1="732.3" x2="724.9" y2="733.3" stroke="#4a8bbb" stroke-width="1.7" stroke-linecap="round" opacity="0.44"/>
<line x1="639.7" y1="713.9" x2="641.6" y2="709.4" stroke="#4a8bbb" stroke-width="1.7" stroke-linecap="round" opacity="0.38"/>
<line x1="657.9" y1="768.4" x2="656.8" y2="764.0" stroke="#4a8bbb" stroke-width="1.7" stroke-linecap="round" opacity="0.57"/>
<line x1="729.4" y1="798.6" x2="724.0" y2="801.7" stroke="#4a8bbb" stroke-width="1.7" stroke-linecap="round" opacity="0.32"/>
<line x1="739.1" y1="818.6" x2="734.8" y2="819.5" stroke="#4a8bbb" stroke-width="1.7" stroke-linecap="round" opacity="0.27"/>
<line x1="727.8" y1="743.7" x2="727.7" y2="748.5" stroke="#4a8bbb" stroke-width="1.7" stroke-linecap="round" opacity="0.54"/>
<line x1="722.8" y1="821.6" x2="720.3" y2="824.8" stroke="#4a8bbb" stroke-width="1.7" stroke-linecap="round" opacity="0.55"/>
<line x1="699.3" y1="738.5" x2="703.3" y2="739.1" stroke="#4a8bbb" stroke-width="1.7" stroke-linecap="round" opacity="0.43"/>
<line x1="668.7" y1="785.9" x2="664.1" y2="783.2" stroke="#4a8bbb" stroke-width="1.7" stroke-linecap="round" opacity="0.56"/>
<line x1="741.1" y1="780.3" x2="739.7" y2="782.4" stroke="#4a8bbb" stroke-width="1.7" stroke-linecap="round" opacity="0.54"/>
<line x1="730.7" y1="804.4" x2="727.1" y2="807.9" stroke="#4a8bbb" stroke-width="1.7" stroke-linecap="round" opacity="0.36"/>
<line x1="637.2" y1="796.6" x2="634.4" y2="792.5" stroke="#4a8bbb" stroke-width="1.7" stroke-linecap="round" opacity="0.41"/>
<line x1="675.9" y1="773.4" x2="674.9" y2="769.2" stroke="#4a8bbb" stroke-width="1.7" stroke-linecap="round" opacity="0.33"/>
<line x1="690.1" y1="700.9" x2="693.2" y2="701.1" stroke="#4a8bbb" stroke-width="1.7" stroke-linecap="round" opacity="0.42"/>
<line x1="707.8" y1="782.6" x2="706.3" y2="784.9" stroke="#4a8bbb" stroke-width="1.7" stroke-linecap="round" opacity="0.40"/>
<line x1="670.6" y1="767.4" x2="671.2" y2="764.7" stroke="#4a8bbb" stroke-width="1.7" stroke-linecap="round" opacity="0.51"/>
<line x1="693.2" y1="714.9" x2="697.3" y2="713.4" stroke="#4a8bbb" stroke-width="1.7" stroke-linecap="round" opacity="0.38"/>
<line x1="712.8" y1="755.4" x2="712.0" y2="761.8" stroke="#4a8bbb" stroke-width="1.7" stroke-linecap="round" opacity="0.51"/>
<line x1="697.9" y1="734.9" x2="700.3" y2="738.5" stroke="#4a8bbb" stroke-width="1.7" stroke-linecap="round" opacity="0.58"/>
<line x1="711.8" y1="748.6" x2="712.9" y2="754.7" stroke="#4a8bbb" stroke-width="1.7" stroke-linecap="round" opacity="0.27"/>
<line x1="650.3" y1="820.2" x2="644.5" y2="818.9" stroke="#4a8bbb" stroke-width="1.7" stroke-linecap="round" opacity="0.35"/>
<line x1="694.6" y1="739.7" x2="700.2" y2="742.2" stroke="#4a8bbb" stroke-width="1.7" stroke-linecap="round" opacity="0.32"/>
<line x1="683.0" y1="820.0" x2="680.4" y2="820.3" stroke="#4a8bbb" stroke-width="1.7" stroke-linecap="round" opacity="0.31"/>
<line x1="727.2" y1="827.6" x2="721.6" y2="829.6" stroke="#4a8bbb" stroke-width="1.7" stroke-linecap="round" opacity="0.31"/>
<line x1="689.1" y1="741.5" x2="693.9" y2="742.8" stroke="#4a8bbb" stroke-width="1.7" stroke-linecap="round" opacity="0.38"/>
<line x1="723.1" y1="724.7" x2="726.9" y2="729.2" stroke="#4a8bbb" stroke-width="1.7" stroke-linecap="round" opacity="0.29"/>
<line x1="745.0" y1="761.6" x2="745.9" y2="767.1" stroke="#4a8bbb" stroke-width="1.7" stroke-linecap="round" opacity="0.34"/>
<line x1="742.3" y1="760.9" x2="743.5" y2="766.3" stroke="#4a8bbb" stroke-width="1.7" stroke-linecap="round" opacity="0.40"/>
</g>
</g>
<g stroke="#1b6fc8" stroke-width="8.7" fill="none" stroke-linecap="round" stroke-linejoin="round" filter="url(#wob3)"><path d="M218.0,163.3 L239.7,158.3"/><path d="M266.3,157.3 L286.3,161.7"/><path d="M311.3,173.3 L329.7,183.3"/><path d="M350.7,203.3 L363.0,217.3"/><path d="M374.7,241.7 L383.0,261.7"/><path d="M384.7,335.0 L378.0,351.7"/><path d="M364.0,376.7 L351.3,393.3"/><path d="M331.3,413.3 L314.7,423.3"/><path d="M288.0,431.7 L268.0,435.7"/><path d="M239.7,436.7 L219.7,433.3"/><path d="M193.0,426.7 L174.0,418.3"/><path d="M149.7,405.0 L134.0,394.0"/><path d="M121.3,366.7 L114.0,350.0"/><path d="M108.7,321.7 L104.7,303.3"/><path d="M105.3,273.3 L112.0,256.7"/><path d="M126.3,230.0 L140.0,212.0 L154.7,195.0"/><path d="M158.0,190.0 L171.3,181.7 L193.0,173.3"/></g>
<g stroke="#1b6fc8" stroke-width="8.7" fill="none" stroke-linecap="round" stroke-linejoin="round" filter="url(#wob3)"><path d="M223.0,455.0 L240.0,452.0 L258.0,447.3"/><path d="M270.7,451.7 L304.7,454.0"/><path d="M318.0,465.0 L332.0,473.0 L343.0,483.3"/><path d="M359.7,508.3 L369.7,523.3"/><path d="M378.7,551.7 L382.0,568.3"/><path d="M380.7,598.3 L382.0,613.3"/><path d="M369.7,645.0 L360.7,661.7"/><path d="M343.0,685.0 L328.0,696.7"/><path d="M303.0,710.0 L284.7,715.0"/><path d="M256.3,721.7 L236.3,724.0"/><path d="M208.0,723.3 L189.7,717.3"/><path d="M165.3,700.7 L151.3,689.3"/><path d="M133.0,667.3 L122.3,652.7"/><path d="M109.7,625.0 L103.0,608.3"/><path d="M102.0,578.3 L105.3,560.7"/><path d="M113.0,530.0 L121.3,515.0"/><path d="M138.0,491.7 L153.0,476.7"/><path d="M175.3,464.3 L196.3,459.3"/></g>
<g stroke="#1b6fc8" stroke-width="8.7" fill="none" stroke-linecap="round" stroke-linejoin="round" filter="url(#wob3)"><path d="M218.0,759.3 L249.7,758.3"/><path d="M264.7,755.0 L298.0,756.0"/><path d="M312.0,765.0 L341.3,778.3"/><path d="M353.0,793.3 L366.3,806.7"/><path d="M380.7,830.0 L385.3,848.3"/><path d="M385.3,876.7 L383.0,896.7"/><path d="M378.7,926.7 L373.0,943.3"/><path d="M361.3,970.7 L348.7,985.0"/><path d="M326.3,1001.7 L309.7,1010.0"/><path d="M281.3,1017.3 L261.3,1020.7"/><path d="M233.0,1018.3 L213.0,1013.3"/><path d="M187.3,1004.0 L169.7,995.0"/><path d="M147.3,978.3 L135.3,963.3"/><path d="M127.3,935.0 L122.3,916.7"/><path d="M118.7,888.3 L118.7,868.3"/><path d="M122.3,840.0 L128.0,821.7"/><path d="M141.3,796.7 L157.3,785.0"/><path d="M183.0,775.0 L203.0,769.3"/></g>
<g stroke="#1b6fc8" stroke-width="8.7" fill="none" stroke-linecap="round" stroke-linejoin="round" filter="url(#wob3)"><path d="M592.6,633.8 L612.4,626.6 L630.4,619.6"/><path d="M634.0,613.0 L650.3,608.6 L673.7,601.4"/><path d="M684.5,603.9 L722.3,603.2"/><path d="M731.3,606.8 L754.7,612.2"/><path d="M776.3,623.0 L796.1,635.6"/><path d="M814.1,655.4 L828.5,673.4"/><path d="M841.1,695.0 L848.3,713.1"/><path d="M855.6,740.1 L856.6,761.7"/><path d="M852.0,788.7 L846.6,808.5"/><path d="M834.0,833.7 L823.1,849.9"/><path d="M805.1,871.5 L788.9,884.1"/><path d="M765.5,896.7 L745.7,905.0"/><path d="M720.5,912.2 L698.9,915.8"/><path d="M671.9,916.5 L650.3,912.9"/><path d="M625.0,902.9 L608.1,893.1"/><path d="M587.2,873.3 L572.1,860.7"/><path d="M557.7,835.5 L547.6,819.3"/><path d="M553.0,704.0 L565.6,689.6"/><path d="M562.0,666.2 L572.8,650.0"/><path d="M580.0,668.0 L596.2,650.0"/></g>
<g stroke="#757575" stroke-width="2.2" fill="none" stroke-linecap="round" filter="url(#b1)"><path d="M396,292.5 L521,401"/><path d="M385,600 L521,458"/><path d="M392,921 L440,775.6 L484.6,640 L538.6,468" stroke-width="1.8"/></g>
<g fill="#2c2c2c" opacity="1" filter="url(#b1)"><g opacity="0.6"><polygon points="551.2,428.0 507.2,415.7 532.8,386.2"/></g><g opacity="0.6"><polygon points="551.0,428.4 536.6,471.8 508.4,444.9"/></g><g opacity="0.6"><polygon points="551.0,428.4 556.2,473.8 519.3,461.3"/></g></g>
<g fill="#2c2c2c" filter="url(#b1)"><g opacity="0.6"><polygon points="554.3,779.5 510.8,765.6 537.4,737.1"/></g><g opacity="0.6"><polygon points="554.3,779.5 524.2,745.2 561.7,734.4"/></g><g opacity="0.6"><polygon points="552.0,781.0 535.8,823.7 508.7,795.7"/></g></g>
<g stroke="#1b6fc8" stroke-width="7.4" fill="none" stroke-linecap="round" stroke-linejoin="round" filter="url(#wob3)"><path d="M385.5,278 L460.4,500 L506,640 L531,727"/><path d="M378,605 L440,658.4 L533,748.5"/><path d="M400,921 L459.4,860 L538.8,793"/></g>
<g stroke="#1b6fc8" stroke-width="9.2" fill="none" stroke-linecap="round" stroke-linejoin="round" filter="url(#wob3)"><path d="M535.9,661.3 L534.9,730"/><path d="M496.2,675.8 L527,724"/><path d="M500,690 L533,746"/><path d="M472,721.4 L531,748.5"/><path d="M476.8,817.2 L536.9,793"/><path d="M506.8,848.2 L528.1,775.6"/></g>
<g stroke="#5e5e5e" stroke-width="9.2" fill="none" stroke-linecap="round" stroke-linejoin="round" filter="url(#bt)"><path d="M98.3,53.6 L132.2,52.2"/><path d="M114.5,52.8 L112.2,99.3"/><path d="M96.4,100 L132,98"/><path d="M144.5,102.7 L156.5,56 L170.8,98.9 L187,44.2"/><path d="M197.5,55 L213.7,101.7 L238.5,50.3"/><path d="M290.3,56.7 C298.7,66.1 296.5,81.8 285.5,91.7 C274.4,101.7 258.6,102.2 250.1,92.9 C241.7,83.5 243.9,67.8 254.9,57.9 C266.0,47.9 281.8,47.4 290.3,56.7 Z"/><path d="M308.9,54.1 L307.9,100.8"/><path d="M308.9,54.1 L347,50.3"/><path d="M308.9,76 L351.8,73.1"/><path d="M307.9,99.8 L352.7,95.1"/><path d="M369.9,44.5 L367,100.8"/><path d="M369.9,48.3 C390,46 409,52 410.5,61 C411,70 395,72 378.5,72.2 L408,98.9"/></g>
<g stroke="#5e5e5e" stroke-width="9.2" fill="none" stroke-linecap="round" stroke-linejoin="round" filter="url(#bt)"><path d="M534,54.8 L532.8,81.6 C534,92 541,97 551,98 C562,98 569,90 572.4,76 L575.9,53.6"/><path d="M590,53.6 L622.5,52.5"/><path d="M606.2,53.2 L605.1,97.9"/><path d="M588.7,100.3 L623.7,96.1"/><path d="M631.1,63.9 C645,59 655,56 664.5,54.3 C680,52.5 690,52.5 698,53"/><path d="M663,55 L664.5,101.7"/><path d="M703.8,55 L717.9,101.7 L743.1,49.8"/><path d="M792.8,55.3 C802.1,63.6 801.6,79.2 791.8,90.1 C782.0,100.9 766.6,103.0 757.4,94.7 C748.1,86.4 748.6,70.8 758.4,59.9 C768.2,49.1 783.6,47.0 792.8,55.3 Z"/><path d="M815.5,55.4 L813.5,99.9"/><path d="M815.5,55.4 L851,50.8"/><path d="M814.9,77 L855.3,73.2"/><path d="M813.5,98.6 L856,94"/><path d="M874.3,44 L871.8,99.9"/><path d="M874.3,47.8 C893,45 911,50 915,58 C918,68 900,72 883.2,73.2 L913.7,99.9"/></g>
<g stroke="#1b6fc8" stroke-width="8.4" fill="none" stroke-linecap="round" stroke-linejoin="round" filter="url(#bt)"><path d="M562.5,978.1 L573,932 L584.7,973.3 L601.6,919.3"/><path d="M617.8,963.1 C628,961 640,959 644.5,956.1 C648,953 647,948 643,946 C637,943.5 629,944 623,949 C617,954 614.5,962 616.5,968 C619,976 627,979.5 636,979.5 C643,979.5 648,978.5 650.8,977.1"/><path d="M664.8,949.2 L663.6,966.9 C664,973 667,976.5 672,976 C680,975 688,962 691.5,946.6 L694.7,977.1"/><path d="M710.4,945.8 L712.6,976.9"/><path d="M712.6,958.5 C716,952 723,947.5 733.4,946.5"/><path d="M781.2,957.4 C783.0,964.3 776.9,971.9 767.4,974.5 C758.0,977.0 748.8,973.5 747.0,966.6 C745.2,959.7 751.3,952.1 760.8,949.5 C770.2,947.0 779.4,950.5 781.2,957.4 Z"/><path d="M798.6,949.5 L798.6,975.5"/><path d="M798.6,962.1 C802,955 811,947.5 818,947.5 C824,949 825.5,962 827.5,975.4"/><path d="M624.8,1058.4 L636.2,1011.7 L650.5,1053.6 L665.8,1000.3"/><path d="M678.2,1030.8 L712.5,1030.8"/><path d="M696.3,1017.4 L696.3,1048.9"/><path d="M723,1015.5 L744,1003.1 L742.1,1055.6"/></g>
</svg>
</body></html>
